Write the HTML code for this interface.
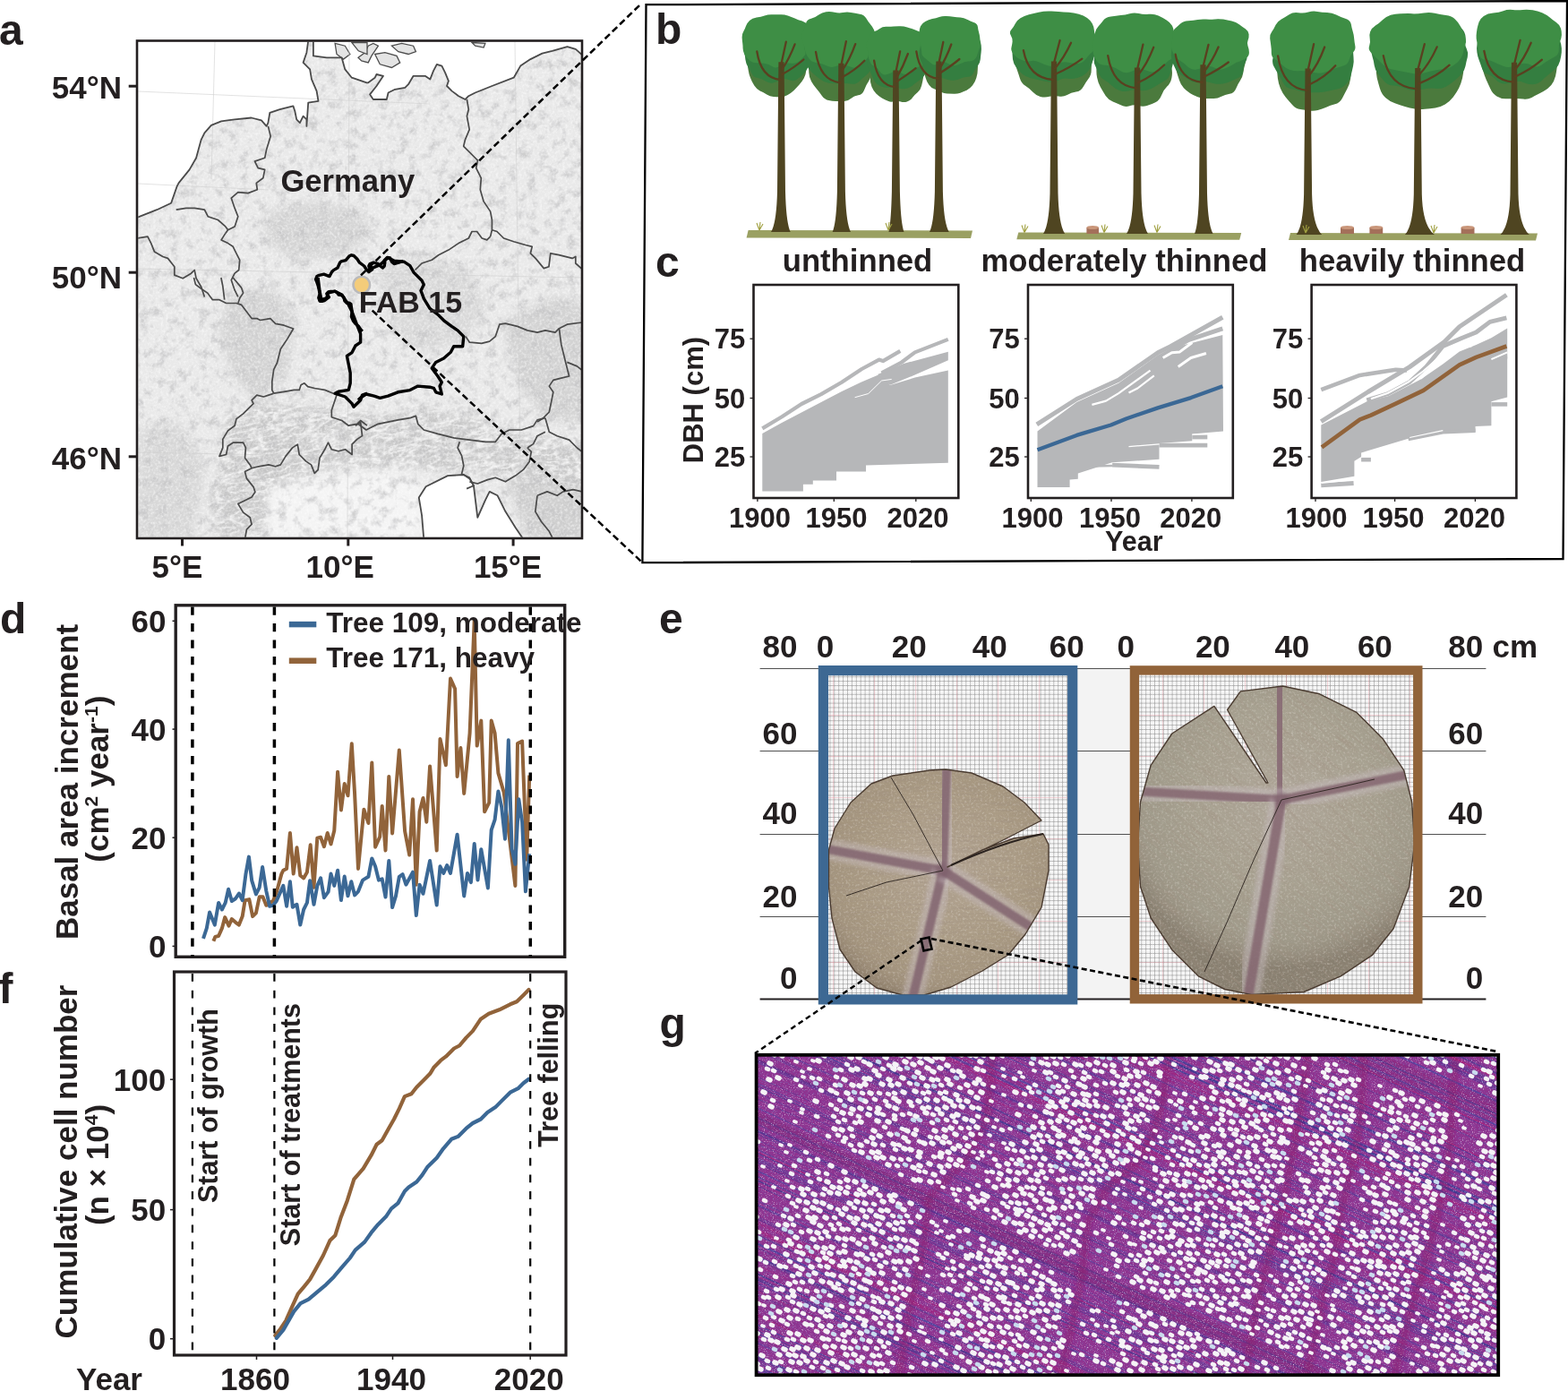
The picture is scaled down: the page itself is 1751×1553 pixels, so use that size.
<!DOCTYPE html><html><head><meta charset="utf-8"><style>html,body{margin:0;padding:0;background:#fff}svg{display:block}</style></head><body>
<svg xmlns="http://www.w3.org/2000/svg" width="1751" height="1553" viewBox="0 0 1751 1553" style="font-family:'Liberation Sans',Arial,sans-serif;font-weight:bold">
<clipPath id="mclip"><rect x="154.3" y="46.8" width="495.40000000000003" height="552.9000000000001"/></clipPath>
<filter id="mtex" x="0" y="0" width="1" height="1"><feTurbulence type="fractalNoise" baseFrequency="0.09" numOctaves="3" seed="5"/><feColorMatrix type="matrix" values="0 0 0 0 0.55  0 0 0 0 0.55  0 0 0 0 0.56  3.2 0 0 0 -1.55"/></filter>
<filter id="mtex2" x="0" y="0" width="1" height="1"><feTurbulence type="fractalNoise" baseFrequency="0.35" numOctaves="2" seed="9"/><feColorMatrix type="matrix" values="0 0 0 0 1  0 0 0 0 1  0 0 0 0 1  2.5 0 0 0 -1.05"/></filter>
<filter id="blur6"><feGaussianBlur stdDeviation="6"/></filter>
<filter id="blur3"><feGaussianBlur stdDeviation="3"/></filter>
<g clip-path="url(#mclip)">
<rect x="154.3" y="46.8" width="495.40000000000003" height="552.9000000000001" fill="#e9e9e9"/>
<path d="M250.0 468.0 L300.0 452.0 L360.0 456.0 L420.0 466.0 L470.0 456.0 L530.0 470.0 L600.0 488.0 L655.0 500.0 L655.0 545.0 L600.0 535.0 L540.0 528.0 L480.0 522.0 L430.0 518.0 L380.0 522.0 L335.0 532.0 L305.0 548.0 L290.0 600.0 L245.0 600.0 L235.0 560.0 L250.0 520.0Z" fill="#c4c4c4" fill-opacity="0.75" filter="url(#blur6)"/>
<path d="M300.0 235.0 L350.0 225.0 L400.0 235.0 L420.0 262.0 L380.0 285.0 L330.0 290.0 L295.0 270.0Z" fill="#cfcfcf" fill-opacity="0.8" filter="url(#blur6)"/>
<path d="M420.0 300.0 L470.0 285.0 L520.0 300.0 L545.0 340.0 L520.0 380.0 L470.0 395.0 L440.0 370.0Z" fill="#d2d2d2" fill-opacity="0.7" filter="url(#blur6)"/>
<path d="M255.0 330.0 L300.0 320.0 L330.0 350.0 L320.0 420.0 L290.0 450.0 L260.0 420.0 L245.0 370.0Z" fill="#cdcdcd" fill-opacity="0.8" filter="url(#blur6)"/>
<path d="M560.0 360.0 L620.0 330.0 L655.0 340.0 L655.0 470.0 L610.0 470.0 L580.0 430.0Z" fill="#cdcdcd" fill-opacity="0.8" filter="url(#blur6)"/>
<path d="M560.0 520.0 L655.0 520.0 L655.0 600.0 L590.0 600.0Z" fill="#c9c9c9" fill-opacity="0.8" filter="url(#blur6)"/>
<path d="M155.0 480.0 L200.0 470.0 L230.0 520.0 L215.0 600.0 L155.0 600.0Z" fill="#d0d0d0" fill-opacity="0.7" filter="url(#blur6)"/>
<filter id="ridgeW" x="0" y="0" width="1" height="1"><feTurbulence type="turbulence" baseFrequency="0.05 0.14" numOctaves="3" seed="2"/><feColorMatrix type="matrix" values="0 0 0 0 1  0 0 0 0 1  0 0 0 0 1  -3 0 0 0 1.1"/></filter>
<filter id="ridgeD" x="0" y="0" width="1" height="1"><feTurbulence type="turbulence" baseFrequency="0.06 0.16" numOctaves="2" seed="6"/><feColorMatrix type="matrix" values="0 0 0 0 0.45  0 0 0 0 0.45  0 0 0 0 0.45  -3 0 0 0 0.9"/></filter>
<mask id="alpsm"><path d="M250.0 462.0 L300.0 446.0 L360.0 450.0 L420.0 460.0 L470.0 450.0 L530.0 464.0 L600.0 482.0 L660.0 494.0 L660.0 550.0 L600.0 540.0 L540.0 534.0 L480.0 528.0 L430.0 524.0 L380.0 528.0 L335.0 538.0 L310.0 552.0 L295.0 604.0 L240.0 604.0 L230.0 560.0 L245.0 520.0Z" fill="#fff" filter="url(#blur6)"/></mask>
<g mask="url(#alpsm)"><rect x="150" y="420" width="520" height="200" filter="url(#ridgeD)" opacity="0.45" transform="rotate(-12 400 520)"/><rect x="150" y="420" width="520" height="200" filter="url(#ridgeW)" opacity="0.8" transform="rotate(-12 400 520)"/></g>
<path d="M300.0 548.0 L360.0 530.0 L440.0 528.0 L475.0 540.0 L470.0 600.0 L300.0 600.0Z" fill="#f4f4f4" filter="url(#blur6)"/>
<rect x="154.3" y="46.8" width="495.40000000000003" height="552.9000000000001" filter="url(#mtex)" opacity="0.75"/>
<rect x="154.3" y="46.8" width="495.40000000000003" height="552.9000000000001" filter="url(#mtex2)" opacity="0.5"/>
<path d="M152.3 44.8 L152.3 242.7 L153.7 242.7 L175.2 234.2 L191.1 226.8 L197.6 208.1 L199.5 204.4 L211.6 189.4 L219.1 176.3 L224.7 155.8 L228.4 148.3 L235.9 139.9 L247.1 135.3 L262.1 133.4 L280.7 131.5 L291.9 134.3 L297.6 140.9 L299.4 137.1 L301.3 125.9 L312.5 122.2 L327.4 118.4 L329.3 124.0 L331.2 133.4 L334.9 137.1 L338.6 129.7 L342.4 133.4 L342.4 140.9 L344.2 114.7 L355.5 112.8 L353.6 101.6 L348.0 88.6 L346.1 77.4 L338.6 69.9 L342.4 58.7 L344.2 45.6 L344.2 44.8Z" fill="#fff"/>
<path d="M349.9 45.6 L349.9 62.4 L364.8 64.3 L381.6 64.3 L385.3 77.4 L392.8 86.7 L409.6 92.3 L411.2 92.3 L418.7 86.7 L420.5 83.0 L428.0 84.8 L420.5 96.0 L413.1 105.4 L416.8 111.0 L431.8 111.0 L433.6 103.5 L441.1 99.8 L452.3 97.9 L456.0 94.2 L461.6 84.8 L474.7 84.8 L480.3 88.6 L484.0 79.2 L487.8 71.8 L493.4 73.6 L497.1 81.1 L500.9 90.4 L499.0 96.0 L504.6 101.6 L512.1 107.2 L519.5 111.0 L523.3 107.2 L530.7 103.5 L549.4 96.0 L573.7 86.7 L581.2 73.6 L592.4 66.1 L605.5 59.6 L616.7 56.8 L633.5 52.1 L642.8 54.9 L651.2 62.4 L651.7 62.4 L651.7 44.8 L349.9 44.8Z" fill="#fff"/>
<path d="M400.0 64.3 L407.5 58.7 L411.2 51.2 L416.8 48.4 L422.4 51.2 L414.9 62.4 L411.2 69.9 L403.7 68.0Z" fill="#e4e4e4" stroke="#4d4d4d" stroke-width="1.3"/>
<path d="M418.7 60.5 L429.9 58.7 L443.0 62.4 L446.7 69.9 L437.4 75.5 L424.3 71.8Z" fill="#e4e4e4" stroke="#4d4d4d" stroke-width="1.3"/>
<path d="M437.4 51.2 L448.6 48.4 L461.6 51.2 L464.4 57.7 L456.0 60.5 L444.8 57.7Z" fill="#e4e4e4" stroke="#4d4d4d" stroke-width="1.3"/>
<path d="M374.1 48.4 L385.3 51.2 L390.9 60.5 L383.5 66.1 L376.0 60.5Z" fill="#e4e4e4" stroke="#4d4d4d" stroke-width="1.3"/>
<path d="M392.8 47.5 L410.0 47.5 L410.0 60.5 L400.3 56.8Z" fill="#e4e4e4" stroke="#4d4d4d" stroke-width="1.3"/>
<path d="M527.0 47.5 L541.9 48.4 L540.1 53.1 L530.7 51.2Z" fill="#e4e4e4" stroke="#4d4d4d" stroke-width="1.3"/>
<path d="M473.3 602.0 L471.1 575.6 L467.8 555.6 L475.6 543.3 L500.0 531.1 L517.8 530.0 L524.4 534.4 L528.9 542.2 L533.3 577.8 L542.2 557.8 L546.7 548.9 L555.6 553.3 L564.4 571.1 L575.6 588.9 L584.4 602.0Z" fill="#fff"/>
<line x1="154" y1="102" x2="480" y2="116" stroke="#cfcfcf" stroke-width="0.6"/>
<line x1="154" y1="205" x2="300" y2="212" stroke="#cfcfcf" stroke-width="0.6"/>
<line x1="240" y1="46" x2="236" y2="200" stroke="#cfcfcf" stroke-width="0.6"/>
<line x1="390" y1="46" x2="388" y2="600" stroke="#cfcfcf" stroke-width="0.6"/>
<line x1="575" y1="46" x2="582" y2="600" stroke="#cfcfcf" stroke-width="0.6"/>
<line x1="154" y1="300" x2="650" y2="310" stroke="#cfcfcf" stroke-width="0.6"/>
<line x1="154" y1="505" x2="650" y2="515" stroke="#cfcfcf" stroke-width="0.6"/>
<path d="M153.7 242.7 L175.2 234.2 L191.1 226.8 L197.6 208.1 L199.5 204.4 L211.6 189.4 L219.1 176.3 L224.7 155.8 L228.4 148.3 L235.9 139.9 L247.1 135.3 L262.1 133.4 L280.7 131.5 L291.9 134.3 L297.6 140.9 L299.4 137.1 L301.3 125.9 L312.5 122.2 L327.4 118.4 L329.3 124.0 L331.2 133.4 L334.9 137.1 L338.6 129.7 L342.4 133.4 L342.4 140.9 L344.2 114.7 L355.5 112.8 L353.6 101.6 L348.0 88.6 L346.1 77.4 L338.6 69.9 L342.4 58.7 L344.2 45.6" fill="none" stroke="#4a4a4a" stroke-width="1.8" stroke-linejoin="round"/>
<path d="M349.9 45.6 L349.9 62.4 L364.8 64.3 L381.6 64.3 L385.3 77.4 L392.8 86.7 L409.6 92.3 L411.2 92.3 L418.7 86.7 L420.5 83.0 L428.0 84.8 L420.5 96.0 L413.1 105.4 L416.8 111.0 L431.8 111.0 L433.6 103.5 L441.1 99.8 L452.3 97.9 L456.0 94.2 L461.6 84.8 L474.7 84.8 L480.3 88.6 L484.0 79.2 L487.8 71.8 L493.4 73.6 L497.1 81.1 L500.9 90.4 L499.0 96.0 L504.6 101.6 L512.1 107.2 L519.5 111.0 L523.3 107.2 L530.7 103.5 L549.4 96.0 L573.7 86.7 L581.2 73.6 L592.4 66.1 L605.5 59.6 L616.7 56.8 L633.5 52.1 L642.8 54.9 L651.2 62.4" fill="none" stroke="#4a4a4a" stroke-width="1.8" stroke-linejoin="round"/>
<path d="M473.3 602.0 L471.1 575.6 L467.8 555.6 L475.6 543.3 L500.0 531.1 L517.8 530.0 L524.4 534.4 L528.9 542.2 L533.3 577.8 L542.2 557.8 L546.7 548.9 L555.6 553.3 L564.4 571.1 L575.6 588.9 L584.4 602.0" fill="none" stroke="#4a4a4a" stroke-width="1.8" stroke-linejoin="round"/>
<path d="M299.4 140.9 L302.2 152.1 L297.6 167.0 L295.7 176.3 L284.5 180.1 L288.2 187.6 L295.7 189.4 L293.8 198.8 L286.3 204.4 L287.3 211.8 L277.0 215.6 L265.8 214.6 L258.3 221.2 L262.1 232.4 L265.8 241.7 L262.1 252.9 L254.6 256.7 L251.8 260.4" fill="none" stroke="#4a4a4a" stroke-width="1.7" stroke-linejoin="round"/>
<path d="M196.7 234.2 L207.9 232.4 L217.2 232.4 L228.4 234.2 L232.2 241.7 L243.4 245.5 L251.8 252.9 L254.6 256.7" fill="none" stroke="#4a4a4a" stroke-width="1.7" stroke-linejoin="round"/>
<path d="M251.8 260.4 L247.1 267.9 L254.6 271.6 L260.2 275.3 L263.9 282.8 L267.7 290.3 L266.7 301.5 L262.1 305.2 L258.3 312.7 L262.1 323.9 L265.8 331.4" fill="none" stroke="#4a4a4a" stroke-width="1.7" stroke-linejoin="round"/>
<path d="M153.7 266.0 L164.9 264.1 L168.7 271.6 L172.4 280.9 L181.8 286.5 L187.4 288.4 L194.8 297.8 L194.8 307.1 L204.2 310.8 L213.5 305.2 L217.2 301.5 L219.1 310.8 L224.7 320.2 L228.4 331.4" fill="none" stroke="#4a4a4a" stroke-width="1.7" stroke-linejoin="round"/>
<path d="M216.5 310.0 L218.4 317.6 L226.0 323.3 L231.7 327.1 L237.4 334.7 L245.0 334.7 L252.6 338.5 L264.0 338.5 L269.7 340.4 L275.4 348.0 L281.1 355.6 L286.8 355.6 L290.6 357.5 L301.9 355.6 L307.6 361.3 L317.1 363.2 L327.6 367.0 L320.9 378.4 L313.3 389.8 L309.5 405.0 L305.7 412.6 L303.8 425.9 L303.8 435.4 L305.7 439.2" fill="none" stroke="#4a4a4a" stroke-width="1.7" stroke-linejoin="round"/>
<path d="M246.9 310.0 L248.8 319.5 L250.7 334.7" fill="none" stroke="#4a4a4a" stroke-width="1.7" stroke-linejoin="round"/>
<path d="M260.2 310.0 L269.7 321.4 L271.6 327.1 L267.8 332.8 L265.9 338.5" fill="none" stroke="#4a4a4a" stroke-width="1.7" stroke-linejoin="round"/>
<path d="M305.7 439.2 L317.1 437.3 L328.5 435.4 L334.2 435.4 L336.1 429.7 L339.9 427.8 L343.7 431.6 L351.3 433.5 L362.7 435.4 L372.2 439.2 L376.0 441.1" fill="none" stroke="#4a4a4a" stroke-width="1.7" stroke-linejoin="round"/>
<path d="M305.7 439.2 L300.0 441.1 L294.3 443.0 L286.8 441.1 L281.1 446.8 L283.0 450.6 L271.6 461.9 L264.0 467.6 L262.1 475.2 L254.5 480.9 L248.8 490.4 L248.8 499.9 L245.0 509.4 L252.6 507.5 L254.5 498.0 L260.2 494.2 L271.6 494.2 L274.4 499.9 L273.5 511.3 L279.2 518.9 L281.1 522.7" fill="none" stroke="#4a4a4a" stroke-width="1.7" stroke-linejoin="round"/>
<path d="M281.1 522.7 L273.5 526.5 L275.4 534.1 L283.0 543.6 L284.9 549.3 L281.1 555.0 L265.9 562.6 L271.6 572.1 L279.2 577.8 L281.1 585.4 L275.4 591.1 L273.5 602.5" fill="none" stroke="#4a4a4a" stroke-width="1.7" stroke-linejoin="round"/>
<path d="M281.1 522.7 L288.7 520.8 L300.0 518.9 L307.6 520.8 L313.3 518.9 L319.0 509.4 L326.6 499.9 L332.3 496.1 L334.2 507.5 L341.8 515.1 L347.5 518.9 L351.3 528.4 L355.1 524.6 L357.0 511.3 L362.7 501.8 L366.5 494.2 L370.3 501.8 L377.9 503.7 L385.5 501.8 L393.1 507.5 L393.1 496.1 L398.8 490.4 L404.5 486.6 L402.6 471.4 L396.9 475.2" fill="none" stroke="#4a4a4a" stroke-width="1.7" stroke-linejoin="round"/>
<path d="M376.0 441.1 L370.3 458.1 L370.3 465.7 L381.7 469.5 L389.3 475.2 L398.8 473.3 L402.6 469.5 L410.0 475.2" fill="none" stroke="#4a4a4a" stroke-width="1.7" stroke-linejoin="round"/>
<path d="M521.4 111.0 L523.3 122.2 L521.4 129.7 L524.2 144.6 L519.5 155.8 L517.7 163.3 L528.9 174.5 L533.5 179.1 L531.7 187.6 L537.3 198.8 L536.3 211.8 L540.1 224.9 L547.6 236.1 L549.4 245.5 L549.4 256.7 L547.6 264.1" fill="none" stroke="#4a4a4a" stroke-width="1.7" stroke-linejoin="round"/>
<path d="M463.5 301.5 L471.0 294.0 L482.2 290.3 L489.7 284.7 L500.9 279.1 L512.1 271.6 L523.3 266.0 L527.0 258.5 L532.6 258.5 L538.2 266.0 L543.8 267.9 L547.6 264.1" fill="none" stroke="#4a4a4a" stroke-width="1.7" stroke-linejoin="round"/>
<path d="M549.4 256.7 L555.0 258.5 L562.5 266.0 L573.7 269.7 L586.8 273.5 L594.2 275.3 L592.4 282.8 L598.0 288.4 L607.3 299.6 L612.9 297.8 L614.8 282.8 L624.1 284.7 L639.1 288.4 L642.8 286.5 L642.8 294.0 L651.2 301.5" fill="none" stroke="#4a4a4a" stroke-width="1.7" stroke-linejoin="round"/>
<path d="M520.0 375.6 L524.4 382.2 L537.8 383.3 L546.7 381.1 L553.3 375.6 L557.8 362.2 L564.4 361.1 L577.8 364.4 L588.9 368.9 L600.0 371.1 L608.9 368.9 L620.0 371.1 L624.4 366.7 L633.3 362.2 L650.0 360.0" fill="none" stroke="#4a4a4a" stroke-width="1.7" stroke-linejoin="round"/>
<path d="M624.4 366.7 L626.7 384.4 L631.1 402.2 L633.3 411.1 L635.6 420.0 L626.7 422.2 L617.8 424.4 L613.3 431.1 L617.8 437.8 L615.6 448.9 L613.3 460.0 L606.7 466.7 L600.0 471.1" fill="none" stroke="#4a4a4a" stroke-width="1.7" stroke-linejoin="round"/>
<path d="M633.3 404.4 L644.4 408.9 L650.0 413.3" fill="none" stroke="#4a4a4a" stroke-width="1.7" stroke-linejoin="round"/>
<path d="M400.0 473.3 L408.9 480.0 L422.2 473.3 L433.3 471.1 L444.4 468.9 L457.8 466.7 L464.4 464.4 L466.7 473.3 L473.3 480.0 L488.9 484.4 L506.7 488.9 L524.4 491.1 L542.2 493.3 L553.3 493.3 L560.0 484.4 L568.9 480.0 L582.2 480.0 L595.6 475.6 L600.0 468.9 L608.9 466.7" fill="none" stroke="#4a4a4a" stroke-width="1.7" stroke-linejoin="round"/>
<path d="M513.3 493.3 L511.1 500.0 L515.6 508.9 L517.8 520.0 L515.6 528.9 L524.4 533.3 L528.9 542.2 L521.1 545.6" fill="none" stroke="#4a4a4a" stroke-width="1.7" stroke-linejoin="round"/>
<path d="M524.4 537.8 L533.3 540.0 L544.4 535.6 L553.3 533.3 L564.4 537.8 L575.6 531.1 L584.4 524.4 L591.1 515.6 L593.3 504.4 L588.9 500.0" fill="none" stroke="#4a4a4a" stroke-width="1.7" stroke-linejoin="round"/>
<path d="M608.9 466.7 L613.3 482.2 L622.2 486.7 L635.6 491.1 L644.4 500.0 L650.0 504.4" fill="none" stroke="#4a4a4a" stroke-width="1.7" stroke-linejoin="round"/>
<path d="M600.0 553.3 L611.1 548.9 L622.2 553.3 L628.9 548.9 L640.0 546.7 L650.0 548.9" fill="none" stroke="#4a4a4a" stroke-width="1.7" stroke-linejoin="round"/>
<path d="M588.9 500.0 L595.6 495.6 L600.0 486.7 L608.9 482.2" fill="none" stroke="#4a4a4a" stroke-width="1.7" stroke-linejoin="round"/>
<path d="M600.0 553.3 L597.8 571.1 L604.4 582.2 L613.3 593.3 L617.8 602.2" fill="none" stroke="#4a4a4a" stroke-width="1.7" stroke-linejoin="round"/>
<path d="M404.7 370.0 L402.8 367.9 L400.2 364.0 L397.0 361.4 L394.4 358.2 L392.5 353.7 L393.1 347.3 L392.5 344.1 L391.9 339.5 L389.9 338.3 L387.3 338.3 L384.8 335.7 L384.1 332.5 L382.2 329.9 L378.3 329.2 L376.4 326.7 L374.5 325.4 L369.3 325.4 L366.7 326.0 L364.8 328.0 L367.4 331.8 L365.5 333.1 L362.2 335.7 L359.7 336.3 L357.1 336.3 L355.8 332.5 L357.1 328.0 L356.4 324.1 L355.2 318.9 L353.9 315.1 L352.6 311.9 L353.9 308.6 L356.4 307.3 L361.6 306.1 L368.0 308.6 L370.6 303.5 L372.5 301.6 L377.0 299.0 L379.6 293.2 L380.9 291.9 L386.1 290.6 L389.9 286.1 L392.5 284.8 L395.1 285.5 L398.9 289.3 L401.5 293.2 L406.7 297.0 L409.2 300.9 L411.8 303.5 L415.7 300.9 L414.4 298.3 L411.8 297.0 L413.1 294.5 L417.0 293.2 L422.1 294.5 L424.7 297.0 L427.3 299.0 L429.2 297.0 L429.8 293.2 L429.2 290.6 L432.4 287.4 L435.6 288.0 L437.6 292.5 L440.1 294.5 L445.3 293.2 L450.0 291.2" fill="none" stroke="#000" stroke-width="3.4" stroke-linejoin="round"/>
<path d="M411.1 301.1 L416.7 298.9 L424.4 295.6 L433.3 287.8 L440.0 291.1 L451.1 292.2 L457.8 296.7 L462.2 304.4 L471.1 313.3 L473.3 317.8 L470.0 324.4 L473.3 333.3 L480.0 344.4 L488.9 351.1 L495.6 357.8 L504.4 364.4 L511.1 368.9 L517.8 375.6 L516.7 386.7 L506.7 386.7 L503.3 393.3 L495.6 400.0 L486.7 404.4 L482.2 411.1 L488.9 420.0 L493.3 426.7 L491.1 431.1 L493.3 440.0 L486.7 437.8 L484.4 433.3 L480.0 432.2 L466.7 431.1 L457.8 435.6 L444.4 437.8 L433.3 442.2 L424.4 444.4 L417.8 442.2 L408.9 440.0 L402.2 444.4 L400.0 446.7" fill="none" stroke="#000" stroke-width="3.4" stroke-linejoin="round"/>
<path d="M410.0 439.2 L404.5 441.1 L402.6 446.8 L395.0 454.3 L393.1 450.6 L385.5 443.0 L374.1 439.2 L377.9 437.3 L389.3 435.4 L391.2 427.8 L391.2 416.4 L387.4 397.4 L393.1 393.6 L396.9 386.0 L402.6 382.2 L402.6 372.7 L398.8 363.2 L393.1 348.0 L389.3 340.4 L381.7 329.0 L374.1 325.2 L366.5 327.1 L364.6 332.8 L358.9 334.7 L357.0 325.2 L355.1 310.0" fill="none" stroke="#000" stroke-width="3.4" stroke-linejoin="round"/>
</g>
<circle cx="403.8" cy="318" r="9.3" fill="#f4cc7a" stroke="#b9b9bb" stroke-width="2.6"/>
<text x="313.4" y="213.6" font-size="34.6" text-anchor="start" fill="#231f20" >Germany</text>
<text x="400.8" y="349.3" font-size="34" text-anchor="start" fill="#231f20" >FAB 15</text>
<clipPath id="gclip"><rect x="844" y="1177" width="829.5" height="358.5"/></clipPath>
<g clip-path="url(#gclip)">
<rect x="844" y="1177" width="829.5" height="358.5" fill="#8e3490"/>
<filter id="gspk" x="0" y="0" width="1" height="1"><feTurbulence type="fractalNoise" baseFrequency="0.9" numOctaves="1" seed="12"/><feColorMatrix type="matrix" values="0 0 0 0 0.95  0 0 0 0 0.85  0 0 0 0 0.95  4 0 0 0 -2.3"/></filter>
<filter id="gspk2" x="0" y="0" width="1" height="1"><feTurbulence type="fractalNoise" baseFrequency="0.6" numOctaves="1" seed="21"/><feColorMatrix type="matrix" values="0 0 0 0 0.2  0 0 0 0 0.25  0 0 0 0 0.6  4 0 0 0 -2.2"/></filter>
<line x1="834" y1="1513.9" x2="1683.5" y2="1904.6" stroke="#3a4aa6" stroke-width="1.2" stroke-opacity="0.32"/>
<line x1="834" y1="832.2" x2="1683.5" y2="1222.9" stroke="#5a3596" stroke-width="1.4" stroke-opacity="0.62"/>
<line x1="834" y1="786.9" x2="1683.5" y2="1177.7" stroke="#34449e" stroke-width="1.2" stroke-opacity="0.32"/>
<line x1="834" y1="1197.0" x2="1683.5" y2="1587.8" stroke="#2c3a90" stroke-width="0.7" stroke-opacity="0.50"/>
<line x1="834" y1="1260.6" x2="1683.5" y2="1651.3" stroke="#34449e" stroke-width="1.4" stroke-opacity="0.32"/>
<line x1="834" y1="1073.7" x2="1683.5" y2="1464.5" stroke="#5a3596" stroke-width="2.0" stroke-opacity="0.32"/>
<line x1="834" y1="988.3" x2="1683.5" y2="1379.0" stroke="#34449e" stroke-width="0.8" stroke-opacity="0.34"/>
<line x1="834" y1="1204.4" x2="1683.5" y2="1595.1" stroke="#3a4aa6" stroke-width="1.6" stroke-opacity="0.34"/>
<line x1="834" y1="1267.2" x2="1683.5" y2="1657.9" stroke="#5a3596" stroke-width="1.1" stroke-opacity="0.49"/>
<line x1="834" y1="1207.6" x2="1683.5" y2="1598.4" stroke="#2c3a90" stroke-width="1.5" stroke-opacity="0.47"/>
<line x1="834" y1="1098.4" x2="1683.5" y2="1489.2" stroke="#5a3596" stroke-width="1.0" stroke-opacity="0.50"/>
<line x1="834" y1="1045.7" x2="1683.5" y2="1436.5" stroke="#b01c74" stroke-width="0.9" stroke-opacity="0.36"/>
<line x1="834" y1="822.4" x2="1683.5" y2="1213.1" stroke="#34449e" stroke-width="1.0" stroke-opacity="0.47"/>
<line x1="834" y1="1339.5" x2="1683.5" y2="1730.2" stroke="#3a4aa6" stroke-width="1.0" stroke-opacity="0.64"/>
<line x1="834" y1="1165.8" x2="1683.5" y2="1556.5" stroke="#2c3a90" stroke-width="0.8" stroke-opacity="0.42"/>
<line x1="834" y1="1093.7" x2="1683.5" y2="1484.5" stroke="#b01c74" stroke-width="1.9" stroke-opacity="0.33"/>
<line x1="834" y1="1214.6" x2="1683.5" y2="1605.3" stroke="#5a3596" stroke-width="1.8" stroke-opacity="0.41"/>
<line x1="834" y1="1231.6" x2="1683.5" y2="1622.4" stroke="#3a4aa6" stroke-width="1.4" stroke-opacity="0.46"/>
<line x1="834" y1="1511.3" x2="1683.5" y2="1902.1" stroke="#2c3a90" stroke-width="1.3" stroke-opacity="0.53"/>
<line x1="834" y1="1340.8" x2="1683.5" y2="1731.6" stroke="#2c3a90" stroke-width="1.0" stroke-opacity="0.50"/>
<line x1="834" y1="984.2" x2="1683.5" y2="1375.0" stroke="#b01c74" stroke-width="1.1" stroke-opacity="0.53"/>
<line x1="834" y1="1508.1" x2="1683.5" y2="1898.9" stroke="#2c3a90" stroke-width="1.1" stroke-opacity="0.51"/>
<line x1="834" y1="804.1" x2="1683.5" y2="1194.8" stroke="#b01c74" stroke-width="1.7" stroke-opacity="0.35"/>
<line x1="834" y1="1074.7" x2="1683.5" y2="1465.5" stroke="#34449e" stroke-width="1.9" stroke-opacity="0.47"/>
<line x1="834" y1="1115.7" x2="1683.5" y2="1506.4" stroke="#34449e" stroke-width="1.4" stroke-opacity="0.61"/>
<line x1="834" y1="1446.9" x2="1683.5" y2="1837.7" stroke="#b01c74" stroke-width="1.0" stroke-opacity="0.45"/>
<line x1="834" y1="1302.2" x2="1683.5" y2="1692.9" stroke="#3a4aa6" stroke-width="1.1" stroke-opacity="0.38"/>
<line x1="834" y1="897.7" x2="1683.5" y2="1288.5" stroke="#2c3a90" stroke-width="0.9" stroke-opacity="0.38"/>
<line x1="834" y1="1420.6" x2="1683.5" y2="1811.4" stroke="#b01c74" stroke-width="0.9" stroke-opacity="0.40"/>
<line x1="834" y1="1091.5" x2="1683.5" y2="1482.3" stroke="#34449e" stroke-width="1.1" stroke-opacity="0.50"/>
<line x1="834" y1="1308.4" x2="1683.5" y2="1699.1" stroke="#34449e" stroke-width="1.3" stroke-opacity="0.52"/>
<line x1="834" y1="1121.6" x2="1683.5" y2="1512.4" stroke="#2c3a90" stroke-width="1.8" stroke-opacity="0.63"/>
<line x1="834" y1="1070.3" x2="1683.5" y2="1461.1" stroke="#5a3596" stroke-width="1.2" stroke-opacity="0.34"/>
<line x1="834" y1="806.7" x2="1683.5" y2="1197.5" stroke="#b01c74" stroke-width="0.7" stroke-opacity="0.37"/>
<line x1="834" y1="844.8" x2="1683.5" y2="1235.5" stroke="#34449e" stroke-width="1.4" stroke-opacity="0.34"/>
<line x1="834" y1="877.8" x2="1683.5" y2="1268.6" stroke="#5a3596" stroke-width="0.7" stroke-opacity="0.43"/>
<line x1="834" y1="813.1" x2="1683.5" y2="1203.9" stroke="#2c3a90" stroke-width="0.9" stroke-opacity="0.43"/>
<line x1="834" y1="1519.9" x2="1683.5" y2="1910.7" stroke="#3a4aa6" stroke-width="1.4" stroke-opacity="0.47"/>
<line x1="834" y1="1434.9" x2="1683.5" y2="1825.6" stroke="#2c3a90" stroke-width="2.0" stroke-opacity="0.46"/>
<line x1="834" y1="1006.0" x2="1683.5" y2="1396.8" stroke="#b01c74" stroke-width="0.8" stroke-opacity="0.56"/>
<line x1="834" y1="1139.2" x2="1683.5" y2="1529.9" stroke="#3a4aa6" stroke-width="1.6" stroke-opacity="0.48"/>
<line x1="834" y1="1516.4" x2="1683.5" y2="1907.1" stroke="#34449e" stroke-width="1.3" stroke-opacity="0.35"/>
<line x1="834" y1="1486.9" x2="1683.5" y2="1877.7" stroke="#5a3596" stroke-width="1.7" stroke-opacity="0.40"/>
<line x1="834" y1="1312.9" x2="1683.5" y2="1703.7" stroke="#2c3a90" stroke-width="1.0" stroke-opacity="0.43"/>
<line x1="834" y1="1041.0" x2="1683.5" y2="1431.8" stroke="#34449e" stroke-width="0.9" stroke-opacity="0.49"/>
<line x1="834" y1="1020.2" x2="1683.5" y2="1411.0" stroke="#5a3596" stroke-width="0.9" stroke-opacity="0.58"/>
<line x1="834" y1="1400.7" x2="1683.5" y2="1791.4" stroke="#34449e" stroke-width="1.7" stroke-opacity="0.56"/>
<line x1="834" y1="916.6" x2="1683.5" y2="1307.4" stroke="#34449e" stroke-width="1.3" stroke-opacity="0.56"/>
<line x1="834" y1="1387.9" x2="1683.5" y2="1778.7" stroke="#2c3a90" stroke-width="1.3" stroke-opacity="0.37"/>
<line x1="834" y1="1520.8" x2="1683.5" y2="1911.5" stroke="#5a3596" stroke-width="1.2" stroke-opacity="0.63"/>
<line x1="834" y1="1519.6" x2="1683.5" y2="1910.3" stroke="#3a4aa6" stroke-width="1.1" stroke-opacity="0.38"/>
<line x1="834" y1="1132.4" x2="1683.5" y2="1523.1" stroke="#34449e" stroke-width="1.1" stroke-opacity="0.47"/>
<line x1="834" y1="1428.1" x2="1683.5" y2="1818.9" stroke="#5a3596" stroke-width="1.3" stroke-opacity="0.53"/>
<line x1="834" y1="1423.5" x2="1683.5" y2="1814.2" stroke="#2c3a90" stroke-width="0.8" stroke-opacity="0.44"/>
<line x1="834" y1="1138.7" x2="1683.5" y2="1529.5" stroke="#34449e" stroke-width="0.8" stroke-opacity="0.58"/>
<line x1="834" y1="826.3" x2="1683.5" y2="1217.0" stroke="#3a4aa6" stroke-width="1.9" stroke-opacity="0.55"/>
<line x1="834" y1="1077.5" x2="1683.5" y2="1468.3" stroke="#b01c74" stroke-width="1.9" stroke-opacity="0.55"/>
<line x1="834" y1="1550.0" x2="1683.5" y2="1940.8" stroke="#34449e" stroke-width="0.6" stroke-opacity="0.51"/>
<line x1="834" y1="1401.0" x2="1683.5" y2="1791.8" stroke="#b01c74" stroke-width="0.8" stroke-opacity="0.59"/>
<line x1="834" y1="1281.8" x2="1683.5" y2="1672.6" stroke="#b01c74" stroke-width="1.1" stroke-opacity="0.49"/>
<line x1="834" y1="774.1" x2="1683.5" y2="1164.9" stroke="#34449e" stroke-width="1.7" stroke-opacity="0.55"/>
<line x1="834" y1="1177.5" x2="1683.5" y2="1568.2" stroke="#2c3a90" stroke-width="1.9" stroke-opacity="0.45"/>
<line x1="834" y1="1416.7" x2="1683.5" y2="1807.5" stroke="#34449e" stroke-width="0.9" stroke-opacity="0.39"/>
<line x1="834" y1="1157.2" x2="1683.5" y2="1547.9" stroke="#3a4aa6" stroke-width="1.7" stroke-opacity="0.41"/>
<line x1="834" y1="1091.6" x2="1683.5" y2="1482.4" stroke="#5a3596" stroke-width="0.8" stroke-opacity="0.62"/>
<line x1="834" y1="1473.8" x2="1683.5" y2="1864.6" stroke="#3a4aa6" stroke-width="1.5" stroke-opacity="0.59"/>
<line x1="834" y1="1092.9" x2="1683.5" y2="1483.6" stroke="#5a3596" stroke-width="1.9" stroke-opacity="0.48"/>
<line x1="834" y1="878.2" x2="1683.5" y2="1269.0" stroke="#5a3596" stroke-width="1.3" stroke-opacity="0.61"/>
<line x1="834" y1="1242.9" x2="1683.5" y2="1633.7" stroke="#34449e" stroke-width="1.7" stroke-opacity="0.35"/>
<line x1="834" y1="1135.1" x2="1683.5" y2="1525.9" stroke="#34449e" stroke-width="1.6" stroke-opacity="0.49"/>
<line x1="834" y1="1301.8" x2="1683.5" y2="1692.6" stroke="#3a4aa6" stroke-width="1.3" stroke-opacity="0.47"/>
<line x1="834" y1="1462.3" x2="1683.5" y2="1853.0" stroke="#2c3a90" stroke-width="0.7" stroke-opacity="0.37"/>
<line x1="834" y1="1373.7" x2="1683.5" y2="1764.4" stroke="#2c3a90" stroke-width="1.3" stroke-opacity="0.50"/>
<line x1="834" y1="1110.9" x2="1683.5" y2="1501.7" stroke="#2c3a90" stroke-width="1.5" stroke-opacity="0.48"/>
<line x1="834" y1="916.2" x2="1683.5" y2="1307.0" stroke="#5a3596" stroke-width="1.0" stroke-opacity="0.48"/>
<line x1="834" y1="1162.4" x2="1683.5" y2="1553.2" stroke="#b01c74" stroke-width="0.9" stroke-opacity="0.48"/>
<line x1="834" y1="1493.8" x2="1683.5" y2="1884.6" stroke="#3a4aa6" stroke-width="1.8" stroke-opacity="0.37"/>
<line x1="834" y1="866.5" x2="1683.5" y2="1257.3" stroke="#b01c74" stroke-width="0.8" stroke-opacity="0.45"/>
<line x1="834" y1="1292.9" x2="1683.5" y2="1683.7" stroke="#2c3a90" stroke-width="1.2" stroke-opacity="0.37"/>
<line x1="834" y1="1383.0" x2="1683.5" y2="1773.7" stroke="#3a4aa6" stroke-width="1.9" stroke-opacity="0.35"/>
<line x1="834" y1="871.2" x2="1683.5" y2="1261.9" stroke="#3a4aa6" stroke-width="1.8" stroke-opacity="0.64"/>
<line x1="834" y1="1353.2" x2="1683.5" y2="1744.0" stroke="#34449e" stroke-width="0.7" stroke-opacity="0.61"/>
<line x1="834" y1="1547.4" x2="1683.5" y2="1938.2" stroke="#34449e" stroke-width="1.8" stroke-opacity="0.36"/>
<line x1="834" y1="1550.8" x2="1683.5" y2="1941.5" stroke="#b01c74" stroke-width="1.2" stroke-opacity="0.45"/>
<line x1="834" y1="1011.3" x2="1683.5" y2="1402.1" stroke="#3a4aa6" stroke-width="1.6" stroke-opacity="0.31"/>
<line x1="834" y1="1123.2" x2="1683.5" y2="1514.0" stroke="#5a3596" stroke-width="1.6" stroke-opacity="0.43"/>
<line x1="834" y1="1255.2" x2="1683.5" y2="1646.0" stroke="#5a3596" stroke-width="1.3" stroke-opacity="0.32"/>
<line x1="834" y1="1532.9" x2="1683.5" y2="1923.7" stroke="#34449e" stroke-width="0.7" stroke-opacity="0.39"/>
<line x1="834" y1="1480.4" x2="1683.5" y2="1871.1" stroke="#2c3a90" stroke-width="0.9" stroke-opacity="0.56"/>
<line x1="834" y1="1435.4" x2="1683.5" y2="1826.2" stroke="#b01c74" stroke-width="1.5" stroke-opacity="0.63"/>
<line x1="834" y1="876.3" x2="1683.5" y2="1267.0" stroke="#b01c74" stroke-width="1.9" stroke-opacity="0.50"/>
<line x1="834" y1="828.4" x2="1683.5" y2="1219.2" stroke="#3a4aa6" stroke-width="0.7" stroke-opacity="0.54"/>
<line x1="834" y1="1471.9" x2="1683.5" y2="1862.7" stroke="#b01c74" stroke-width="1.0" stroke-opacity="0.31"/>
<line x1="834" y1="1397.1" x2="1683.5" y2="1787.9" stroke="#2c3a90" stroke-width="0.7" stroke-opacity="0.60"/>
<line x1="834" y1="968.2" x2="1683.5" y2="1358.9" stroke="#2c3a90" stroke-width="0.8" stroke-opacity="0.30"/>
<line x1="834" y1="1090.6" x2="1683.5" y2="1481.4" stroke="#5a3596" stroke-width="1.9" stroke-opacity="0.52"/>
<line x1="834" y1="1177.7" x2="1683.5" y2="1568.5" stroke="#2c3a90" stroke-width="0.9" stroke-opacity="0.34"/>
<line x1="834" y1="966.1" x2="1683.5" y2="1356.9" stroke="#34449e" stroke-width="0.9" stroke-opacity="0.63"/>
<line x1="834" y1="1181.1" x2="1683.5" y2="1571.8" stroke="#3a4aa6" stroke-width="0.9" stroke-opacity="0.46"/>
<line x1="834" y1="973.0" x2="1683.5" y2="1363.8" stroke="#34449e" stroke-width="1.7" stroke-opacity="0.65"/>
<line x1="834" y1="769.3" x2="1683.5" y2="1160.0" stroke="#2c3a90" stroke-width="1.6" stroke-opacity="0.49"/>
<line x1="834" y1="1167.6" x2="1683.5" y2="1558.4" stroke="#34449e" stroke-width="0.9" stroke-opacity="0.46"/>
<line x1="834" y1="1281.2" x2="1683.5" y2="1672.0" stroke="#b01c74" stroke-width="1.4" stroke-opacity="0.61"/>
<line x1="834" y1="1002.8" x2="1683.5" y2="1393.5" stroke="#5a3596" stroke-width="0.9" stroke-opacity="0.38"/>
<line x1="834" y1="1421.6" x2="1683.5" y2="1812.4" stroke="#34449e" stroke-width="1.6" stroke-opacity="0.52"/>
<line x1="834" y1="1547.1" x2="1683.5" y2="1937.8" stroke="#b01c74" stroke-width="2.0" stroke-opacity="0.59"/>
<line x1="834" y1="813.5" x2="1683.5" y2="1204.2" stroke="#2c3a90" stroke-width="1.6" stroke-opacity="0.39"/>
<line x1="834" y1="801.2" x2="1683.5" y2="1192.0" stroke="#34449e" stroke-width="1.5" stroke-opacity="0.43"/>
<line x1="834" y1="1292.4" x2="1683.5" y2="1683.2" stroke="#5a3596" stroke-width="1.0" stroke-opacity="0.38"/>
<line x1="834" y1="793.1" x2="1683.5" y2="1183.9" stroke="#3a4aa6" stroke-width="0.9" stroke-opacity="0.39"/>
<line x1="834" y1="967.2" x2="1683.5" y2="1358.0" stroke="#2c3a90" stroke-width="1.9" stroke-opacity="0.64"/>
<line x1="834" y1="1015.3" x2="1683.5" y2="1406.1" stroke="#5a3596" stroke-width="0.6" stroke-opacity="0.61"/>
<line x1="834" y1="1041.7" x2="1683.5" y2="1432.5" stroke="#34449e" stroke-width="0.6" stroke-opacity="0.43"/>
<line x1="834" y1="979.7" x2="1683.5" y2="1370.5" stroke="#b01c74" stroke-width="1.5" stroke-opacity="0.39"/>
<line x1="834" y1="829.5" x2="1683.5" y2="1220.3" stroke="#2c3a90" stroke-width="1.7" stroke-opacity="0.35"/>
<line x1="834" y1="790.3" x2="1683.5" y2="1181.0" stroke="#5a3596" stroke-width="0.6" stroke-opacity="0.41"/>
<line x1="834" y1="824.5" x2="1683.5" y2="1215.2" stroke="#34449e" stroke-width="1.9" stroke-opacity="0.60"/>
<line x1="834" y1="1282.0" x2="1683.5" y2="1672.8" stroke="#34449e" stroke-width="1.6" stroke-opacity="0.61"/>
<line x1="834" y1="1367.3" x2="1683.5" y2="1758.1" stroke="#b01c74" stroke-width="1.6" stroke-opacity="0.47"/>
<line x1="834" y1="1335.2" x2="1683.5" y2="1726.0" stroke="#3a4aa6" stroke-width="1.5" stroke-opacity="0.32"/>
<line x1="834" y1="1257.9" x2="1683.5" y2="1648.7" stroke="#5a3596" stroke-width="1.6" stroke-opacity="0.58"/>
<line x1="834" y1="1483.5" x2="1683.5" y2="1874.3" stroke="#34449e" stroke-width="1.7" stroke-opacity="0.50"/>
<line x1="834" y1="1416.9" x2="1683.5" y2="1807.7" stroke="#2c3a90" stroke-width="1.4" stroke-opacity="0.61"/>
<line x1="834" y1="824.9" x2="1683.5" y2="1215.7" stroke="#34449e" stroke-width="0.7" stroke-opacity="0.52"/>
<line x1="834" y1="1057.7" x2="1683.5" y2="1448.5" stroke="#2c3a90" stroke-width="1.2" stroke-opacity="0.32"/>
<line x1="834" y1="1257.0" x2="1683.5" y2="1647.8" stroke="#2c3a90" stroke-width="1.6" stroke-opacity="0.47"/>
<line x1="834" y1="1121.9" x2="1683.5" y2="1512.6" stroke="#2c3a90" stroke-width="0.7" stroke-opacity="0.63"/>
<line x1="834" y1="830.4" x2="1683.5" y2="1221.2" stroke="#5a3596" stroke-width="1.3" stroke-opacity="0.56"/>
<line x1="834" y1="958.4" x2="1683.5" y2="1349.1" stroke="#b01c74" stroke-width="0.7" stroke-opacity="0.39"/>
<line x1="834" y1="941.2" x2="1683.5" y2="1332.0" stroke="#34449e" stroke-width="1.5" stroke-opacity="0.46"/>
<line x1="834" y1="818.3" x2="1683.5" y2="1209.0" stroke="#b01c74" stroke-width="1.9" stroke-opacity="0.40"/>
<line x1="834" y1="1249.7" x2="1683.5" y2="1640.4" stroke="#2c3a90" stroke-width="1.5" stroke-opacity="0.33"/>
<line x1="834" y1="1021.9" x2="1683.5" y2="1412.7" stroke="#34449e" stroke-width="1.5" stroke-opacity="0.54"/>
<line x1="834" y1="1210.4" x2="1683.5" y2="1601.1" stroke="#5a3596" stroke-width="0.6" stroke-opacity="0.32"/>
<line x1="834" y1="1533.5" x2="1683.5" y2="1924.3" stroke="#3a4aa6" stroke-width="0.7" stroke-opacity="0.38"/>
<line x1="834" y1="989.2" x2="1683.5" y2="1380.0" stroke="#b01c74" stroke-width="1.3" stroke-opacity="0.46"/>
<line x1="834" y1="1369.6" x2="1683.5" y2="1760.4" stroke="#b01c74" stroke-width="2.0" stroke-opacity="0.49"/>
<line x1="834" y1="1538.0" x2="1683.5" y2="1928.8" stroke="#3a4aa6" stroke-width="1.9" stroke-opacity="0.31"/>
<line x1="834" y1="818.1" x2="1683.5" y2="1208.8" stroke="#b01c74" stroke-width="1.3" stroke-opacity="0.65"/>
<line x1="834" y1="1065.9" x2="1683.5" y2="1456.7" stroke="#3a4aa6" stroke-width="1.9" stroke-opacity="0.63"/>
<line x1="834" y1="1221.3" x2="1683.5" y2="1612.1" stroke="#2c3a90" stroke-width="0.8" stroke-opacity="0.48"/>
<line x1="834" y1="862.9" x2="1683.5" y2="1253.7" stroke="#3a4aa6" stroke-width="1.7" stroke-opacity="0.48"/>
<line x1="834" y1="1318.6" x2="1683.5" y2="1709.4" stroke="#2c3a90" stroke-width="0.9" stroke-opacity="0.61"/>
<line x1="834" y1="1071.7" x2="1683.5" y2="1462.4" stroke="#b01c74" stroke-width="0.8" stroke-opacity="0.63"/>
<line x1="834" y1="1080.7" x2="1683.5" y2="1471.5" stroke="#b01c74" stroke-width="1.6" stroke-opacity="0.45"/>
<line x1="834" y1="1009.4" x2="1683.5" y2="1400.2" stroke="#b01c74" stroke-width="1.8" stroke-opacity="0.30"/>
<line x1="834" y1="1427.0" x2="1683.5" y2="1817.8" stroke="#3a4aa6" stroke-width="0.8" stroke-opacity="0.62"/>
<line x1="834" y1="1476.9" x2="1683.5" y2="1867.7" stroke="#2c3a90" stroke-width="1.0" stroke-opacity="0.43"/>
<line x1="834" y1="1068.5" x2="1683.5" y2="1459.3" stroke="#b01c74" stroke-width="1.8" stroke-opacity="0.33"/>
<line x1="834" y1="1360.4" x2="1683.5" y2="1751.2" stroke="#b01c74" stroke-width="1.8" stroke-opacity="0.40"/>
<line x1="834" y1="1423.5" x2="1683.5" y2="1814.3" stroke="#2c3a90" stroke-width="1.0" stroke-opacity="0.63"/>
<line x1="834" y1="1532.4" x2="1683.5" y2="1923.1" stroke="#34449e" stroke-width="1.2" stroke-opacity="0.41"/>
<line x1="834" y1="1383.9" x2="1683.5" y2="1774.7" stroke="#3a4aa6" stroke-width="1.2" stroke-opacity="0.31"/>
<line x1="834" y1="1486.4" x2="1683.5" y2="1877.1" stroke="#b01c74" stroke-width="1.9" stroke-opacity="0.49"/>
<line x1="834" y1="796.5" x2="1683.5" y2="1187.3" stroke="#2c3a90" stroke-width="1.6" stroke-opacity="0.46"/>
<line x1="834" y1="1271.6" x2="1683.5" y2="1662.4" stroke="#34449e" stroke-width="1.0" stroke-opacity="0.32"/>
<line x1="834" y1="858.7" x2="1683.5" y2="1249.4" stroke="#5a3596" stroke-width="1.3" stroke-opacity="0.42"/>
<line x1="834" y1="961.2" x2="1683.5" y2="1352.0" stroke="#3a4aa6" stroke-width="1.6" stroke-opacity="0.53"/>
<line x1="834" y1="1280.8" x2="1683.5" y2="1671.6" stroke="#b01c74" stroke-width="1.0" stroke-opacity="0.50"/>
<line x1="834" y1="852.6" x2="1683.5" y2="1243.4" stroke="#b01c74" stroke-width="1.5" stroke-opacity="0.33"/>
<line x1="834" y1="1480.4" x2="1683.5" y2="1871.2" stroke="#5a3596" stroke-width="1.3" stroke-opacity="0.38"/>
<line x1="834" y1="1552.7" x2="1683.5" y2="1943.5" stroke="#3a4aa6" stroke-width="1.2" stroke-opacity="0.35"/>
<line x1="834" y1="951.9" x2="1683.5" y2="1342.7" stroke="#34449e" stroke-width="0.8" stroke-opacity="0.49"/>
<line x1="834" y1="947.9" x2="1683.5" y2="1338.7" stroke="#3a4aa6" stroke-width="1.0" stroke-opacity="0.50"/>
<line x1="834" y1="1355.6" x2="1683.5" y2="1746.4" stroke="#2c3a90" stroke-width="1.2" stroke-opacity="0.44"/>
<line x1="834" y1="924.7" x2="1683.5" y2="1315.5" stroke="#5a3596" stroke-width="1.0" stroke-opacity="0.56"/>
<line x1="834" y1="978.6" x2="1683.5" y2="1369.4" stroke="#b01c74" stroke-width="2.0" stroke-opacity="0.34"/>
<line x1="834" y1="1179.6" x2="1683.5" y2="1570.4" stroke="#5a3596" stroke-width="1.7" stroke-opacity="0.60"/>
<line x1="834" y1="973.4" x2="1683.5" y2="1364.2" stroke="#2c3a90" stroke-width="0.9" stroke-opacity="0.44"/>
<line x1="834" y1="1101.8" x2="1683.5" y2="1492.6" stroke="#b01c74" stroke-width="1.0" stroke-opacity="0.59"/>
<line x1="834" y1="858.6" x2="1683.5" y2="1249.4" stroke="#2c3a90" stroke-width="1.2" stroke-opacity="0.57"/>
<line x1="834" y1="1530.2" x2="1683.5" y2="1920.9" stroke="#b01c74" stroke-width="1.3" stroke-opacity="0.33"/>
<line x1="834" y1="1440.1" x2="1683.5" y2="1830.9" stroke="#5a3596" stroke-width="2.0" stroke-opacity="0.39"/>
<line x1="834" y1="935.7" x2="1683.5" y2="1326.5" stroke="#2c3a90" stroke-width="0.8" stroke-opacity="0.64"/>
<line x1="834" y1="1508.8" x2="1683.5" y2="1899.6" stroke="#2c3a90" stroke-width="1.6" stroke-opacity="0.53"/>
<line x1="834" y1="824.9" x2="1683.5" y2="1215.6" stroke="#b01c74" stroke-width="1.7" stroke-opacity="0.30"/>
<line x1="834" y1="942.7" x2="1683.5" y2="1333.5" stroke="#34449e" stroke-width="1.9" stroke-opacity="0.53"/>
<line x1="834" y1="1525.5" x2="1683.5" y2="1916.3" stroke="#3a4aa6" stroke-width="1.5" stroke-opacity="0.48"/>
<line x1="834" y1="1314.8" x2="1683.5" y2="1705.6" stroke="#b01c74" stroke-width="0.8" stroke-opacity="0.32"/>
<line x1="834" y1="1510.4" x2="1683.5" y2="1901.2" stroke="#5a3596" stroke-width="0.9" stroke-opacity="0.39"/>
<line x1="834" y1="757.9" x2="1683.5" y2="1148.7" stroke="#5a3596" stroke-width="1.4" stroke-opacity="0.65"/>
<line x1="834" y1="1522.7" x2="1683.5" y2="1913.5" stroke="#3a4aa6" stroke-width="1.5" stroke-opacity="0.61"/>
<line x1="834" y1="1177.2" x2="1683.5" y2="1568.0" stroke="#b01c74" stroke-width="1.4" stroke-opacity="0.31"/>
<line x1="834" y1="1319.7" x2="1683.5" y2="1710.4" stroke="#b01c74" stroke-width="1.0" stroke-opacity="0.31"/>
<line x1="834" y1="1463.6" x2="1683.5" y2="1854.3" stroke="#b01c74" stroke-width="1.5" stroke-opacity="0.33"/>
<line x1="834" y1="1289.9" x2="1683.5" y2="1680.7" stroke="#34449e" stroke-width="1.9" stroke-opacity="0.38"/>
<line x1="834" y1="1312.6" x2="1683.5" y2="1703.4" stroke="#2c3a90" stroke-width="1.6" stroke-opacity="0.43"/>
<line x1="834" y1="915.2" x2="1683.5" y2="1305.9" stroke="#b01c74" stroke-width="1.7" stroke-opacity="0.56"/>
<line x1="834" y1="810.8" x2="1683.5" y2="1201.6" stroke="#5a3596" stroke-width="1.3" stroke-opacity="0.37"/>
<line x1="834" y1="941.3" x2="1683.5" y2="1332.1" stroke="#34449e" stroke-width="0.9" stroke-opacity="0.57"/>
<line x1="834" y1="844.0" x2="1683.5" y2="1234.8" stroke="#3a4aa6" stroke-width="1.5" stroke-opacity="0.51"/>
<line x1="834" y1="1144.3" x2="1683.5" y2="1535.1" stroke="#34449e" stroke-width="1.9" stroke-opacity="0.32"/>
<line x1="834" y1="873.9" x2="1683.5" y2="1264.7" stroke="#5a3596" stroke-width="1.2" stroke-opacity="0.37"/>
<line x1="834" y1="870.3" x2="1683.5" y2="1261.1" stroke="#5a3596" stroke-width="0.7" stroke-opacity="0.32"/>
<line x1="834" y1="1116.0" x2="1683.5" y2="1506.8" stroke="#b01c74" stroke-width="1.6" stroke-opacity="0.41"/>
<line x1="834" y1="1553.5" x2="1683.5" y2="1944.3" stroke="#2c3a90" stroke-width="1.9" stroke-opacity="0.42"/>
<line x1="834" y1="1278.0" x2="1683.5" y2="1668.8" stroke="#34449e" stroke-width="1.3" stroke-opacity="0.46"/>
<line x1="834" y1="1287.5" x2="1683.5" y2="1678.3" stroke="#3a4aa6" stroke-width="1.1" stroke-opacity="0.43"/>
<line x1="834" y1="1110.3" x2="1683.5" y2="1501.1" stroke="#3a4aa6" stroke-width="0.8" stroke-opacity="0.33"/>
<line x1="834" y1="1037.6" x2="1683.5" y2="1428.4" stroke="#2c3a90" stroke-width="1.9" stroke-opacity="0.34"/>
<line x1="834" y1="1060.5" x2="1683.5" y2="1451.3" stroke="#34449e" stroke-width="1.7" stroke-opacity="0.41"/>
<line x1="834" y1="827.1" x2="1683.5" y2="1217.8" stroke="#b01c74" stroke-width="1.6" stroke-opacity="0.37"/>
<line x1="834" y1="1491.2" x2="1683.5" y2="1882.0" stroke="#5a3596" stroke-width="0.9" stroke-opacity="0.43"/>
<line x1="834" y1="781.2" x2="1683.5" y2="1172.0" stroke="#b01c74" stroke-width="1.2" stroke-opacity="0.58"/>
<line x1="834" y1="789.5" x2="1683.5" y2="1180.2" stroke="#b01c74" stroke-width="0.6" stroke-opacity="0.32"/>
<line x1="834" y1="962.2" x2="1683.5" y2="1353.0" stroke="#2c3a90" stroke-width="1.6" stroke-opacity="0.61"/>
<line x1="834" y1="1046.8" x2="1683.5" y2="1437.6" stroke="#3a4aa6" stroke-width="1.1" stroke-opacity="0.63"/>
<line x1="834" y1="966.3" x2="1683.5" y2="1357.1" stroke="#2c3a90" stroke-width="1.6" stroke-opacity="0.41"/>
<line x1="834" y1="994.5" x2="1683.5" y2="1385.2" stroke="#3a4aa6" stroke-width="1.6" stroke-opacity="0.51"/>
<line x1="834" y1="776.4" x2="1683.5" y2="1167.1" stroke="#2c3a90" stroke-width="0.9" stroke-opacity="0.47"/>
<line x1="834" y1="1518.7" x2="1683.5" y2="1909.5" stroke="#b01c74" stroke-width="1.1" stroke-opacity="0.39"/>
<line x1="834" y1="1407.6" x2="1683.5" y2="1798.4" stroke="#b01c74" stroke-width="0.8" stroke-opacity="0.47"/>
<line x1="834" y1="1397.9" x2="1683.5" y2="1788.6" stroke="#2c3a90" stroke-width="1.6" stroke-opacity="0.59"/>
<line x1="834" y1="1241.9" x2="1683.5" y2="1632.7" stroke="#34449e" stroke-width="1.1" stroke-opacity="0.41"/>
<line x1="834" y1="1382.9" x2="1683.5" y2="1773.7" stroke="#3a4aa6" stroke-width="1.4" stroke-opacity="0.48"/>
<line x1="834" y1="1358.2" x2="1683.5" y2="1748.9" stroke="#b01c74" stroke-width="0.9" stroke-opacity="0.32"/>
<line x1="834" y1="1141.6" x2="1683.5" y2="1532.4" stroke="#2c3a90" stroke-width="1.4" stroke-opacity="0.36"/>
<line x1="834" y1="1462.5" x2="1683.5" y2="1853.2" stroke="#b01c74" stroke-width="2.0" stroke-opacity="0.39"/>
<line x1="834" y1="923.4" x2="1683.5" y2="1314.1" stroke="#2c3a90" stroke-width="1.2" stroke-opacity="0.65"/>
<line x1="834" y1="895.3" x2="1683.5" y2="1286.1" stroke="#b01c74" stroke-width="0.8" stroke-opacity="0.46"/>
<path d="M844 1240 L1080 1352 L1223 1420 L1400 1495 L1480 1528 L1480 1546 L1400 1513 L1223 1438 L1080 1368 L844 1254Z" fill="#7a2470" fill-opacity="0.35"/>
<path d="M1495 1160 L1690 1236 L1690 1262 L1495 1186Z" fill="#7a2a78" fill-opacity="0.3"/>
<rect x="844" y="1177" width="829.5" height="358.5" filter="url(#gspk)" opacity="0.7"/>
<rect x="844" y="1177" width="829.5" height="358.5" filter="url(#gspk2)" opacity="0.5"/>
<path d="M1108.7 1172.0 L1108.0 1180.0 L1107.3 1188.0 L1106.6 1196.0 L1105.9 1204.0 L1105.2 1212.0 L1104.5 1220.0 L1103.8 1228.0 L1103.1 1236.0 L1102.4 1244.0 L1100.5 1252.0 L1096.4 1260.0 L1092.3 1268.0 L1088.2 1276.0 L1084.1 1284.0 L1080.0 1292.0 L1074.0 1300.0 L1066.0 1308.0 L1058.0 1316.0 L1050.0 1324.0 L1042.0 1332.0 L1036.7 1340.0 L1035.9 1348.0 L1035.1 1356.0 L1034.3 1364.0 L1033.4 1372.0 L1032.6 1380.0 L1031.8 1388.0 L1031.0 1396.0 L1029.0 1404.0 L1026.9 1412.0 L1024.9 1420.0 L1022.8 1428.0 L1020.8 1436.0 L1018.8 1444.0 L1017.5 1452.0 L1016.2 1460.0 L1014.9 1468.0 L1013.6 1476.0 L1012.3 1484.0 L1011.0 1492.0 L1009.7 1500.0 L1008.4 1508.0 L1007.1 1516.0 L1005.8 1524.0 L1004.5 1532.0 L1003.2 1540.0" stroke="#8a1866" stroke-width="9" stroke-opacity="0.4" fill="none" filter="url(#blur2)"/><path d="M1306.1 1172.0 L1305.0 1180.0 L1303.9 1188.0 L1302.9 1196.0 L1301.8 1204.0 L1300.7 1212.0 L1299.7 1220.0 L1298.2 1228.0 L1296.2 1236.0 L1294.2 1244.0 L1292.2 1252.0 L1290.2 1260.0 L1286.6 1268.0 L1282.7 1276.0 L1278.8 1284.0 L1274.9 1292.0 L1268.0 1300.0 L1258.1 1308.0 L1248.2 1316.0 L1238.2 1324.0 L1233.1 1332.0 L1228.6 1340.0 L1224.1 1348.0 L1219.6 1356.0 L1215.1 1364.0 L1213.4 1372.0 L1212.6 1380.0 L1211.8 1388.0 L1210.9 1396.0 L1210.1 1404.0 L1209.3 1412.0 L1208.5 1420.0 L1207.4 1428.0 L1205.8 1436.0 L1204.1 1444.0 L1202.5 1452.0 L1200.9 1460.0 L1199.3 1468.0 L1197.6 1476.0 L1196.0 1484.0 L1194.1 1492.0 L1192.2 1500.0 L1190.4 1508.0 L1188.5 1516.0 L1186.6 1524.0 L1184.7 1532.0 L1182.8 1540.0" stroke="#8a1866" stroke-width="9" stroke-opacity="0.4" fill="none" filter="url(#blur2)"/><path d="M1461.0 1172.0 L1460.0 1180.0 L1459.0 1188.0 L1458.1 1196.0 L1457.1 1204.0 L1456.2 1212.0 L1455.2 1220.0 L1454.2 1228.0 L1452.9 1236.0 L1451.5 1244.0 L1450.0 1252.0 L1448.6 1260.0 L1447.2 1268.0 L1445.7 1276.0 L1444.2 1284.0 L1442.6 1292.0 L1441.0 1300.0 L1439.4 1308.0 L1437.8 1316.0 L1436.2 1324.0 L1434.5 1332.0 L1432.6 1340.0 L1430.7 1348.0 L1428.8 1356.0 L1426.8 1364.0 L1424.9 1372.0 L1423.0 1380.0 L1420.9 1388.0 L1418.7 1396.0 L1416.6 1404.0 L1414.5 1412.0 L1412.3 1420.0 L1410.2 1428.0 L1408.1 1436.0 L1406.3 1444.0 L1404.9 1452.0 L1403.4 1460.0 L1402.0 1468.0 L1400.6 1476.0 L1399.1 1484.0 L1397.7 1492.0 L1396.3 1500.0 L1394.8 1508.0 L1393.4 1516.0 L1392.0 1524.0 L1390.5 1532.0 L1389.1 1540.0" stroke="#8a1866" stroke-width="9" stroke-opacity="0.4" fill="none" filter="url(#blur2)"/><path d="M1523.4 1172.0 L1523.0 1180.0 L1522.6 1188.0 L1522.3 1196.0 L1521.9 1204.0 L1521.5 1212.0 L1521.2 1220.0 L1520.8 1228.0 L1520.4 1236.0 L1520.0 1244.0 L1518.8 1252.0 L1517.4 1260.0 L1516.0 1268.0 L1514.6 1276.0 L1513.2 1284.0 L1511.9 1292.0 L1510.3 1300.0 L1508.3 1308.0 L1506.3 1316.0 L1504.4 1324.0 L1502.4 1332.0 L1500.4 1340.0 L1498.5 1348.0 L1496.7 1356.0 L1495.6 1364.0 L1494.5 1372.0 L1493.4 1380.0 L1492.3 1388.0 L1491.2 1396.0 L1490.1 1404.0 L1487.9 1412.0 L1485.5 1420.0 L1483.1 1428.0 L1480.7 1436.0 L1478.3 1444.0 L1476.6 1452.0 L1475.0 1460.0 L1473.4 1468.0 L1471.8 1476.0 L1470.2 1484.0 L1468.6 1492.0 L1467.0 1500.0 L1465.4 1508.0 L1463.8 1516.0 L1462.2 1524.0 L1460.6 1532.0 L1459.0 1540.0" stroke="#8a1866" stroke-width="9" stroke-opacity="0.4" fill="none" filter="url(#blur2)"/><path d="M1625.5 1172.0 L1625.0 1180.0 L1624.5 1188.0 L1624.0 1196.0 L1623.5 1204.0 L1623.0 1212.0 L1622.5 1220.0 L1622.0 1228.0 L1621.6 1236.0 L1621.1 1244.0 L1620.6 1252.0 L1620.2 1260.0 L1619.7 1268.0 L1619.3 1276.0 L1618.6 1284.0 L1617.4 1292.0 L1616.2 1300.0 L1615.0 1308.0 L1613.8 1316.0 L1612.6 1324.0 L1611.0 1332.0 L1608.9 1340.0 L1606.9 1348.0 L1604.9 1356.0 L1602.8 1364.0 L1600.8 1372.0 L1598.7 1380.0 L1596.7 1388.0 L1594.6 1396.0 L1592.6 1404.0 L1590.6 1412.0 L1588.5 1420.0 L1586.2 1428.0 L1583.8 1436.0 L1581.4 1444.0 L1579.1 1452.0 L1576.7 1460.0 L1574.3 1468.0 L1572.2 1476.0 L1570.1 1484.0 L1568.1 1492.0 L1566.0 1500.0 L1564.0 1508.0 L1561.9 1516.0 L1559.8 1524.0 L1557.8 1532.0 L1555.7 1540.0" stroke="#8a1866" stroke-width="9" stroke-opacity="0.4" fill="none" filter="url(#blur2)"/>
<path d="M890 1177l2.0 0.8M1118 1179l2.0 0.8M1323 1178l2.0 0.8M1346 1178l2.0 0.8M888 1185l2.0 0.8M907 1184l2.0 0.8M895 1196l2.0 0.8M903 1193l2.0 0.8M1119 1193l2.0 0.8M1138 1197l2.0 0.8M1154 1195l2.0 0.8M1333 1193l2.0 0.8M1455 1192l2.0 0.8M896 1202l2.0 0.8M1120 1201l2.0 0.8M1141 1202l2.0 0.8M893 1212l2.0 0.8M1108 1213l2.0 0.8M1457 1212l2.0 0.8M1540 1212l2.0 0.8M1652 1212l2.0 0.8M1120 1222l2.0 0.8M1311 1220l2.0 0.8M881 1229l2.0 0.8M1106 1229l2.0 0.8M1334 1230l2.0 0.8M895 1238l2.0 0.8M1312 1233l2.0 0.8M894 1242l2.0 0.8M1540 1244l2.0 0.8M887 1252l2.0 0.8M1112 1250l2.0 0.8M1303 1250l2.0 0.8M1311 1250l2.0 0.8M1527 1253l2.0 0.8M1630 1251l2.0 0.8M1109 1258l2.0 0.8M1127 1260l2.0 0.8M1289 1262l2.0 0.8M1314 1260l2.0 0.8M1634 1259l2.0 0.8M1094 1266l2.0 0.8M1104 1267l2.0 0.8M1294 1269l2.0 0.8M1459 1266l2.0 0.8M871 1278l2.0 0.8M881 1278l2.0 0.8M1107 1278l2.0 0.8M1120 1276l2.0 0.8M1296 1275l2.0 0.8M877 1286l2.0 0.8M1086 1286l2.0 0.8M1095 1286l2.0 0.8M1104 1286l2.0 0.8M1281 1283l2.0 0.8M1091 1293l2.0 0.8M1096 1290l2.0 0.8M1129 1294l2.0 0.8M1278 1292l2.0 0.8M1436 1293l2.0 0.8M1616 1293l2.0 0.8M1626 1295l2.0 0.8M851 1302l2.0 0.8M870 1301l2.0 0.8M1074 1302l2.0 0.8M1623 1302l2.0 0.8M901 1311l2.0 0.8M1101 1308l2.0 0.8M1633 1311l2.0 0.8M878 1318l2.0 0.8M1253 1319l2.0 0.8M1265 1316l2.0 0.8M1273 1319l2.0 0.8M1289 1316l2.0 0.8M1510 1318l2.0 0.8M1623 1316l2.0 0.8M863 1325l2.0 0.8M1052 1325l2.0 0.8M1063 1327l2.0 0.8M1247 1327l2.0 0.8M1255 1333l2.0 0.8M1271 1332l2.0 0.8M1434 1334l2.0 0.8M1068 1340l2.0 0.8M888 1347l2.0 0.8M1243 1347l2.0 0.8M1273 1348l2.0 0.8M1432 1347l2.0 0.8M1524 1350l2.0 0.8M844 1358l2.0 0.8M1493 1355l2.0 0.8M1045 1368l2.0 0.8M1055 1363l2.0 0.8M1254 1366l2.0 0.8M1499 1367l2.0 0.8M1610 1367l2.0 0.8M1045 1376l2.0 0.8M1050 1374l2.0 0.8M1231 1373l2.0 0.8M1503 1376l2.0 0.8M866 1382l2.0 0.8M1237 1382l2.0 0.8M1061 1389l2.0 0.8M1266 1389l2.0 0.8M1435 1392l2.0 0.8M1606 1391l2.0 0.8M1626 1392l2.0 0.8M1078 1401l2.0 0.8M1499 1401l2.0 0.8M1609 1397l2.0 0.8M1606 1406l2.0 0.8M1027 1415l2.0 0.8M1057 1416l2.0 0.8M1234 1417l2.0 0.8M1509 1415l2.0 0.8M1035 1424l2.0 0.8M1418 1424l2.0 0.8M1600 1421l2.0 0.8M1405 1429l2.0 0.8M1031 1439l2.0 0.8M1501 1438l2.0 0.8M1587 1440l2.0 0.8M1614 1442l2.0 0.8M1038 1449l2.0 0.8M1481 1446l2.0 0.8M1593 1445l2.0 0.8M1611 1448l2.0 0.8M852 1457l2.0 0.8M1487 1457l2.0 0.8M1608 1455l2.0 0.8M1404 1462l2.0 0.8M1470 1464l2.0 0.8M1582 1466l2.0 0.8M1050 1471l2.0 0.8M1219 1473l2.0 0.8M1407 1474l2.0 0.8M1577 1474l2.0 0.8M1598 1473l2.0 0.8M851 1480l2.0 0.8M1028 1481l2.0 0.8M1234 1480l2.0 0.8M1471 1482l2.0 0.8M1026 1486l2.0 0.8M1031 1488l2.0 0.8M1241 1488l2.0 0.8M1247 1487l2.0 0.8M1397 1489l2.0 0.8M1476 1490l2.0 0.8M1494 1487l2.0 0.8M1605 1489l2.0 0.8M1020 1497l2.0 0.8M1050 1495l2.0 0.8M1471 1497l2.0 0.8M1581 1495l2.0 0.8M1040 1510l2.0 0.8M1055 1511l2.0 0.8M1198 1511l2.0 0.8M1223 1513l2.0 0.8M1463 1510l2.0 0.8M1488 1511l2.0 0.8M1582 1513l2.0 0.8M1576 1522l2.0 0.8M1190 1530l2.0 0.8M1015 1534l2.0 0.8" stroke="#f5f3f6" stroke-width="3.7" stroke-linecap="round" fill="none"/>
<path d="M1082 1178l2.0 0.8M1097 1178l2.0 0.8M1107 1180l2.0 0.8M1167 1180l2.0 0.8M1183 1180l2.0 0.8M1211 1178l2.0 0.8M1266 1181l2.0 0.8M1278 1180l2.0 0.8M1285 1178l2.0 0.8M1355 1177l2.0 0.8M1371 1176l2.0 0.8M1380 1179l2.0 0.8M1392 1181l2.0 0.8M1655 1176l2.0 0.8M1672 1179l2.0 0.8M945 1188l2.0 0.8M964 1185l2.0 0.8M992 1189l2.0 0.8M1151 1187l2.0 0.8M1187 1188l2.0 0.8M1206 1189l2.0 0.8M1233 1189l2.0 0.8M1265 1184l2.0 0.8M1273 1187l2.0 0.8M1310 1188l2.0 0.8M1413 1184l2.0 0.8M1481 1188l2.0 0.8M1490 1188l2.0 0.8M1592 1186l2.0 0.8M1613 1185l2.0 0.8M1631 1189l2.0 0.8M1659 1185l2.0 0.8M1667 1187l2.0 0.8M856 1193l2.0 0.8M863 1195l2.0 0.8M938 1194l2.0 0.8M985 1193l2.0 0.8M1004 1193l2.0 0.8M1063 1195l2.0 0.8M1097 1195l2.0 0.8M1172 1197l2.0 0.8M1195 1195l2.0 0.8M1210 1197l2.0 0.8M1222 1195l2.0 0.8M1229 1196l2.0 0.8M1257 1194l2.0 0.8M1276 1197l2.0 0.8M1361 1195l2.0 0.8M1392 1197l2.0 0.8M1477 1197l2.0 0.8M1496 1195l2.0 0.8M1502 1196l2.0 0.8M1606 1194l2.0 0.8M1656 1194l2.0 0.8M888 1205l2.0 0.8M906 1203l2.0 0.8M914 1204l2.0 0.8M933 1202l2.0 0.8M1046 1205l2.0 0.8M1132 1204l2.0 0.8M1178 1202l2.0 0.8M1198 1202l2.0 0.8M1215 1202l2.0 0.8M1247 1201l2.0 0.8M1294 1201l2.0 0.8M1330 1202l2.0 0.8M1441 1204l2.0 0.8M1460 1206l2.0 0.8M1516 1205l2.0 0.8M1642 1201l2.0 0.8M1659 1204l2.0 0.8M1665 1202l2.0 0.8M932 1211l2.0 0.8M1015 1209l2.0 0.8M1050 1211l2.0 0.8M1071 1214l2.0 0.8M1097 1210l2.0 0.8M1148 1214l2.0 0.8M1155 1211l2.0 0.8M1181 1212l2.0 0.8M1191 1213l2.0 0.8M1223 1211l2.0 0.8M1233 1209l2.0 0.8M1352 1213l2.0 0.8M1391 1210l2.0 0.8M1662 1210l2.0 0.8M1671 1209l2.0 0.8M916 1217l2.0 0.8M933 1220l2.0 0.8M962 1220l2.0 0.8M981 1220l2.0 0.8M991 1221l2.0 0.8M998 1220l2.0 0.8M1030 1220l2.0 0.8M1036 1219l2.0 0.8M1049 1220l2.0 0.8M1055 1219l2.0 0.8M1143 1221l2.0 0.8M1151 1219l2.0 0.8M1186 1218l2.0 0.8M1223 1221l2.0 0.8M1245 1219l2.0 0.8M1264 1218l2.0 0.8M1282 1218l2.0 0.8M1322 1221l2.0 0.8M1369 1220l2.0 0.8M1378 1221l2.0 0.8M1388 1217l2.0 0.8M1394 1219l2.0 0.8M1432 1222l2.0 0.8M1444 1218l2.0 0.8M1557 1217l2.0 0.8M862 1228l2.0 0.8M937 1228l2.0 0.8M976 1227l2.0 0.8M988 1229l2.0 0.8M1222 1229l2.0 0.8M1260 1227l2.0 0.8M1286 1229l2.0 0.8M1306 1229l2.0 0.8M1364 1229l2.0 0.8M1382 1227l2.0 0.8M1419 1228l2.0 0.8M1476 1227l2.0 0.8M1495 1226l2.0 0.8M1512 1227l2.0 0.8M1568 1227l2.0 0.8M927 1233l2.0 0.8M933 1238l2.0 0.8M970 1237l2.0 0.8M1017 1234l2.0 0.8M1036 1236l2.0 0.8M1092 1237l2.0 0.8M1139 1233l2.0 0.8M1149 1235l2.0 0.8M1199 1233l2.0 0.8M1208 1233l2.0 0.8M1247 1234l2.0 0.8M1261 1233l2.0 0.8M1274 1233l2.0 0.8M1330 1236l2.0 0.8M1346 1236l2.0 0.8M1396 1238l2.0 0.8M1406 1236l2.0 0.8M1433 1237l2.0 0.8M1440 1237l2.0 0.8M1491 1234l2.0 0.8M1544 1238l2.0 0.8M1553 1236l2.0 0.8M1582 1235l2.0 0.8M911 1246l2.0 0.8M930 1246l2.0 0.8M949 1243l2.0 0.8M958 1246l2.0 0.8M985 1244l2.0 0.8M998 1245l2.0 0.8M1007 1244l2.0 0.8M1015 1243l2.0 0.8M1041 1244l2.0 0.8M1091 1246l2.0 0.8M1155 1246l2.0 0.8M1173 1243l2.0 0.8M1211 1243l2.0 0.8M1223 1245l2.0 0.8M1315 1245l2.0 0.8M1333 1242l2.0 0.8M1350 1243l2.0 0.8M1363 1244l2.0 0.8M1392 1245l2.0 0.8M1418 1245l2.0 0.8M1436 1242l2.0 0.8M1465 1242l2.0 0.8M1492 1245l2.0 0.8M1523 1246l2.0 0.8M1561 1242l2.0 0.8M1569 1246l2.0 0.8M1606 1243l2.0 0.8M1626 1244l2.0 0.8M935 1252l2.0 0.8M942 1250l2.0 0.8M954 1253l2.0 0.8M998 1249l2.0 0.8M1040 1253l2.0 0.8M1056 1250l2.0 0.8M1066 1252l2.0 0.8M1101 1250l2.0 0.8M1190 1250l2.0 0.8M1205 1251l2.0 0.8M1214 1250l2.0 0.8M1271 1251l2.0 0.8M1280 1250l2.0 0.8M1328 1253l2.0 0.8M1340 1254l2.0 0.8M1359 1254l2.0 0.8M1490 1253l2.0 0.8M1571 1251l2.0 0.8M1591 1253l2.0 0.8M1599 1250l2.0 0.8M987 1258l2.0 0.8M1007 1260l2.0 0.8M1022 1261l2.0 0.8M1072 1259l2.0 0.8M1081 1259l2.0 0.8M1118 1261l2.0 0.8M1164 1259l2.0 0.8M1181 1262l2.0 0.8M1193 1258l2.0 0.8M1230 1262l2.0 0.8M1248 1262l2.0 0.8M1266 1260l2.0 0.8M1373 1260l2.0 0.8M1380 1261l2.0 0.8M1402 1258l2.0 0.8M1407 1261l2.0 0.8M1439 1261l2.0 0.8M1475 1260l2.0 0.8M1577 1259l2.0 0.8M1672 1262l2.0 0.8M924 1268l2.0 0.8M935 1267l2.0 0.8M943 1270l2.0 0.8M951 1268l2.0 0.8M1038 1269l2.0 0.8M1077 1270l2.0 0.8M1169 1268l2.0 0.8M1199 1271l2.0 0.8M1253 1266l2.0 0.8M1274 1268l2.0 0.8M1311 1269l2.0 0.8M1318 1270l2.0 0.8M1387 1269l2.0 0.8M1412 1268l2.0 0.8M1421 1266l2.0 0.8M1538 1266l2.0 0.8M1584 1267l2.0 0.8M1600 1270l2.0 0.8M845 1274l2.0 0.8M941 1274l2.0 0.8M949 1278l2.0 0.8M967 1274l2.0 0.8M985 1278l2.0 0.8M1003 1278l2.0 0.8M1013 1274l2.0 0.8M1026 1274l2.0 0.8M1059 1275l2.0 0.8M1087 1276l2.0 0.8M1163 1274l2.0 0.8M1195 1274l2.0 0.8M1286 1276l2.0 0.8M1331 1278l2.0 0.8M1355 1279l2.0 0.8M1412 1277l2.0 0.8M1464 1276l2.0 0.8M1562 1275l2.0 0.8M899 1286l2.0 0.8M953 1284l2.0 0.8M999 1283l2.0 0.8M1124 1282l2.0 0.8M1132 1284l2.0 0.8M1152 1284l2.0 0.8M1181 1286l2.0 0.8M1246 1285l2.0 0.8M1309 1284l2.0 0.8M1320 1282l2.0 0.8M1329 1285l2.0 0.8M1347 1283l2.0 0.8M1360 1286l2.0 0.8M1383 1285l2.0 0.8M1393 1286l2.0 0.8M1468 1283l2.0 0.8M1489 1284l2.0 0.8M1528 1284l2.0 0.8M1545 1283l2.0 0.8M1574 1283l2.0 0.8M1594 1283l2.0 0.8M903 1295l2.0 0.8M912 1294l2.0 0.8M1005 1294l2.0 0.8M1014 1294l2.0 0.8M1042 1291l2.0 0.8M1110 1294l2.0 0.8M1146 1292l2.0 0.8M1212 1293l2.0 0.8M1267 1295l2.0 0.8M1286 1293l2.0 0.8M1303 1292l2.0 0.8M1315 1290l2.0 0.8M1370 1294l2.0 0.8M1408 1294l2.0 0.8M1467 1292l2.0 0.8M1511 1290l2.0 0.8M1571 1294l2.0 0.8M1595 1295l2.0 0.8M1654 1291l2.0 0.8M886 1301l2.0 0.8M1001 1301l2.0 0.8M1134 1299l2.0 0.8M1149 1302l2.0 0.8M1172 1301l2.0 0.8M1207 1301l2.0 0.8M1224 1302l2.0 0.8M1253 1298l2.0 0.8M1289 1303l2.0 0.8M1308 1300l2.0 0.8M1319 1300l2.0 0.8M1338 1300l2.0 0.8M1366 1299l2.0 0.8M1374 1298l2.0 0.8M1403 1302l2.0 0.8M1422 1301l2.0 0.8M1431 1301l2.0 0.8M1469 1299l2.0 0.8M1488 1299l2.0 0.8M1571 1299l2.0 0.8M1610 1301l2.0 0.8M1632 1302l2.0 0.8M883 1310l2.0 0.8M922 1310l2.0 0.8M1005 1311l2.0 0.8M1025 1307l2.0 0.8M1032 1308l2.0 0.8M1107 1308l2.0 0.8M1173 1307l2.0 0.8M1289 1306l2.0 0.8M1305 1309l2.0 0.8M1333 1311l2.0 0.8M1346 1309l2.0 0.8M1383 1308l2.0 0.8M1407 1309l2.0 0.8M1449 1310l2.0 0.8M1549 1310l2.0 0.8M1580 1310l2.0 0.8M904 1319l2.0 0.8M914 1316l2.0 0.8M937 1319l2.0 0.8M1047 1319l2.0 0.8M1102 1318l2.0 0.8M1114 1316l2.0 0.8M1167 1315l2.0 0.8M1181 1317l2.0 0.8M1206 1316l2.0 0.8M1227 1317l2.0 0.8M1322 1318l2.0 0.8M1349 1319l2.0 0.8M1355 1316l2.0 0.8M1388 1319l2.0 0.8M1414 1318l2.0 0.8M1537 1316l2.0 0.8M1546 1315l2.0 0.8M1553 1319l2.0 0.8M1575 1316l2.0 0.8M1638 1316l2.0 0.8M1659 1316l2.0 0.8M884 1325l2.0 0.8M901 1327l2.0 0.8M920 1327l2.0 0.8M946 1325l2.0 0.8M959 1328l2.0 0.8M1070 1328l2.0 0.8M1080 1327l2.0 0.8M1091 1323l2.0 0.8M1119 1323l2.0 0.8M1146 1325l2.0 0.8M1163 1326l2.0 0.8M1194 1327l2.0 0.8M1275 1327l2.0 0.8M1296 1324l2.0 0.8M1315 1323l2.0 0.8M1352 1323l2.0 0.8M1371 1325l2.0 0.8M1419 1324l2.0 0.8M1457 1325l2.0 0.8M1482 1325l2.0 0.8M1523 1326l2.0 0.8M1533 1325l2.0 0.8M1560 1324l2.0 0.8M1637 1324l2.0 0.8M1651 1327l2.0 0.8M879 1335l2.0 0.8M918 1333l2.0 0.8M1065 1333l2.0 0.8M1171 1332l2.0 0.8M1186 1331l2.0 0.8M1244 1332l2.0 0.8M1283 1336l2.0 0.8M1328 1334l2.0 0.8M1393 1335l2.0 0.8M1479 1331l2.0 0.8M1639 1334l2.0 0.8M1668 1332l2.0 0.8M853 1340l2.0 0.8M884 1343l2.0 0.8M975 1344l2.0 0.8M1082 1343l2.0 0.8M1119 1343l2.0 0.8M1128 1342l2.0 0.8M1144 1343l2.0 0.8M1232 1342l2.0 0.8M1288 1344l2.0 0.8M1341 1343l2.0 0.8M1351 1342l2.0 0.8M1397 1341l2.0 0.8M1416 1341l2.0 0.8M1464 1340l2.0 0.8M1520 1339l2.0 0.8M1551 1342l2.0 0.8M1557 1344l2.0 0.8M1634 1339l2.0 0.8M935 1350l2.0 0.8M953 1348l2.0 0.8M1086 1348l2.0 0.8M1101 1350l2.0 0.8M1124 1347l2.0 0.8M1195 1347l2.0 0.8M1206 1348l2.0 0.8M1302 1351l2.0 0.8M1327 1349l2.0 0.8M1356 1348l2.0 0.8M1423 1349l2.0 0.8M1452 1350l2.0 0.8M1535 1352l2.0 0.8M1547 1351l2.0 0.8M1582 1348l2.0 0.8M1656 1351l2.0 0.8M874 1357l2.0 0.8M890 1357l2.0 0.8M931 1359l2.0 0.8M996 1357l2.0 0.8M1012 1357l2.0 0.8M1109 1359l2.0 0.8M1116 1356l2.0 0.8M1165 1356l2.0 0.8M1346 1357l2.0 0.8M1364 1360l2.0 0.8M1455 1356l2.0 0.8M1577 1357l2.0 0.8M1643 1359l2.0 0.8M1653 1358l2.0 0.8M1665 1359l2.0 0.8M868 1367l2.0 0.8M885 1367l2.0 0.8M927 1367l2.0 0.8M936 1366l2.0 0.8M971 1368l2.0 0.8M1007 1364l2.0 0.8M1016 1364l2.0 0.8M1040 1364l2.0 0.8M1186 1367l2.0 0.8M1265 1365l2.0 0.8M1274 1367l2.0 0.8M1330 1365l2.0 0.8M1414 1363l2.0 0.8M1440 1365l2.0 0.8M1510 1366l2.0 0.8M1535 1364l2.0 0.8M1573 1367l2.0 0.8M1581 1365l2.0 0.8M1592 1368l2.0 0.8M1657 1366l2.0 0.8M846 1375l2.0 0.8M894 1375l2.0 0.8M930 1372l2.0 0.8M946 1372l2.0 0.8M958 1373l2.0 0.8M998 1372l2.0 0.8M1070 1374l2.0 0.8M1172 1372l2.0 0.8M1185 1376l2.0 0.8M1193 1373l2.0 0.8M1223 1376l2.0 0.8M1276 1376l2.0 0.8M1287 1375l2.0 0.8M1296 1374l2.0 0.8M1327 1373l2.0 0.8M1336 1372l2.0 0.8M1364 1376l2.0 0.8M1391 1372l2.0 0.8M1410 1372l2.0 0.8M1418 1374l2.0 0.8M1464 1376l2.0 0.8M1513 1373l2.0 0.8M1521 1375l2.0 0.8M1549 1373l2.0 0.8M1557 1374l2.0 0.8M1589 1376l2.0 0.8M1623 1376l2.0 0.8M1654 1374l2.0 0.8M880 1384l2.0 0.8M916 1382l2.0 0.8M924 1380l2.0 0.8M964 1383l2.0 0.8M993 1383l2.0 0.8M1058 1381l2.0 0.8M1063 1380l2.0 0.8M1161 1380l2.0 0.8M1170 1384l2.0 0.8M1256 1380l2.0 0.8M1283 1380l2.0 0.8M1294 1382l2.0 0.8M1337 1383l2.0 0.8M1356 1384l2.0 0.8M1387 1381l2.0 0.8M1413 1382l2.0 0.8M1434 1382l2.0 0.8M1452 1381l2.0 0.8M1468 1382l2.0 0.8M1509 1384l2.0 0.8M1524 1380l2.0 0.8M1592 1381l2.0 0.8M1631 1382l2.0 0.8M1648 1380l2.0 0.8M1656 1382l2.0 0.8M855 1391l2.0 0.8M863 1391l2.0 0.8M876 1390l2.0 0.8M892 1391l2.0 0.8M942 1390l2.0 0.8M986 1392l2.0 0.8M1022 1388l2.0 0.8M1097 1391l2.0 0.8M1167 1389l2.0 0.8M1176 1390l2.0 0.8M1204 1390l2.0 0.8M1240 1389l2.0 0.8M1261 1388l2.0 0.8M1306 1391l2.0 0.8M1325 1390l2.0 0.8M1346 1389l2.0 0.8M1353 1390l2.0 0.8M1363 1389l2.0 0.8M1390 1390l2.0 0.8M1409 1389l2.0 0.8M1428 1390l2.0 0.8M1476 1390l2.0 0.8M1503 1390l2.0 0.8M1520 1389l2.0 0.8M1616 1389l2.0 0.8M1664 1391l2.0 0.8M889 1397l2.0 0.8M918 1398l2.0 0.8M936 1398l2.0 0.8M973 1400l2.0 0.8M1047 1400l2.0 0.8M1056 1399l2.0 0.8M1262 1401l2.0 0.8M1271 1401l2.0 0.8M1310 1400l2.0 0.8M1317 1398l2.0 0.8M1336 1399l2.0 0.8M1348 1397l2.0 0.8M1366 1400l2.0 0.8M1377 1399l2.0 0.8M1459 1396l2.0 0.8M1468 1398l2.0 0.8M1490 1400l2.0 0.8M854 1409l2.0 0.8M864 1408l2.0 0.8M881 1408l2.0 0.8M892 1406l2.0 0.8M976 1406l2.0 0.8M988 1409l2.0 0.8M1052 1404l2.0 0.8M1063 1408l2.0 0.8M1127 1404l2.0 0.8M1139 1407l2.0 0.8M1258 1407l2.0 0.8M1268 1407l2.0 0.8M1305 1407l2.0 0.8M1388 1404l2.0 0.8M1463 1409l2.0 0.8M1474 1404l2.0 0.8M1504 1406l2.0 0.8M1646 1404l2.0 0.8M1665 1409l2.0 0.8M848 1417l2.0 0.8M876 1414l2.0 0.8M888 1413l2.0 0.8M915 1413l2.0 0.8M937 1413l2.0 0.8M998 1416l2.0 0.8M1064 1416l2.0 0.8M1087 1416l2.0 0.8M1095 1414l2.0 0.8M1131 1414l2.0 0.8M1158 1413l2.0 0.8M1246 1413l2.0 0.8M1320 1417l2.0 0.8M1328 1413l2.0 0.8M1358 1413l2.0 0.8M1368 1413l2.0 0.8M1432 1413l2.0 0.8M1451 1414l2.0 0.8M1461 1414l2.0 0.8M1575 1412l2.0 0.8M1661 1415l2.0 0.8M865 1425l2.0 0.8M884 1424l2.0 0.8M923 1422l2.0 0.8M958 1422l2.0 0.8M1052 1423l2.0 0.8M1060 1423l2.0 0.8M1072 1424l2.0 0.8M1135 1421l2.0 0.8M1143 1422l2.0 0.8M1173 1420l2.0 0.8M1248 1425l2.0 0.8M1268 1425l2.0 0.8M1278 1421l2.0 0.8M1303 1423l2.0 0.8M1313 1425l2.0 0.8M1325 1424l2.0 0.8M1370 1422l2.0 0.8M1402 1423l2.0 0.8M1435 1423l2.0 0.8M1466 1421l2.0 0.8M1505 1421l2.0 0.8M1511 1425l2.0 0.8M1615 1422l2.0 0.8M887 1431l2.0 0.8M895 1431l2.0 0.8M935 1433l2.0 0.8M998 1431l2.0 0.8M1064 1430l2.0 0.8M1082 1433l2.0 0.8M1096 1430l2.0 0.8M1290 1432l2.0 0.8M1331 1430l2.0 0.8M1337 1430l2.0 0.8M1347 1429l2.0 0.8M1356 1431l2.0 0.8M1387 1429l2.0 0.8M1424 1430l2.0 0.8M1441 1433l2.0 0.8M1451 1431l2.0 0.8M1506 1433l2.0 0.8M1546 1433l2.0 0.8M1555 1429l2.0 0.8M1566 1432l2.0 0.8M1572 1431l2.0 0.8M1604 1432l2.0 0.8M1667 1429l2.0 0.8M855 1441l2.0 0.8M866 1439l2.0 0.8M892 1439l2.0 0.8M900 1441l2.0 0.8M911 1441l2.0 0.8M966 1439l2.0 0.8M988 1439l2.0 0.8M1051 1440l2.0 0.8M1088 1438l2.0 0.8M1101 1438l2.0 0.8M1111 1439l2.0 0.8M1157 1440l2.0 0.8M1183 1440l2.0 0.8M1192 1440l2.0 0.8M1275 1437l2.0 0.8M1307 1441l2.0 0.8M1314 1440l2.0 0.8M1341 1439l2.0 0.8M1353 1440l2.0 0.8M1371 1440l2.0 0.8M1427 1440l2.0 0.8M1448 1439l2.0 0.8M1541 1438l2.0 0.8M1550 1438l2.0 0.8M1646 1440l2.0 0.8M852 1448l2.0 0.8M857 1448l2.0 0.8M879 1448l2.0 0.8M926 1446l2.0 0.8M974 1447l2.0 0.8M980 1449l2.0 0.8M1068 1445l2.0 0.8M1087 1449l2.0 0.8M1132 1446l2.0 0.8M1151 1449l2.0 0.8M1322 1445l2.0 0.8M1327 1446l2.0 0.8M1366 1449l2.0 0.8M1378 1449l2.0 0.8M1388 1447l2.0 0.8M1416 1446l2.0 0.8M1421 1450l2.0 0.8M1489 1446l2.0 0.8M1566 1445l2.0 0.8M1572 1447l2.0 0.8M1618 1446l2.0 0.8M1630 1448l2.0 0.8M1650 1448l2.0 0.8M846 1455l2.0 0.8M884 1453l2.0 0.8M927 1457l2.0 0.8M939 1458l2.0 0.8M958 1455l2.0 0.8M975 1453l2.0 0.8M1070 1458l2.0 0.8M1100 1456l2.0 0.8M1120 1453l2.0 0.8M1126 1455l2.0 0.8M1147 1454l2.0 0.8M1192 1453l2.0 0.8M1257 1455l2.0 0.8M1326 1456l2.0 0.8M1331 1454l2.0 0.8M1341 1455l2.0 0.8M1407 1454l2.0 0.8M1530 1455l2.0 0.8M1543 1456l2.0 0.8M1633 1455l2.0 0.8M1646 1454l2.0 0.8M896 1466l2.0 0.8M962 1464l2.0 0.8M1057 1465l2.0 0.8M1086 1461l2.0 0.8M1092 1465l2.0 0.8M1113 1462l2.0 0.8M1219 1463l2.0 0.8M1225 1463l2.0 0.8M1252 1464l2.0 0.8M1359 1461l2.0 0.8M1414 1461l2.0 0.8M1421 1463l2.0 0.8M1433 1462l2.0 0.8M1488 1462l2.0 0.8M1565 1464l2.0 0.8M1609 1462l2.0 0.8M1623 1464l2.0 0.8M1631 1463l2.0 0.8M1637 1462l2.0 0.8M1658 1461l2.0 0.8M1667 1464l2.0 0.8M854 1471l2.0 0.8M863 1470l2.0 0.8M890 1472l2.0 0.8M903 1471l2.0 0.8M921 1469l2.0 0.8M985 1470l2.0 0.8M1061 1474l2.0 0.8M1092 1469l2.0 0.8M1128 1470l2.0 0.8M1144 1469l2.0 0.8M1181 1470l2.0 0.8M1242 1474l2.0 0.8M1390 1473l2.0 0.8M1463 1473l2.0 0.8M1473 1471l2.0 0.8M1542 1473l2.0 0.8M1606 1469l2.0 0.8M1635 1470l2.0 0.8M1655 1474l2.0 0.8M1660 1471l2.0 0.8M861 1479l2.0 0.8M878 1478l2.0 0.8M905 1479l2.0 0.8M952 1481l2.0 0.8M982 1477l2.0 0.8M1057 1480l2.0 0.8M1115 1481l2.0 0.8M1177 1481l2.0 0.8M1208 1478l2.0 0.8M1224 1479l2.0 0.8M1243 1481l2.0 0.8M1300 1478l2.0 0.8M1377 1479l2.0 0.8M1403 1482l2.0 0.8M1413 1479l2.0 0.8M1440 1478l2.0 0.8M1454 1481l2.0 0.8M1526 1481l2.0 0.8M1590 1480l2.0 0.8M1604 1479l2.0 0.8M1630 1481l2.0 0.8M863 1487l2.0 0.8M911 1486l2.0 0.8M1014 1489l2.0 0.8M1063 1489l2.0 0.8M1128 1489l2.0 0.8M1136 1490l2.0 0.8M1164 1485l2.0 0.8M1212 1488l2.0 0.8M1221 1490l2.0 0.8M1285 1488l2.0 0.8M1307 1490l2.0 0.8M1336 1489l2.0 0.8M1426 1491l2.0 0.8M1438 1489l2.0 0.8M1445 1487l2.0 0.8M1514 1488l2.0 0.8M1543 1487l2.0 0.8M1551 1486l2.0 0.8M1589 1486l2.0 0.8M1614 1490l2.0 0.8M1627 1489l2.0 0.8M1653 1486l2.0 0.8M1674 1489l2.0 0.8M852 1495l2.0 0.8M878 1495l2.0 0.8M885 1495l2.0 0.8M924 1495l2.0 0.8M935 1495l2.0 0.8M942 1497l2.0 0.8M991 1499l2.0 0.8M1000 1494l2.0 0.8M1035 1497l2.0 0.8M1083 1494l2.0 0.8M1095 1495l2.0 0.8M1120 1498l2.0 0.8M1132 1497l2.0 0.8M1181 1499l2.0 0.8M1226 1497l2.0 0.8M1237 1495l2.0 0.8M1290 1497l2.0 0.8M1318 1498l2.0 0.8M1358 1498l2.0 0.8M1426 1498l2.0 0.8M1441 1494l2.0 0.8M1461 1494l2.0 0.8M1519 1497l2.0 0.8M1528 1498l2.0 0.8M1601 1494l2.0 0.8M1620 1495l2.0 0.8M1660 1494l2.0 0.8M1668 1496l2.0 0.8M949 1505l2.0 0.8M978 1505l2.0 0.8M986 1503l2.0 0.8M1051 1507l2.0 0.8M1107 1503l2.0 0.8M1137 1502l2.0 0.8M1176 1505l2.0 0.8M1276 1506l2.0 0.8M1306 1506l2.0 0.8M1430 1503l2.0 0.8M1436 1503l2.0 0.8M1449 1504l2.0 0.8M1457 1502l2.0 0.8M1483 1506l2.0 0.8M1492 1504l2.0 0.8M1589 1504l2.0 0.8M1599 1502l2.0 0.8M1604 1503l2.0 0.8M962 1515l2.0 0.8M981 1513l2.0 0.8M1073 1514l2.0 0.8M1105 1514l2.0 0.8M1171 1513l2.0 0.8M1207 1512l2.0 0.8M1253 1511l2.0 0.8M1280 1510l2.0 0.8M1293 1515l2.0 0.8M1310 1513l2.0 0.8M1337 1513l2.0 0.8M1386 1515l2.0 0.8M1480 1514l2.0 0.8M1593 1511l2.0 0.8M1602 1513l2.0 0.8M1622 1513l2.0 0.8M1669 1514l2.0 0.8M856 1519l2.0 0.8M871 1520l2.0 0.8M910 1520l2.0 0.8M984 1522l2.0 0.8M996 1521l2.0 0.8M1050 1519l2.0 0.8M1108 1522l2.0 0.8M1135 1520l2.0 0.8M1156 1520l2.0 0.8M1231 1522l2.0 0.8M1289 1523l2.0 0.8M1308 1520l2.0 0.8M1354 1523l2.0 0.8M1380 1519l2.0 0.8M1505 1522l2.0 0.8M1538 1520l2.0 0.8M1627 1519l2.0 0.8M1652 1522l2.0 0.8M857 1527l2.0 0.8M888 1531l2.0 0.8M906 1526l2.0 0.8M918 1527l2.0 0.8M934 1529l2.0 0.8M962 1530l2.0 0.8M1017 1526l2.0 0.8M1111 1531l2.0 0.8M1141 1526l2.0 0.8M1171 1527l2.0 0.8M1292 1528l2.0 0.8M1356 1528l2.0 0.8M1368 1528l2.0 0.8M1377 1529l2.0 0.8M1403 1526l2.0 0.8M1414 1529l2.0 0.8M1424 1527l2.0 0.8M1623 1531l2.0 0.8M1656 1529l2.0 0.8M1667 1531l2.0 0.8M844 1536l2.0 0.8M865 1538l2.0 0.8M921 1535l2.0 0.8M957 1539l2.0 0.8M968 1537l2.0 0.8M975 1535l2.0 0.8M1079 1539l2.0 0.8M1118 1539l2.0 0.8M1223 1538l2.0 0.8M1240 1539l2.0 0.8M1249 1537l2.0 0.8M1260 1539l2.0 0.8M1271 1539l2.0 0.8M1352 1535l2.0 0.8M1437 1538l2.0 0.8M1567 1535l2.0 0.8M1578 1537l2.0 0.8M1599 1536l2.0 0.8M1607 1537l2.0 0.8M1616 1537l2.0 0.8M1634 1537l2.0 0.8M1652 1535l2.0 0.8" stroke="#f5f3f6" stroke-width="4.6" stroke-linecap="round" fill="none"/>
<path d="M863 1177l2.0 0.8M872 1178l2.0 0.8M919 1178l2.0 0.8M949 1180l2.0 0.8M958 1180l2.0 0.8M988 1180l2.0 0.8M996 1176l2.0 0.8M1014 1179l2.0 0.8M1026 1179l2.0 0.8M1034 1181l2.0 0.8M1044 1180l2.0 0.8M1051 1181l2.0 0.8M1059 1176l2.0 0.8M1072 1177l2.0 0.8M1088 1178l2.0 0.8M1175 1179l2.0 0.8M1191 1178l2.0 0.8M1223 1178l2.0 0.8M1256 1179l2.0 0.8M1295 1181l2.0 0.8M1333 1180l2.0 0.8M1361 1178l2.0 0.8M1398 1179l2.0 0.8M1407 1179l2.0 0.8M1416 1179l2.0 0.8M1428 1178l2.0 0.8M1436 1180l2.0 0.8M1448 1180l2.0 0.8M1467 1181l2.0 0.8M1570 1178l2.0 0.8M1589 1178l2.0 0.8M1609 1177l2.0 0.8M859 1187l2.0 0.8M913 1184l2.0 0.8M970 1188l2.0 0.8M999 1188l2.0 0.8M1010 1185l2.0 0.8M1019 1188l2.0 0.8M1027 1186l2.0 0.8M1039 1184l2.0 0.8M1057 1189l2.0 0.8M1094 1185l2.0 0.8M1162 1186l2.0 0.8M1169 1188l2.0 0.8M1178 1187l2.0 0.8M1200 1188l2.0 0.8M1215 1188l2.0 0.8M1224 1186l2.0 0.8M1242 1189l2.0 0.8M1256 1186l2.0 0.8M1284 1187l2.0 0.8M1290 1185l2.0 0.8M1350 1185l2.0 0.8M1358 1189l2.0 0.8M1368 1187l2.0 0.8M1374 1188l2.0 0.8M1405 1187l2.0 0.8M1424 1187l2.0 0.8M1444 1189l2.0 0.8M1599 1186l2.0 0.8M950 1194l2.0 0.8M956 1193l2.0 0.8M976 1195l2.0 0.8M997 1193l2.0 0.8M1024 1197l2.0 0.8M1035 1192l2.0 0.8M1041 1196l2.0 0.8M1049 1192l2.0 0.8M1070 1196l2.0 0.8M1090 1193l2.0 0.8M1167 1197l2.0 0.8M1242 1196l2.0 0.8M1268 1196l2.0 0.8M1294 1197l2.0 0.8M1345 1195l2.0 0.8M1353 1195l2.0 0.8M1371 1193l2.0 0.8M1382 1194l2.0 0.8M1401 1194l2.0 0.8M1417 1197l2.0 0.8M1426 1197l2.0 0.8M1437 1195l2.0 0.8M1482 1194l2.0 0.8M1662 1196l2.0 0.8M1674 1195l2.0 0.8M858 1205l2.0 0.8M868 1203l2.0 0.8M942 1205l2.0 0.8M965 1204l2.0 0.8M970 1204l2.0 0.8M980 1200l2.0 0.8M992 1205l2.0 0.8M1007 1203l2.0 0.8M1029 1203l2.0 0.8M1040 1205l2.0 0.8M1057 1205l2.0 0.8M1074 1201l2.0 0.8M1092 1205l2.0 0.8M1188 1206l2.0 0.8M1209 1204l2.0 0.8M1255 1204l2.0 0.8M1261 1201l2.0 0.8M1270 1201l2.0 0.8M1341 1202l2.0 0.8M1345 1202l2.0 0.8M1365 1205l2.0 0.8M1375 1205l2.0 0.8M1383 1203l2.0 0.8M1396 1203l2.0 0.8M1449 1203l2.0 0.8M1480 1202l2.0 0.8M1489 1204l2.0 0.8M1500 1206l2.0 0.8M1508 1205l2.0 0.8M951 1211l2.0 0.8M959 1212l2.0 0.8M965 1210l2.0 0.8M984 1210l2.0 0.8M994 1211l2.0 0.8M1002 1210l2.0 0.8M1034 1212l2.0 0.8M1060 1210l2.0 0.8M1079 1211l2.0 0.8M1088 1209l2.0 0.8M1204 1210l2.0 0.8M1210 1213l2.0 0.8M1242 1209l2.0 0.8M1252 1211l2.0 0.8M1257 1210l2.0 0.8M1269 1211l2.0 0.8M1279 1209l2.0 0.8M1287 1213l2.0 0.8M1363 1210l2.0 0.8M1374 1211l2.0 0.8M1382 1213l2.0 0.8M1411 1211l2.0 0.8M1427 1209l2.0 0.8M1494 1209l2.0 0.8M1511 1211l2.0 0.8M852 1219l2.0 0.8M927 1217l2.0 0.8M945 1220l2.0 0.8M971 1220l2.0 0.8M1008 1219l2.0 0.8M1021 1218l2.0 0.8M1067 1222l2.0 0.8M1083 1219l2.0 0.8M1095 1219l2.0 0.8M1133 1219l2.0 0.8M1181 1219l2.0 0.8M1198 1221l2.0 0.8M1209 1221l2.0 0.8M1214 1222l2.0 0.8M1253 1219l2.0 0.8M1273 1222l2.0 0.8M1292 1220l2.0 0.8M1356 1219l2.0 0.8M1402 1220l2.0 0.8M1415 1222l2.0 0.8M1425 1220l2.0 0.8M1472 1218l2.0 0.8M1478 1217l2.0 0.8M1497 1220l2.0 0.8M1505 1218l2.0 0.8M1564 1220l2.0 0.8M1669 1220l2.0 0.8M910 1229l2.0 0.8M949 1227l2.0 0.8M965 1229l2.0 0.8M998 1226l2.0 0.8M1002 1229l2.0 0.8M1015 1230l2.0 0.8M1025 1229l2.0 0.8M1034 1227l2.0 0.8M1045 1228l2.0 0.8M1054 1226l2.0 0.8M1060 1229l2.0 0.8M1070 1228l2.0 0.8M1079 1229l2.0 0.8M1090 1225l2.0 0.8M1173 1230l2.0 0.8M1185 1230l2.0 0.8M1190 1227l2.0 0.8M1202 1230l2.0 0.8M1211 1228l2.0 0.8M1269 1227l2.0 0.8M1278 1227l2.0 0.8M1317 1229l2.0 0.8M1342 1226l2.0 0.8M1353 1226l2.0 0.8M1371 1229l2.0 0.8M1389 1228l2.0 0.8M1409 1225l2.0 0.8M1428 1225l2.0 0.8M1436 1228l2.0 0.8M1445 1227l2.0 0.8M1484 1228l2.0 0.8M1551 1225l2.0 0.8M1560 1230l2.0 0.8M1576 1227l2.0 0.8M1587 1229l2.0 0.8M860 1235l2.0 0.8M951 1238l2.0 0.8M960 1237l2.0 0.8M980 1237l2.0 0.8M991 1234l2.0 0.8M999 1237l2.0 0.8M1030 1237l2.0 0.8M1046 1238l2.0 0.8M1055 1236l2.0 0.8M1064 1234l2.0 0.8M1073 1235l2.0 0.8M1085 1236l2.0 0.8M1170 1235l2.0 0.8M1177 1235l2.0 0.8M1188 1235l2.0 0.8M1215 1234l2.0 0.8M1224 1234l2.0 0.8M1234 1236l2.0 0.8M1255 1236l2.0 0.8M1282 1236l2.0 0.8M1290 1236l2.0 0.8M1364 1238l2.0 0.8M1375 1233l2.0 0.8M1387 1233l2.0 0.8M1472 1233l2.0 0.8M1480 1237l2.0 0.8M1500 1235l2.0 0.8M1508 1238l2.0 0.8M1536 1233l2.0 0.8M1563 1234l2.0 0.8M1594 1238l2.0 0.8M1604 1234l2.0 0.8M940 1242l2.0 0.8M969 1244l2.0 0.8M979 1242l2.0 0.8M1022 1246l2.0 0.8M1033 1242l2.0 0.8M1050 1243l2.0 0.8M1063 1246l2.0 0.8M1068 1244l2.0 0.8M1136 1244l2.0 0.8M1167 1241l2.0 0.8M1184 1246l2.0 0.8M1195 1242l2.0 0.8M1231 1246l2.0 0.8M1240 1246l2.0 0.8M1257 1243l2.0 0.8M1268 1246l2.0 0.8M1275 1244l2.0 0.8M1372 1242l2.0 0.8M1410 1244l2.0 0.8M1428 1244l2.0 0.8M1444 1245l2.0 0.8M1477 1246l2.0 0.8M1501 1246l2.0 0.8M1510 1245l2.0 0.8M1552 1241l2.0 0.8M1579 1245l2.0 0.8M1613 1244l2.0 0.8M960 1252l2.0 0.8M979 1251l2.0 0.8M991 1252l2.0 0.8M1077 1249l2.0 0.8M1085 1251l2.0 0.8M1162 1253l2.0 0.8M1172 1252l2.0 0.8M1181 1251l2.0 0.8M1198 1253l2.0 0.8M1235 1254l2.0 0.8M1256 1254l2.0 0.8M1262 1251l2.0 0.8M1364 1250l2.0 0.8M1375 1252l2.0 0.8M1386 1252l2.0 0.8M1397 1254l2.0 0.8M1403 1251l2.0 0.8M1413 1250l2.0 0.8M1435 1251l2.0 0.8M1440 1252l2.0 0.8M1463 1253l2.0 0.8M1481 1252l2.0 0.8M1507 1251l2.0 0.8M1554 1251l2.0 0.8M1562 1250l2.0 0.8M1581 1254l2.0 0.8M1612 1250l2.0 0.8M931 1260l2.0 0.8M939 1261l2.0 0.8M949 1260l2.0 0.8M975 1262l2.0 0.8M1012 1262l2.0 0.8M1043 1262l2.0 0.8M1054 1261l2.0 0.8M1061 1259l2.0 0.8M1090 1258l2.0 0.8M1153 1258l2.0 0.8M1176 1259l2.0 0.8M1203 1262l2.0 0.8M1209 1259l2.0 0.8M1219 1258l2.0 0.8M1259 1259l2.0 0.8M1334 1259l2.0 0.8M1354 1260l2.0 0.8M1363 1261l2.0 0.8M1389 1258l2.0 0.8M1419 1259l2.0 0.8M1429 1261l2.0 0.8M1485 1259l2.0 0.8M1495 1261l2.0 0.8M1504 1261l2.0 0.8M1551 1261l2.0 0.8M1558 1259l2.0 0.8M1598 1261l2.0 0.8M1609 1262l2.0 0.8M973 1270l2.0 0.8M981 1268l2.0 0.8M993 1266l2.0 0.8M1009 1270l2.0 0.8M1020 1266l2.0 0.8M1046 1270l2.0 0.8M1054 1269l2.0 0.8M1066 1266l2.0 0.8M1084 1266l2.0 0.8M1153 1269l2.0 0.8M1160 1267l2.0 0.8M1181 1268l2.0 0.8M1186 1267l2.0 0.8M1207 1267l2.0 0.8M1214 1269l2.0 0.8M1225 1270l2.0 0.8M1235 1267l2.0 0.8M1245 1268l2.0 0.8M1264 1270l2.0 0.8M1341 1269l2.0 0.8M1347 1268l2.0 0.8M1365 1267l2.0 0.8M1378 1266l2.0 0.8M1395 1270l2.0 0.8M1403 1269l2.0 0.8M1431 1270l2.0 0.8M1468 1268l2.0 0.8M1479 1270l2.0 0.8M1491 1267l2.0 0.8M1546 1268l2.0 0.8M1575 1270l2.0 0.8M1612 1269l2.0 0.8M1656 1268l2.0 0.8M1666 1268l2.0 0.8M960 1278l2.0 0.8M975 1277l2.0 0.8M997 1277l2.0 0.8M1031 1276l2.0 0.8M1040 1276l2.0 0.8M1052 1275l2.0 0.8M1070 1279l2.0 0.8M1080 1279l2.0 0.8M1129 1277l2.0 0.8M1144 1275l2.0 0.8M1156 1277l2.0 0.8M1173 1274l2.0 0.8M1182 1277l2.0 0.8M1202 1275l2.0 0.8M1223 1275l2.0 0.8M1247 1277l2.0 0.8M1260 1278l2.0 0.8M1270 1274l2.0 0.8M1326 1275l2.0 0.8M1344 1276l2.0 0.8M1360 1278l2.0 0.8M1373 1278l2.0 0.8M1382 1274l2.0 0.8M1400 1279l2.0 0.8M1417 1274l2.0 0.8M1429 1275l2.0 0.8M1436 1275l2.0 0.8M1472 1276l2.0 0.8M1482 1274l2.0 0.8M1494 1276l2.0 0.8M1501 1278l2.0 0.8M1532 1274l2.0 0.8M1548 1278l2.0 0.8M1570 1275l2.0 0.8M1576 1277l2.0 0.8M1590 1277l2.0 0.8M1599 1274l2.0 0.8M1608 1274l2.0 0.8M1651 1276l2.0 0.8M1663 1277l2.0 0.8M1672 1277l2.0 0.8M961 1286l2.0 0.8M973 1286l2.0 0.8M980 1286l2.0 0.8M1009 1282l2.0 0.8M1016 1283l2.0 0.8M1026 1286l2.0 0.8M1050 1287l2.0 0.8M1058 1286l2.0 0.8M1064 1282l2.0 0.8M1076 1285l2.0 0.8M1141 1285l2.0 0.8M1160 1283l2.0 0.8M1187 1286l2.0 0.8M1200 1283l2.0 0.8M1207 1287l2.0 0.8M1217 1282l2.0 0.8M1225 1285l2.0 0.8M1237 1285l2.0 0.8M1262 1282l2.0 0.8M1270 1287l2.0 0.8M1365 1286l2.0 0.8M1402 1285l2.0 0.8M1415 1284l2.0 0.8M1422 1285l2.0 0.8M1452 1282l2.0 0.8M1461 1287l2.0 0.8M1479 1285l2.0 0.8M1553 1286l2.0 0.8M1582 1282l2.0 0.8M1603 1283l2.0 0.8M1657 1285l2.0 0.8M1665 1286l2.0 0.8M978 1292l2.0 0.8M985 1292l2.0 0.8M996 1293l2.0 0.8M1025 1291l2.0 0.8M1049 1291l2.0 0.8M1060 1294l2.0 0.8M1071 1295l2.0 0.8M1138 1295l2.0 0.8M1154 1292l2.0 0.8M1165 1293l2.0 0.8M1182 1292l2.0 0.8M1193 1291l2.0 0.8M1204 1291l2.0 0.8M1222 1290l2.0 0.8M1230 1294l2.0 0.8M1241 1290l2.0 0.8M1257 1295l2.0 0.8M1323 1294l2.0 0.8M1332 1295l2.0 0.8M1344 1291l2.0 0.8M1355 1294l2.0 0.8M1362 1291l2.0 0.8M1380 1291l2.0 0.8M1392 1291l2.0 0.8M1421 1291l2.0 0.8M1427 1292l2.0 0.8M1477 1291l2.0 0.8M1482 1295l2.0 0.8M1495 1293l2.0 0.8M1532 1294l2.0 0.8M1540 1291l2.0 0.8M1550 1293l2.0 0.8M1558 1290l2.0 0.8M1580 1292l2.0 0.8M1590 1292l2.0 0.8M1671 1294l2.0 0.8M927 1301l2.0 0.8M991 1300l2.0 0.8M1019 1303l2.0 0.8M1026 1301l2.0 0.8M1037 1299l2.0 0.8M1049 1302l2.0 0.8M1058 1301l2.0 0.8M1067 1300l2.0 0.8M1114 1301l2.0 0.8M1124 1299l2.0 0.8M1161 1300l2.0 0.8M1200 1299l2.0 0.8M1214 1299l2.0 0.8M1233 1301l2.0 0.8M1245 1298l2.0 0.8M1327 1300l2.0 0.8M1347 1301l2.0 0.8M1355 1300l2.0 0.8M1394 1299l2.0 0.8M1414 1301l2.0 0.8M1479 1300l2.0 0.8M1499 1301l2.0 0.8M1543 1300l2.0 0.8M1555 1300l2.0 0.8M1562 1302l2.0 0.8M1581 1300l2.0 0.8M1590 1300l2.0 0.8M1659 1300l2.0 0.8M1667 1301l2.0 0.8M912 1308l2.0 0.8M942 1308l2.0 0.8M1042 1311l2.0 0.8M1052 1308l2.0 0.8M1116 1310l2.0 0.8M1126 1307l2.0 0.8M1136 1309l2.0 0.8M1144 1308l2.0 0.8M1157 1311l2.0 0.8M1163 1308l2.0 0.8M1185 1306l2.0 0.8M1210 1310l2.0 0.8M1219 1309l2.0 0.8M1228 1307l2.0 0.8M1240 1310l2.0 0.8M1248 1310l2.0 0.8M1298 1310l2.0 0.8M1313 1311l2.0 0.8M1325 1310l2.0 0.8M1352 1307l2.0 0.8M1363 1308l2.0 0.8M1374 1308l2.0 0.8M1389 1309l2.0 0.8M1398 1307l2.0 0.8M1429 1309l2.0 0.8M1466 1307l2.0 0.8M1474 1306l2.0 0.8M1482 1308l2.0 0.8M1492 1309l2.0 0.8M1502 1308l2.0 0.8M1561 1309l2.0 0.8M1570 1310l2.0 0.8M1587 1307l2.0 0.8M1608 1307l2.0 0.8M1646 1310l2.0 0.8M1670 1309l2.0 0.8M923 1319l2.0 0.8M945 1317l2.0 0.8M954 1319l2.0 0.8M1020 1317l2.0 0.8M1026 1317l2.0 0.8M1038 1319l2.0 0.8M1125 1317l2.0 0.8M1134 1317l2.0 0.8M1150 1317l2.0 0.8M1158 1318l2.0 0.8M1188 1316l2.0 0.8M1197 1315l2.0 0.8M1217 1317l2.0 0.8M1301 1318l2.0 0.8M1311 1317l2.0 0.8M1341 1317l2.0 0.8M1369 1316l2.0 0.8M1378 1319l2.0 0.8M1404 1315l2.0 0.8M1426 1318l2.0 0.8M1430 1317l2.0 0.8M1453 1317l2.0 0.8M1459 1318l2.0 0.8M1480 1317l2.0 0.8M1491 1320l2.0 0.8M1498 1317l2.0 0.8M1525 1314l2.0 0.8M1582 1317l2.0 0.8M1594 1319l2.0 0.8M1650 1318l2.0 0.8M1667 1315l2.0 0.8M894 1327l2.0 0.8M929 1325l2.0 0.8M937 1326l2.0 0.8M965 1324l2.0 0.8M976 1327l2.0 0.8M1110 1325l2.0 0.8M1125 1323l2.0 0.8M1139 1327l2.0 0.8M1153 1326l2.0 0.8M1212 1326l2.0 0.8M1219 1327l2.0 0.8M1322 1323l2.0 0.8M1336 1325l2.0 0.8M1344 1325l2.0 0.8M1362 1327l2.0 0.8M1379 1323l2.0 0.8M1392 1323l2.0 0.8M1397 1323l2.0 0.8M1410 1325l2.0 0.8M1476 1326l2.0 0.8M1495 1326l2.0 0.8M1543 1323l2.0 0.8M1548 1326l2.0 0.8M1571 1323l2.0 0.8M1590 1324l2.0 0.8M1595 1325l2.0 0.8M1645 1324l2.0 0.8M1665 1326l2.0 0.8M896 1333l2.0 0.8M908 1333l2.0 0.8M926 1331l2.0 0.8M935 1332l2.0 0.8M944 1331l2.0 0.8M956 1333l2.0 0.8M963 1333l2.0 0.8M971 1331l2.0 0.8M981 1334l2.0 0.8M993 1335l2.0 0.8M998 1334l2.0 0.8M1085 1336l2.0 0.8M1097 1333l2.0 0.8M1101 1335l2.0 0.8M1122 1335l2.0 0.8M1133 1334l2.0 0.8M1142 1332l2.0 0.8M1150 1334l2.0 0.8M1162 1332l2.0 0.8M1196 1335l2.0 0.8M1207 1332l2.0 0.8M1218 1335l2.0 0.8M1293 1331l2.0 0.8M1302 1335l2.0 0.8M1308 1333l2.0 0.8M1320 1334l2.0 0.8M1378 1332l2.0 0.8M1386 1331l2.0 0.8M1413 1331l2.0 0.8M1422 1334l2.0 0.8M1459 1331l2.0 0.8M1472 1333l2.0 0.8M1488 1334l2.0 0.8M1528 1331l2.0 0.8M1535 1334l2.0 0.8M1546 1333l2.0 0.8M1571 1331l2.0 0.8M1582 1331l2.0 0.8M1592 1331l2.0 0.8M1601 1333l2.0 0.8M1632 1336l2.0 0.8M891 1340l2.0 0.8M900 1342l2.0 0.8M910 1341l2.0 0.8M918 1343l2.0 0.8M948 1343l2.0 0.8M956 1341l2.0 0.8M965 1343l2.0 0.8M985 1341l2.0 0.8M995 1340l2.0 0.8M1003 1344l2.0 0.8M1016 1343l2.0 0.8M1090 1341l2.0 0.8M1097 1340l2.0 0.8M1136 1343l2.0 0.8M1155 1340l2.0 0.8M1167 1339l2.0 0.8M1173 1341l2.0 0.8M1191 1341l2.0 0.8M1204 1344l2.0 0.8M1221 1342l2.0 0.8M1294 1341l2.0 0.8M1307 1343l2.0 0.8M1336 1344l2.0 0.8M1362 1340l2.0 0.8M1372 1343l2.0 0.8M1383 1343l2.0 0.8M1391 1343l2.0 0.8M1439 1340l2.0 0.8M1446 1340l2.0 0.8M1454 1341l2.0 0.8M1473 1340l2.0 0.8M1486 1343l2.0 0.8M1534 1342l2.0 0.8M1540 1344l2.0 0.8M1571 1339l2.0 0.8M1588 1341l2.0 0.8M1599 1339l2.0 0.8M1653 1341l2.0 0.8M1661 1341l2.0 0.8M1670 1342l2.0 0.8M899 1351l2.0 0.8M907 1348l2.0 0.8M914 1351l2.0 0.8M926 1347l2.0 0.8M943 1349l2.0 0.8M962 1351l2.0 0.8M971 1351l2.0 0.8M983 1351l2.0 0.8M990 1351l2.0 0.8M1008 1350l2.0 0.8M1111 1351l2.0 0.8M1134 1350l2.0 0.8M1139 1351l2.0 0.8M1149 1351l2.0 0.8M1160 1348l2.0 0.8M1171 1350l2.0 0.8M1176 1348l2.0 0.8M1187 1348l2.0 0.8M1312 1350l2.0 0.8M1318 1350l2.0 0.8M1336 1350l2.0 0.8M1376 1348l2.0 0.8M1383 1350l2.0 0.8M1397 1348l2.0 0.8M1402 1348l2.0 0.8M1413 1350l2.0 0.8M1462 1352l2.0 0.8M1468 1348l2.0 0.8M1481 1351l2.0 0.8M1487 1352l2.0 0.8M1555 1352l2.0 0.8M1591 1352l2.0 0.8M1599 1348l2.0 0.8M882 1360l2.0 0.8M902 1359l2.0 0.8M909 1359l2.0 0.8M921 1359l2.0 0.8M939 1355l2.0 0.8M948 1359l2.0 0.8M956 1360l2.0 0.8M966 1358l2.0 0.8M978 1357l2.0 0.8M984 1359l2.0 0.8M1025 1358l2.0 0.8M1135 1355l2.0 0.8M1146 1357l2.0 0.8M1154 1360l2.0 0.8M1175 1359l2.0 0.8M1193 1360l2.0 0.8M1202 1357l2.0 0.8M1248 1359l2.0 0.8M1295 1359l2.0 0.8M1323 1359l2.0 0.8M1336 1360l2.0 0.8M1355 1357l2.0 0.8M1390 1359l2.0 0.8M1407 1360l2.0 0.8M1417 1358l2.0 0.8M1444 1358l2.0 0.8M1463 1358l2.0 0.8M1482 1359l2.0 0.8M1548 1358l2.0 0.8M1557 1355l2.0 0.8M1568 1360l2.0 0.8M1590 1358l2.0 0.8M1633 1360l2.0 0.8M1671 1355l2.0 0.8M877 1367l2.0 0.8M907 1364l2.0 0.8M915 1368l2.0 0.8M953 1365l2.0 0.8M964 1367l2.0 0.8M980 1366l2.0 0.8M992 1367l2.0 0.8M1000 1365l2.0 0.8M1121 1364l2.0 0.8M1132 1365l2.0 0.8M1139 1366l2.0 0.8M1151 1367l2.0 0.8M1161 1364l2.0 0.8M1169 1367l2.0 0.8M1177 1365l2.0 0.8M1208 1367l2.0 0.8M1243 1365l2.0 0.8M1280 1364l2.0 0.8M1294 1367l2.0 0.8M1312 1366l2.0 0.8M1319 1367l2.0 0.8M1339 1366l2.0 0.8M1356 1367l2.0 0.8M1365 1368l2.0 0.8M1377 1368l2.0 0.8M1384 1368l2.0 0.8M1393 1365l2.0 0.8M1405 1366l2.0 0.8M1451 1364l2.0 0.8M1459 1365l2.0 0.8M1470 1368l2.0 0.8M1482 1367l2.0 0.8M1489 1364l2.0 0.8M1544 1364l2.0 0.8M1555 1364l2.0 0.8M1566 1364l2.0 0.8M1638 1367l2.0 0.8M1650 1367l2.0 0.8M903 1374l2.0 0.8M912 1376l2.0 0.8M921 1375l2.0 0.8M940 1372l2.0 0.8M975 1372l2.0 0.8M984 1375l2.0 0.8M1006 1372l2.0 0.8M1025 1375l2.0 0.8M1079 1373l2.0 0.8M1138 1375l2.0 0.8M1144 1373l2.0 0.8M1154 1374l2.0 0.8M1166 1373l2.0 0.8M1204 1375l2.0 0.8M1308 1374l2.0 0.8M1369 1375l2.0 0.8M1379 1376l2.0 0.8M1397 1376l2.0 0.8M1475 1374l2.0 0.8M1486 1372l2.0 0.8M1538 1373l2.0 0.8M1567 1376l2.0 0.8M1580 1373l2.0 0.8M1642 1376l2.0 0.8M1663 1376l2.0 0.8M888 1381l2.0 0.8M907 1383l2.0 0.8M935 1382l2.0 0.8M943 1383l2.0 0.8M951 1383l2.0 0.8M973 1382l2.0 0.8M1000 1382l2.0 0.8M1009 1384l2.0 0.8M1018 1385l2.0 0.8M1096 1383l2.0 0.8M1151 1380l2.0 0.8M1180 1381l2.0 0.8M1190 1380l2.0 0.8M1199 1385l2.0 0.8M1275 1382l2.0 0.8M1303 1381l2.0 0.8M1308 1380l2.0 0.8M1318 1385l2.0 0.8M1328 1384l2.0 0.8M1364 1380l2.0 0.8M1393 1385l2.0 0.8M1404 1382l2.0 0.8M1442 1382l2.0 0.8M1480 1382l2.0 0.8M1518 1380l2.0 0.8M1534 1380l2.0 0.8M1543 1381l2.0 0.8M1553 1381l2.0 0.8M1575 1381l2.0 0.8M1580 1381l2.0 0.8M1637 1384l2.0 0.8M882 1388l2.0 0.8M911 1392l2.0 0.8M920 1393l2.0 0.8M928 1392l2.0 0.8M958 1388l2.0 0.8M976 1388l2.0 0.8M1004 1391l2.0 0.8M1013 1393l2.0 0.8M1119 1393l2.0 0.8M1184 1390l2.0 0.8M1286 1390l2.0 0.8M1296 1393l2.0 0.8M1315 1389l2.0 0.8M1331 1390l2.0 0.8M1372 1392l2.0 0.8M1381 1389l2.0 0.8M1448 1392l2.0 0.8M1455 1390l2.0 0.8M1464 1390l2.0 0.8M1484 1390l2.0 0.8M1513 1389l2.0 0.8M1530 1388l2.0 0.8M1550 1392l2.0 0.8M1558 1390l2.0 0.8M1571 1390l2.0 0.8M1579 1388l2.0 0.8M1586 1392l2.0 0.8M1644 1392l2.0 0.8M1653 1389l2.0 0.8M1672 1391l2.0 0.8M877 1400l2.0 0.8M895 1399l2.0 0.8M926 1399l2.0 0.8M942 1397l2.0 0.8M956 1400l2.0 0.8M961 1400l2.0 0.8M982 1401l2.0 0.8M991 1398l2.0 0.8M1020 1396l2.0 0.8M1084 1401l2.0 0.8M1093 1399l2.0 0.8M1105 1396l2.0 0.8M1113 1399l2.0 0.8M1120 1399l2.0 0.8M1133 1397l2.0 0.8M1190 1399l2.0 0.8M1197 1397l2.0 0.8M1243 1400l2.0 0.8M1281 1398l2.0 0.8M1291 1398l2.0 0.8M1298 1397l2.0 0.8M1327 1399l2.0 0.8M1358 1400l2.0 0.8M1385 1399l2.0 0.8M1396 1397l2.0 0.8M1405 1397l2.0 0.8M1442 1399l2.0 0.8M1452 1398l2.0 0.8M1481 1397l2.0 0.8M1509 1399l2.0 0.8M1524 1397l2.0 0.8M1543 1400l2.0 0.8M1555 1399l2.0 0.8M1565 1399l2.0 0.8M1572 1398l2.0 0.8M1582 1397l2.0 0.8M1638 1399l2.0 0.8M1647 1398l2.0 0.8M1659 1401l2.0 0.8M1669 1400l2.0 0.8M847 1405l2.0 0.8M913 1406l2.0 0.8M921 1404l2.0 0.8M928 1408l2.0 0.8M941 1408l2.0 0.8M948 1407l2.0 0.8M956 1409l2.0 0.8M967 1405l2.0 0.8M998 1408l2.0 0.8M1004 1408l2.0 0.8M1014 1408l2.0 0.8M1022 1405l2.0 0.8M1079 1404l2.0 0.8M1092 1404l2.0 0.8M1101 1406l2.0 0.8M1110 1407l2.0 0.8M1116 1405l2.0 0.8M1148 1407l2.0 0.8M1248 1407l2.0 0.8M1277 1407l2.0 0.8M1284 1406l2.0 0.8M1316 1409l2.0 0.8M1324 1405l2.0 0.8M1331 1406l2.0 0.8M1343 1407l2.0 0.8M1352 1409l2.0 0.8M1360 1408l2.0 0.8M1370 1407l2.0 0.8M1399 1409l2.0 0.8M1447 1408l2.0 0.8M1514 1408l2.0 0.8M1522 1407l2.0 0.8M1530 1408l2.0 0.8M1539 1408l2.0 0.8M1561 1408l2.0 0.8M1577 1405l2.0 0.8M1655 1407l2.0 0.8M870 1413l2.0 0.8M894 1416l2.0 0.8M905 1414l2.0 0.8M923 1414l2.0 0.8M942 1413l2.0 0.8M953 1416l2.0 0.8M969 1417l2.0 0.8M982 1413l2.0 0.8M1010 1417l2.0 0.8M1073 1413l2.0 0.8M1103 1413l2.0 0.8M1114 1413l2.0 0.8M1121 1415l2.0 0.8M1139 1417l2.0 0.8M1275 1412l2.0 0.8M1290 1415l2.0 0.8M1338 1417l2.0 0.8M1348 1414l2.0 0.8M1387 1415l2.0 0.8M1397 1413l2.0 0.8M1443 1416l2.0 0.8M1471 1417l2.0 0.8M1497 1415l2.0 0.8M1515 1417l2.0 0.8M1529 1414l2.0 0.8M1538 1413l2.0 0.8M1544 1414l2.0 0.8M1555 1414l2.0 0.8M1564 1415l2.0 0.8M1609 1417l2.0 0.8M1632 1412l2.0 0.8M1639 1417l2.0 0.8M1651 1415l2.0 0.8M891 1422l2.0 0.8M909 1421l2.0 0.8M929 1423l2.0 0.8M939 1425l2.0 0.8M974 1421l2.0 0.8M984 1421l2.0 0.8M1003 1423l2.0 0.8M1082 1421l2.0 0.8M1100 1420l2.0 0.8M1108 1424l2.0 0.8M1120 1421l2.0 0.8M1155 1421l2.0 0.8M1163 1425l2.0 0.8M1336 1421l2.0 0.8M1344 1420l2.0 0.8M1352 1425l2.0 0.8M1363 1425l2.0 0.8M1382 1422l2.0 0.8M1448 1425l2.0 0.8M1457 1421l2.0 0.8M1477 1422l2.0 0.8M1540 1421l2.0 0.8M1549 1422l2.0 0.8M1558 1422l2.0 0.8M1570 1424l2.0 0.8M1579 1423l2.0 0.8M1626 1422l2.0 0.8M1633 1421l2.0 0.8M1642 1421l2.0 0.8M1655 1425l2.0 0.8M1662 1425l2.0 0.8M1673 1422l2.0 0.8M880 1433l2.0 0.8M905 1430l2.0 0.8M917 1430l2.0 0.8M926 1432l2.0 0.8M943 1429l2.0 0.8M952 1432l2.0 0.8M965 1429l2.0 0.8M970 1431l2.0 0.8M982 1432l2.0 0.8M1104 1431l2.0 0.8M1114 1433l2.0 0.8M1125 1431l2.0 0.8M1129 1432l2.0 0.8M1151 1430l2.0 0.8M1162 1433l2.0 0.8M1170 1429l2.0 0.8M1176 1433l2.0 0.8M1264 1431l2.0 0.8M1272 1429l2.0 0.8M1283 1430l2.0 0.8M1302 1431l2.0 0.8M1319 1431l2.0 0.8M1367 1429l2.0 0.8M1375 1430l2.0 0.8M1394 1430l2.0 0.8M1472 1429l2.0 0.8M1519 1433l2.0 0.8M1537 1429l2.0 0.8M1622 1434l2.0 0.8M1629 1433l2.0 0.8M1639 1428l2.0 0.8M1647 1433l2.0 0.8M1658 1428l2.0 0.8M872 1439l2.0 0.8M884 1441l2.0 0.8M931 1437l2.0 0.8M938 1440l2.0 0.8M950 1440l2.0 0.8M960 1437l2.0 0.8M997 1439l2.0 0.8M1005 1437l2.0 0.8M1014 1439l2.0 0.8M1059 1439l2.0 0.8M1079 1439l2.0 0.8M1120 1438l2.0 0.8M1134 1437l2.0 0.8M1145 1437l2.0 0.8M1162 1439l2.0 0.8M1176 1440l2.0 0.8M1287 1439l2.0 0.8M1297 1441l2.0 0.8M1326 1440l2.0 0.8M1380 1439l2.0 0.8M1392 1441l2.0 0.8M1400 1440l2.0 0.8M1439 1439l2.0 0.8M1457 1437l2.0 0.8M1492 1441l2.0 0.8M1531 1439l2.0 0.8M1558 1439l2.0 0.8M1626 1440l2.0 0.8M1635 1440l2.0 0.8M1652 1440l2.0 0.8M1664 1438l2.0 0.8M1674 1439l2.0 0.8M868 1448l2.0 0.8M885 1446l2.0 0.8M907 1450l2.0 0.8M962 1450l2.0 0.8M1000 1449l2.0 0.8M1009 1445l2.0 0.8M1095 1447l2.0 0.8M1101 1450l2.0 0.8M1115 1448l2.0 0.8M1120 1448l2.0 0.8M1159 1447l2.0 0.8M1180 1447l2.0 0.8M1195 1445l2.0 0.8M1302 1448l2.0 0.8M1309 1446l2.0 0.8M1338 1446l2.0 0.8M1346 1449l2.0 0.8M1357 1447l2.0 0.8M1393 1447l2.0 0.8M1434 1447l2.0 0.8M1444 1446l2.0 0.8M1459 1446l2.0 0.8M1499 1446l2.0 0.8M1516 1448l2.0 0.8M1526 1448l2.0 0.8M1535 1447l2.0 0.8M1546 1448l2.0 0.8M1553 1445l2.0 0.8M1637 1448l2.0 0.8M1657 1446l2.0 0.8M1669 1447l2.0 0.8M892 1456l2.0 0.8M984 1453l2.0 0.8M994 1455l2.0 0.8M1007 1458l2.0 0.8M1051 1457l2.0 0.8M1082 1456l2.0 0.8M1107 1456l2.0 0.8M1136 1456l2.0 0.8M1163 1455l2.0 0.8M1173 1456l2.0 0.8M1181 1457l2.0 0.8M1352 1457l2.0 0.8M1362 1454l2.0 0.8M1374 1456l2.0 0.8M1379 1455l2.0 0.8M1438 1454l2.0 0.8M1457 1456l2.0 0.8M1466 1457l2.0 0.8M1519 1453l2.0 0.8M1552 1456l2.0 0.8M1568 1456l2.0 0.8M1627 1456l2.0 0.8M1654 1458l2.0 0.8M869 1464l2.0 0.8M878 1462l2.0 0.8M888 1463l2.0 0.8M907 1461l2.0 0.8M916 1464l2.0 0.8M923 1462l2.0 0.8M951 1463l2.0 0.8M974 1461l2.0 0.8M980 1464l2.0 0.8M989 1465l2.0 0.8M1002 1462l2.0 0.8M1067 1466l2.0 0.8M1075 1464l2.0 0.8M1101 1461l2.0 0.8M1123 1462l2.0 0.8M1134 1463l2.0 0.8M1142 1462l2.0 0.8M1152 1465l2.0 0.8M1159 1463l2.0 0.8M1168 1463l2.0 0.8M1271 1463l2.0 0.8M1283 1466l2.0 0.8M1349 1463l2.0 0.8M1365 1462l2.0 0.8M1387 1461l2.0 0.8M1394 1464l2.0 0.8M1444 1464l2.0 0.8M1452 1464l2.0 0.8M1463 1466l2.0 0.8M1516 1465l2.0 0.8M1529 1464l2.0 0.8M1556 1461l2.0 0.8M1647 1463l2.0 0.8M872 1474l2.0 0.8M881 1471l2.0 0.8M912 1473l2.0 0.8M927 1469l2.0 0.8M946 1471l2.0 0.8M958 1471l2.0 0.8M965 1474l2.0 0.8M976 1471l2.0 0.8M994 1471l2.0 0.8M1003 1470l2.0 0.8M1068 1474l2.0 0.8M1099 1472l2.0 0.8M1108 1471l2.0 0.8M1116 1471l2.0 0.8M1136 1471l2.0 0.8M1166 1473l2.0 0.8M1177 1471l2.0 0.8M1260 1471l2.0 0.8M1266 1473l2.0 0.8M1276 1469l2.0 0.8M1298 1472l2.0 0.8M1364 1471l2.0 0.8M1372 1473l2.0 0.8M1382 1471l2.0 0.8M1417 1469l2.0 0.8M1430 1471l2.0 0.8M1437 1471l2.0 0.8M1447 1473l2.0 0.8M1458 1472l2.0 0.8M1485 1470l2.0 0.8M1495 1472l2.0 0.8M1524 1471l2.0 0.8M1531 1473l2.0 0.8M1548 1470l2.0 0.8M1615 1470l2.0 0.8M1644 1469l2.0 0.8M1670 1474l2.0 0.8M899 1478l2.0 0.8M916 1480l2.0 0.8M926 1480l2.0 0.8M942 1479l2.0 0.8M964 1479l2.0 0.8M993 1480l2.0 0.8M1003 1480l2.0 0.8M1064 1478l2.0 0.8M1083 1479l2.0 0.8M1093 1477l2.0 0.8M1105 1480l2.0 0.8M1124 1481l2.0 0.8M1139 1480l2.0 0.8M1170 1480l2.0 0.8M1271 1478l2.0 0.8M1285 1478l2.0 0.8M1289 1480l2.0 0.8M1309 1478l2.0 0.8M1320 1482l2.0 0.8M1393 1482l2.0 0.8M1425 1481l2.0 0.8M1432 1479l2.0 0.8M1461 1478l2.0 0.8M1488 1479l2.0 0.8M1515 1480l2.0 0.8M1537 1481l2.0 0.8M1547 1481l2.0 0.8M1554 1481l2.0 0.8M1563 1479l2.0 0.8M1611 1477l2.0 0.8M1641 1482l2.0 0.8M1647 1480l2.0 0.8M1656 1478l2.0 0.8M1667 1481l2.0 0.8M844 1488l2.0 0.8M856 1490l2.0 0.8M881 1488l2.0 0.8M890 1489l2.0 0.8M922 1486l2.0 0.8M941 1490l2.0 0.8M947 1487l2.0 0.8M960 1488l2.0 0.8M986 1487l2.0 0.8M1004 1486l2.0 0.8M1070 1488l2.0 0.8M1090 1489l2.0 0.8M1097 1486l2.0 0.8M1106 1489l2.0 0.8M1119 1487l2.0 0.8M1153 1487l2.0 0.8M1259 1486l2.0 0.8M1279 1487l2.0 0.8M1318 1488l2.0 0.8M1327 1489l2.0 0.8M1418 1487l2.0 0.8M1453 1490l2.0 0.8M1501 1486l2.0 0.8M1521 1486l2.0 0.8M1529 1488l2.0 0.8M1558 1486l2.0 0.8M1637 1486l2.0 0.8M1645 1488l2.0 0.8M1660 1489l2.0 0.8M860 1496l2.0 0.8M867 1498l2.0 0.8M896 1496l2.0 0.8M904 1496l2.0 0.8M918 1494l2.0 0.8M953 1497l2.0 0.8M970 1497l2.0 0.8M982 1497l2.0 0.8M1077 1496l2.0 0.8M1101 1496l2.0 0.8M1139 1494l2.0 0.8M1160 1494l2.0 0.8M1186 1496l2.0 0.8M1252 1497l2.0 0.8M1263 1495l2.0 0.8M1271 1498l2.0 0.8M1284 1496l2.0 0.8M1300 1495l2.0 0.8M1308 1497l2.0 0.8M1331 1496l2.0 0.8M1338 1494l2.0 0.8M1349 1497l2.0 0.8M1416 1497l2.0 0.8M1435 1494l2.0 0.8M1500 1498l2.0 0.8M1506 1495l2.0 0.8M1536 1498l2.0 0.8M1547 1498l2.0 0.8M1555 1496l2.0 0.8M1611 1495l2.0 0.8M1628 1497l2.0 0.8M1642 1496l2.0 0.8M1651 1496l2.0 0.8M875 1506l2.0 0.8M884 1506l2.0 0.8M890 1504l2.0 0.8M900 1505l2.0 0.8M912 1507l2.0 0.8M921 1503l2.0 0.8M930 1503l2.0 0.8M941 1504l2.0 0.8M966 1505l2.0 0.8M1069 1504l2.0 0.8M1100 1502l2.0 0.8M1116 1503l2.0 0.8M1128 1506l2.0 0.8M1145 1502l2.0 0.8M1165 1505l2.0 0.8M1184 1503l2.0 0.8M1252 1502l2.0 0.8M1259 1504l2.0 0.8M1288 1506l2.0 0.8M1296 1507l2.0 0.8M1316 1504l2.0 0.8M1324 1504l2.0 0.8M1332 1503l2.0 0.8M1362 1507l2.0 0.8M1370 1507l2.0 0.8M1477 1504l2.0 0.8M1501 1504l2.0 0.8M1511 1502l2.0 0.8M1533 1507l2.0 0.8M1541 1503l2.0 0.8M1615 1506l2.0 0.8M1627 1504l2.0 0.8M1634 1506l2.0 0.8M1646 1503l2.0 0.8M850 1513l2.0 0.8M869 1512l2.0 0.8M880 1512l2.0 0.8M887 1513l2.0 0.8M896 1514l2.0 0.8M907 1512l2.0 0.8M927 1510l2.0 0.8M944 1512l2.0 0.8M953 1512l2.0 0.8M974 1513l2.0 0.8M991 1510l2.0 0.8M1086 1510l2.0 0.8M1095 1512l2.0 0.8M1113 1513l2.0 0.8M1122 1515l2.0 0.8M1144 1513l2.0 0.8M1299 1514l2.0 0.8M1317 1512l2.0 0.8M1345 1511l2.0 0.8M1357 1511l2.0 0.8M1366 1511l2.0 0.8M1375 1511l2.0 0.8M1451 1512l2.0 0.8M1501 1515l2.0 0.8M1554 1514l2.0 0.8M1610 1512l2.0 0.8M1638 1512l2.0 0.8M1647 1515l2.0 0.8M1659 1512l2.0 0.8M844 1522l2.0 0.8M865 1521l2.0 0.8M883 1520l2.0 0.8M892 1521l2.0 0.8M900 1519l2.0 0.8M922 1521l2.0 0.8M930 1519l2.0 0.8M939 1522l2.0 0.8M958 1519l2.0 0.8M978 1522l2.0 0.8M1032 1522l2.0 0.8M1043 1523l2.0 0.8M1081 1520l2.0 0.8M1101 1520l2.0 0.8M1115 1523l2.0 0.8M1125 1521l2.0 0.8M1147 1522l2.0 0.8M1166 1519l2.0 0.8M1175 1521l2.0 0.8M1223 1519l2.0 0.8M1241 1519l2.0 0.8M1249 1523l2.0 0.8M1256 1518l2.0 0.8M1266 1522l2.0 0.8M1277 1521l2.0 0.8M1298 1519l2.0 0.8M1335 1523l2.0 0.8M1362 1521l2.0 0.8M1369 1522l2.0 0.8M1411 1521l2.0 0.8M1510 1521l2.0 0.8M1523 1519l2.0 0.8M1529 1519l2.0 0.8M1548 1519l2.0 0.8M1608 1522l2.0 0.8M1618 1519l2.0 0.8M1633 1519l2.0 0.8M1645 1523l2.0 0.8M1662 1522l2.0 0.8M1672 1520l2.0 0.8M848 1528l2.0 0.8M880 1529l2.0 0.8M945 1526l2.0 0.8M972 1531l2.0 0.8M982 1531l2.0 0.8M989 1530l2.0 0.8M1067 1526l2.0 0.8M1075 1530l2.0 0.8M1095 1526l2.0 0.8M1103 1531l2.0 0.8M1123 1531l2.0 0.8M1130 1528l2.0 0.8M1150 1531l2.0 0.8M1247 1529l2.0 0.8M1261 1530l2.0 0.8M1274 1529l2.0 0.8M1300 1527l2.0 0.8M1309 1528l2.0 0.8M1317 1526l2.0 0.8M1328 1527l2.0 0.8M1349 1530l2.0 0.8M1385 1528l2.0 0.8M1487 1530l2.0 0.8M1506 1528l2.0 0.8M1518 1531l2.0 0.8M1527 1527l2.0 0.8M1536 1531l2.0 0.8M1544 1529l2.0 0.8M1584 1531l2.0 0.8M1591 1528l2.0 0.8M1610 1529l2.0 0.8M1632 1529l2.0 0.8M1641 1528l2.0 0.8M854 1539l2.0 0.8M871 1535l2.0 0.8M885 1539l2.0 0.8M894 1539l2.0 0.8M913 1538l2.0 0.8M928 1536l2.0 0.8M938 1539l2.0 0.8M994 1538l2.0 0.8M1035 1539l2.0 0.8M1062 1538l2.0 0.8M1090 1538l2.0 0.8M1100 1537l2.0 0.8M1129 1539l2.0 0.8M1147 1539l2.0 0.8M1154 1537l2.0 0.8M1166 1535l2.0 0.8M1176 1535l2.0 0.8M1278 1538l2.0 0.8M1294 1535l2.0 0.8M1322 1537l2.0 0.8M1361 1538l2.0 0.8M1371 1534l2.0 0.8M1398 1539l2.0 0.8M1408 1537l2.0 0.8M1416 1535l2.0 0.8M1428 1536l2.0 0.8M1447 1537l2.0 0.8M1495 1539l2.0 0.8M1501 1538l2.0 0.8M1519 1539l2.0 0.8M1533 1535l2.0 0.8M1542 1536l2.0 0.8M1627 1538l2.0 0.8M1646 1539l2.0 0.8M1662 1536l2.0 0.8M1670 1539l2.0 0.8" stroke="#f5f3f6" stroke-width="5.6" stroke-linecap="round" fill="none"/>
<path d="M941 1177l2.0 0.8M1005 1178l2.0 0.8M1153 1181l2.0 0.8M1230 1180l2.0 0.8M1238 1181l2.0 0.8M1250 1181l2.0 0.8M1597 1181l2.0 0.8M1665 1177l2.0 0.8M980 1185l2.0 0.8M932 1194l2.0 0.8M1012 1192l2.0 0.8M1408 1192l2.0 0.8M1618 1195l2.0 0.8M1646 1197l2.0 0.8M1020 1202l2.0 0.8M1067 1203l2.0 0.8M1170 1204l2.0 0.8M1415 1205l2.0 0.8M1422 1204l2.0 0.8M910 1209l2.0 0.8M937 1211l2.0 0.8M1023 1210l2.0 0.8M1042 1212l2.0 0.8M1175 1213l2.0 0.8M1420 1210l2.0 0.8M1438 1211l2.0 0.8M1448 1209l2.0 0.8M1486 1211l2.0 0.8M953 1219l2.0 0.8M1159 1219l2.0 0.8M1171 1218l2.0 0.8M1487 1221l2.0 0.8M960 1227l2.0 0.8M1167 1226l2.0 0.8M1251 1228l2.0 0.8M1399 1225l2.0 0.8M1503 1225l2.0 0.8M1543 1226l2.0 0.8M942 1234l2.0 0.8M1318 1237l2.0 0.8M1356 1238l2.0 0.8M1411 1235l2.0 0.8M1379 1245l2.0 0.8M1401 1245l2.0 0.8M1484 1243l2.0 0.8M1598 1244l2.0 0.8M1019 1250l2.0 0.8M1026 1250l2.0 0.8M1046 1250l2.0 0.8M1322 1254l2.0 0.8M1471 1250l2.0 0.8M1496 1253l2.0 0.8M909 1261l2.0 0.8M1138 1258l2.0 0.8M1148 1261l2.0 0.8M1323 1259l2.0 0.8M1588 1259l2.0 0.8M1001 1266l2.0 0.8M1452 1266l2.0 0.8M1498 1266l2.0 0.8M1556 1268l2.0 0.8M1307 1274l2.0 0.8M1391 1275l2.0 0.8M1256 1285l2.0 0.8M1337 1285l2.0 0.8M1432 1287l2.0 0.8M892 1295l2.0 0.8M969 1292l2.0 0.8M1250 1294l2.0 0.8M1606 1291l2.0 0.8M1664 1291l2.0 0.8M1010 1300l2.0 0.8M1086 1302l2.0 0.8M1140 1300l2.0 0.8M1178 1302l2.0 0.8M1190 1299l2.0 0.8M1385 1301l2.0 0.8M1649 1300l2.0 0.8M1417 1308l2.0 0.8M1520 1307l2.0 0.8M963 1318l2.0 0.8M1236 1315l2.0 0.8M1327 1319l2.0 0.8M1394 1317l2.0 0.8M1603 1319l2.0 0.8M1185 1327l2.0 0.8M1204 1326l2.0 0.8M1606 1325l2.0 0.8M1337 1333l2.0 0.8M1346 1335l2.0 0.8M1356 1334l2.0 0.8M1404 1333l2.0 0.8M1610 1334l2.0 0.8M1213 1339l2.0 0.8M1266 1342l2.0 0.8M1323 1341l2.0 0.8M1410 1343l2.0 0.8M1430 1344l2.0 0.8M1491 1343l2.0 0.8M1618 1344l2.0 0.8M1642 1341l2.0 0.8M877 1350l2.0 0.8M1002 1347l2.0 0.8M1029 1351l2.0 0.8M1563 1351l2.0 0.8M1668 1349l2.0 0.8M1004 1358l2.0 0.8M1125 1360l2.0 0.8M1181 1359l2.0 0.8M1267 1358l2.0 0.8M1288 1358l2.0 0.8M1306 1358l2.0 0.8M1373 1358l2.0 0.8M1383 1356l2.0 0.8M1475 1355l2.0 0.8M1543 1355l2.0 0.8M1299 1367l2.0 0.8M1668 1364l2.0 0.8M875 1372l2.0 0.8M882 1375l2.0 0.8M1351 1375l2.0 0.8M1532 1375l2.0 0.8M847 1382l2.0 0.8M1349 1383l2.0 0.8M1375 1381l2.0 0.8M1565 1383l2.0 0.8M1668 1384l2.0 0.8M901 1392l2.0 0.8M966 1392l2.0 0.8M994 1392l2.0 0.8M1072 1392l2.0 0.8M1081 1388l2.0 0.8M1109 1388l2.0 0.8M1277 1391l2.0 0.8M1397 1389l2.0 0.8M1538 1391l2.0 0.8M1633 1390l2.0 0.8M905 1397l2.0 0.8M1000 1396l2.0 0.8M1010 1396l2.0 0.8M1226 1396l2.0 0.8M1631 1399l2.0 0.8M901 1407l2.0 0.8M1379 1408l2.0 0.8M1435 1408l2.0 0.8M1455 1406l2.0 0.8M1673 1405l2.0 0.8M961 1413l2.0 0.8M1282 1416l2.0 0.8M1308 1416l2.0 0.8M1376 1413l2.0 0.8M1666 1417l2.0 0.8M902 1423l2.0 0.8M950 1423l2.0 0.8M968 1422l2.0 0.8M1013 1423l2.0 0.8M1296 1423l2.0 0.8M1531 1423l2.0 0.8M1313 1432l2.0 0.8M1459 1429l2.0 0.8M1527 1433l2.0 0.8M919 1441l2.0 0.8M1334 1440l2.0 0.8M1512 1440l2.0 0.8M1520 1442l2.0 0.8M1570 1439l2.0 0.8M914 1447l2.0 0.8M951 1448l2.0 0.8M990 1447l2.0 0.8M1074 1445l2.0 0.8M1190 1447l2.0 0.8M862 1458l2.0 0.8M899 1457l2.0 0.8M911 1453l2.0 0.8M922 1456l2.0 0.8M950 1455l2.0 0.8M967 1458l2.0 0.8M1089 1454l2.0 0.8M1155 1455l2.0 0.8M1249 1454l2.0 0.8M1448 1454l2.0 0.8M1616 1458l2.0 0.8M1662 1454l2.0 0.8M1674 1458l2.0 0.8M860 1466l2.0 0.8M1179 1463l2.0 0.8M1538 1464l2.0 0.8M1543 1462l2.0 0.8M1081 1469l2.0 0.8M1154 1474l2.0 0.8M1561 1472l2.0 0.8M937 1480l2.0 0.8M973 1482l2.0 0.8M1073 1480l2.0 0.8M1134 1479l2.0 0.8M1158 1481l2.0 0.8M1266 1482l2.0 0.8M1386 1481l2.0 0.8M930 1489l2.0 0.8M967 1486l2.0 0.8M975 1489l2.0 0.8M994 1487l2.0 0.8M1051 1487l2.0 0.8M1182 1488l2.0 0.8M1296 1490l2.0 0.8M962 1495l2.0 0.8M1169 1495l2.0 0.8M1451 1498l2.0 0.8M864 1506l2.0 0.8M957 1504l2.0 0.8M1082 1503l2.0 0.8M1090 1505l2.0 0.8M1157 1504l2.0 0.8M1353 1503l2.0 0.8M1524 1503l2.0 0.8M1548 1504l2.0 0.8M1661 1507l2.0 0.8M1672 1507l2.0 0.8M1030 1512l2.0 0.8M1066 1510l2.0 0.8M1131 1511l2.0 0.8M1151 1512l2.0 0.8M1160 1512l2.0 0.8M1180 1513l2.0 0.8M1505 1513l2.0 0.8M1518 1511l2.0 0.8M1526 1515l2.0 0.8M1631 1510l2.0 0.8M950 1520l2.0 0.8M970 1521l2.0 0.8M1091 1523l2.0 0.8M1314 1519l2.0 0.8M1391 1522l2.0 0.8M870 1529l2.0 0.8M897 1531l2.0 0.8M924 1531l2.0 0.8M1087 1528l2.0 0.8M1160 1529l2.0 0.8M1499 1531l2.0 0.8M949 1538l2.0 0.8M987 1539l2.0 0.8M1051 1537l2.0 0.8M1136 1536l2.0 0.8M1303 1539l2.0 0.8M1334 1535l2.0 0.8M1341 1538l2.0 0.8M1383 1539l2.0 0.8M1558 1538l2.0 0.8" stroke="#c9dcee" stroke-width="4.6" stroke-linecap="round" fill="none"/>
</g>
<rect x="844.6" y="1177.8" width="828.6" height="357.4" fill="none" stroke="#000" stroke-width="3.8"/>
<path d="M721.5 5.2 L1750 1 L1745.5 624 L717.4 628.2 Z" fill="none" stroke="#000" stroke-width="2.3"/>
<path d="M835.6 257.0 L1086.0 257.5 L1084.0 266.0 L833.6 265.5Z" fill="#9aa062"/>
<path d="M1137.3 259.5 L1386.2 260.0 L1384.2 267.7 L1135.3 267.2Z" fill="#9aa062"/>
<path d="M1441.0 260.0 L1717.0 260.5 L1715.0 268.4 L1439.0 267.9Z" fill="#9aa062"/>
<path d="M902.2 58.8Q901.7 63.8 901.2 68.5Q900.8 73.2 900.4 78.1Q900.0 83.1 897.8 87.2Q895.5 91.3 892.6 94.6Q889.7 97.9 886.5 100.9Q883.3 103.8 879.6 106.0Q876.0 108.3 871.9 108.3Q867.8 108.3 863.8 108.0Q859.7 107.6 856.2 105.4Q852.6 103.1 848.7 101.4Q844.8 99.6 842.3 95.6Q839.7 91.6 838.0 87.1Q836.3 82.6 835.6 77.9Q834.8 73.2 834.4 68.5Q834.0 63.8 833.0 58.7Q832.0 53.6 833.1 48.7Q834.2 43.7 836.2 39.1Q838.2 34.5 841.2 30.7Q844.2 27.0 848.4 25.8Q852.6 24.6 856.4 23.3Q860.1 21.9 864.0 21.0Q867.8 20.1 871.8 20.1Q875.8 20.1 879.9 21.0Q884.0 21.9 887.8 24.3Q891.6 26.7 893.5 31.6Q895.3 36.5 898.0 40.3Q900.7 44.1 901.7 49.0Q902.8 53.9 902.2 58.8Z" fill="#4b7a3d"/>
<path d="M905.6 50.6Q905.3 54.8 905.4 59.0Q905.4 63.1 904.7 67.6Q903.9 72.0 902.2 75.4Q900.4 78.9 896.9 82.8Q893.3 86.7 889.4 89.0Q885.4 91.4 880.6 89.1Q875.8 86.9 871.8 89.1Q867.8 91.2 863.4 92.4Q859.0 93.5 854.8 90.6Q850.6 87.8 846.3 87.1Q841.9 86.5 839.8 82.8Q837.8 79.2 835.3 74.8Q832.8 70.5 832.4 66.6Q832.0 62.7 831.3 58.8Q830.6 54.8 830.7 50.7Q830.8 46.6 832.6 42.9Q834.4 39.2 835.9 35.2Q837.4 31.3 840.4 28.2Q843.4 25.1 846.8 22.2Q850.2 19.3 854.7 18.7Q859.2 18.1 863.5 19.1Q867.8 20.0 872.1 19.0Q876.4 18.0 880.3 20.0Q884.1 21.9 888.6 23.0Q893.0 24.1 895.5 27.8Q897.9 31.5 899.5 35.3Q901.2 39.2 903.5 42.8Q905.9 46.3 905.6 50.6Z" fill="#347e40"/>
<path d="M905.0 41.8Q905.9 44.9 905.8 48.2Q905.8 51.5 904.3 54.2Q902.9 56.9 900.6 59.6Q898.3 62.4 894.7 66.3Q891.1 70.2 887.8 70.5Q884.5 70.9 879.9 70.6Q875.3 70.3 871.0 73.6Q866.8 77.0 862.5 74.3Q858.3 71.7 853.5 70.8Q848.8 69.9 845.2 70.3Q841.6 70.6 837.3 67.7Q833.1 64.8 831.3 60.8Q829.6 56.7 829.6 53.9Q829.6 51.2 829.2 48.0Q828.8 44.9 828.6 41.7Q828.3 38.4 830.1 35.5Q831.9 32.5 833.0 29.1Q834.1 25.7 837.0 22.9Q839.9 20.1 844.9 19.5Q849.8 18.9 853.8 17.5Q857.9 16.1 862.3 16.3Q866.8 16.4 871.2 16.2Q875.7 16.0 879.8 17.4Q883.8 18.7 887.6 20.4Q891.4 22.1 895.9 23.6Q900.4 25.1 902.3 28.3Q904.3 31.6 904.2 35.1Q904.1 38.6 905.0 41.8Z" fill="#3e8e45"/>
<path d="M869.4 69.2 L875.6 69.2 L877.0 214.0 Q877.9 249.0 882.7 259.0 L861.0 259.0 Q867.1 249.0 868.0 214.0Z" fill="#4f4521"/>
<path d="M871.5 89.0 Q849.8 87.0 845.3 57.5M873.5 83.0 Q887.6 75.0 897.4 66.5M873.5 77.2 Q881.6 65.2 887.6 49.4M872.5 71.2 L877.8 46.7" stroke="#5a4020" stroke-width="2.3" fill="none" stroke-linecap="round"/>
<path d="M974.8 59.6Q976.1 64.8 974.2 69.9Q972.3 74.9 972.6 80.8Q972.9 86.6 970.0 90.7Q967.1 94.8 965.2 100.3Q963.2 105.7 958.5 106.3Q953.7 106.8 950.2 110.0Q946.6 113.2 942.4 113.0Q938.2 112.9 933.9 113.0Q929.7 113.1 925.3 112.1Q921.0 111.2 917.9 107.0Q914.9 102.8 911.8 99.1Q908.6 95.4 906.1 91.0Q903.5 86.5 903.3 80.9Q903.1 75.2 902.9 70.0Q902.7 64.8 903.0 59.6Q903.3 54.5 903.1 48.6Q903.0 42.8 905.0 37.7Q907.0 32.6 910.3 28.6Q913.5 24.7 917.9 23.3Q922.2 21.9 925.9 19.0Q929.6 16.2 933.9 16.9Q938.2 17.6 942.1 18.5Q946.1 19.4 950.3 20.2Q954.4 20.9 958.2 23.5Q961.9 26.1 964.4 30.6Q966.9 35.0 969.6 39.2Q972.3 43.4 972.9 48.9Q973.5 54.3 974.8 59.6Z" fill="#4b7a3d"/>
<path d="M976.9 50.4Q976.3 55.0 976.3 59.4Q976.4 63.9 975.5 68.7Q974.5 73.6 972.5 77.4Q970.6 81.2 967.3 83.9Q963.9 86.5 960.0 90.4Q956.1 94.3 951.4 93.8Q946.7 93.3 942.4 93.1Q938.2 92.9 934.0 93.2Q929.8 93.4 925.3 92.8Q920.9 92.2 916.7 89.1Q912.6 86.1 909.6 83.6Q906.7 81.1 903.7 77.5Q900.6 73.9 900.6 68.8Q900.5 63.7 899.5 59.4Q898.4 55.0 898.2 50.3Q898.1 45.7 900.2 41.6Q902.4 37.5 903.3 32.5Q904.2 27.5 907.8 24.1Q911.3 20.8 915.8 18.9Q920.2 17.1 925.0 17.5Q929.8 17.8 934.0 16.8Q938.2 15.8 942.6 15.7Q947.0 15.5 951.2 17.0Q955.4 18.5 959.4 20.6Q963.4 22.7 966.8 25.9Q970.2 29.0 972.0 33.3Q973.9 37.5 975.8 41.7Q977.6 45.8 976.9 50.4Z" fill="#347e40"/>
<path d="M976.9 40.6Q976.1 44.2 976.7 47.8Q977.2 51.3 976.8 55.8Q976.4 60.2 973.0 61.4Q969.6 62.6 967.0 66.8Q964.5 71.0 959.8 74.0Q955.2 77.0 950.5 74.7Q945.7 72.5 941.1 72.4Q936.6 72.3 932.4 74.2Q928.1 76.1 923.4 73.6Q918.6 71.1 913.7 70.5Q908.8 69.8 906.2 68.2Q903.7 66.6 901.2 62.1Q898.8 57.6 898.5 54.3Q898.2 50.9 896.8 47.6Q895.5 44.2 895.4 40.5Q895.3 36.9 897.3 33.6Q899.2 30.3 900.0 26.2Q900.7 22.1 905.8 20.7Q911.0 19.4 914.3 16.6Q917.7 13.9 922.5 13.2Q927.2 12.5 931.9 13.7Q936.6 15.0 941.2 14.1Q945.8 13.1 950.3 14.0Q954.9 14.8 960.0 15.7Q965.1 16.6 967.2 20.3Q969.3 24.0 971.9 27.0Q974.5 30.1 976.1 33.5Q977.6 36.9 976.9 40.6Z" fill="#3e8e45"/>
<path d="M936.3 70.7 L942.5 70.7 L943.9 214.0 Q944.8 249.0 950.0 259.0 L929.6 259.0 Q934.0 249.0 934.9 214.0Z" fill="#4f4521"/>
<path d="M938.4 92.3 Q915.7 90.3 911.0 57.9M940.4 86.3 Q955.2 78.3 965.4 67.8M940.4 78.7 Q948.9 66.7 955.2 49.1M939.4 72.7 L944.9 46.1" stroke="#5a4020" stroke-width="2.3" fill="none" stroke-linecap="round"/>
<path d="M1034.0 68.8Q1033.9 73.5 1032.8 78.0Q1031.8 82.4 1031.0 86.8Q1030.3 91.2 1029.1 95.8Q1028.0 100.5 1024.8 103.0Q1021.6 105.5 1019.0 109.0Q1016.5 112.4 1012.9 113.5Q1009.3 114.6 1005.7 113.4Q1002.1 112.1 998.5 113.2Q995.0 114.3 991.6 112.8Q988.1 111.4 984.8 109.4Q981.4 107.4 978.4 104.4Q975.3 101.4 973.5 97.0Q971.7 92.7 971.7 87.6Q971.7 82.6 970.9 78.1Q970.0 73.5 970.3 68.8Q970.6 64.1 971.2 59.3Q971.7 54.4 974.7 51.3Q977.7 48.1 979.2 43.4Q980.8 38.6 984.6 37.7Q988.5 36.7 991.9 35.9Q995.4 35.0 998.7 33.9Q1002.1 32.7 1005.7 32.4Q1009.3 32.2 1013.0 33.1Q1016.7 33.9 1019.5 37.3Q1022.3 40.6 1025.4 43.3Q1028.6 46.0 1029.2 51.1Q1029.7 56.2 1032.0 60.1Q1034.2 64.0 1034.0 68.8Z" fill="#4b7a3d"/>
<path d="M1035.5 61.2Q1035.6 65.1 1035.6 69.0Q1035.5 72.9 1035.2 76.9Q1034.8 80.9 1032.0 84.6Q1029.1 88.4 1026.2 89.9Q1023.4 91.5 1020.5 94.3Q1017.7 97.1 1013.6 98.5Q1009.5 99.9 1005.8 98.9Q1002.1 97.8 998.2 98.0Q994.4 98.2 990.9 98.0Q987.5 97.7 983.2 96.2Q979.0 94.6 976.6 90.7Q974.3 86.7 973.2 83.6Q972.1 80.6 970.1 76.8Q968.0 73.1 968.4 69.1Q968.8 65.1 969.8 61.4Q970.7 57.8 970.2 53.5Q969.7 49.2 971.6 45.5Q973.5 41.8 976.4 38.9Q979.3 36.0 983.1 34.3Q986.8 32.6 990.5 31.3Q994.3 30.0 998.2 31.5Q1002.1 33.0 1006.0 31.6Q1009.9 30.1 1013.7 31.4Q1017.4 32.7 1020.6 35.0Q1023.8 37.4 1027.0 39.8Q1030.3 42.2 1031.6 46.1Q1032.9 50.0 1034.1 53.7Q1035.3 57.4 1035.5 61.2Z" fill="#347e40"/>
<path d="M1033.5 53.0Q1033.7 55.8 1033.7 58.7Q1033.6 61.5 1033.9 65.2Q1034.3 68.9 1031.8 71.5Q1029.4 74.1 1026.6 74.3Q1023.7 74.6 1020.4 78.3Q1017.1 82.0 1013.1 82.9Q1009.2 83.8 1005.4 80.8Q1001.6 77.7 997.8 79.9Q994.1 82.1 989.7 83.3Q985.4 84.4 982.5 79.7Q979.5 74.9 976.6 73.9Q973.7 73.0 972.5 70.8Q971.2 68.6 970.2 65.1Q969.1 61.6 969.3 58.7Q969.5 55.8 967.8 52.7Q966.1 49.6 968.1 46.8Q970.1 44.1 970.5 40.5Q971.0 36.9 975.3 35.6Q979.5 34.4 982.4 32.0Q985.3 29.6 989.6 29.7Q994.0 29.8 997.8 29.5Q1001.6 29.1 1005.5 29.2Q1009.4 29.3 1013.1 30.4Q1016.7 31.5 1020.3 32.8Q1024.0 34.1 1027.6 35.8Q1031.2 37.5 1031.8 40.9Q1032.4 44.3 1032.8 47.3Q1033.2 50.2 1033.5 53.0Z" fill="#3e8e45"/>
<path d="M997.3 78.6 L1003.5 78.6 L1004.9 214.0 Q1005.8 249.0 1009.5 259.0 L992.4 259.0 Q995.0 249.0 995.9 214.0Z" fill="#4f4521"/>
<path d="M999.4 97.1 Q980.2 95.1 976.1 67.6M1001.4 91.1 Q1013.9 83.1 1022.6 76.1M1001.4 86.6 Q1008.5 74.6 1013.9 60.0M1000.4 80.6 L1005.1 57.5" stroke="#5a4020" stroke-width="2.3" fill="none" stroke-linecap="round"/>
<path d="M1093.7 58.7Q1094.1 63.4 1093.0 67.9Q1091.8 72.4 1091.8 77.4Q1091.8 82.4 1090.3 87.0Q1088.9 91.7 1086.1 95.3Q1083.3 98.9 1079.6 100.7Q1075.9 102.4 1072.4 103.7Q1068.8 105.0 1065.2 104.8Q1061.5 104.5 1057.9 104.5Q1054.3 104.6 1050.9 102.7Q1047.6 100.8 1043.8 99.6Q1040.0 98.4 1037.4 94.7Q1034.8 91.1 1033.5 86.4Q1032.2 81.7 1031.2 77.2Q1030.2 72.7 1029.5 68.0Q1028.7 63.4 1029.4 58.7Q1030.0 54.1 1030.1 48.9Q1030.2 43.8 1032.0 39.2Q1033.8 34.7 1036.7 31.3Q1039.7 27.8 1043.7 26.9Q1047.7 26.0 1051.1 25.0Q1054.6 24.0 1058.0 23.3Q1061.5 22.6 1065.1 22.7Q1068.6 22.8 1072.4 23.2Q1076.2 23.6 1079.8 25.8Q1083.3 27.9 1085.7 31.8Q1088.1 35.8 1090.0 40.1Q1091.9 44.4 1092.6 49.2Q1093.4 53.9 1093.7 58.7Z" fill="#4b7a3d"/>
<path d="M1095.7 50.8Q1096.1 54.7 1095.6 58.6Q1095.1 62.5 1094.8 66.3Q1094.5 70.1 1091.8 73.6Q1089.0 77.1 1087.0 81.5Q1084.9 85.9 1080.9 85.8Q1076.9 85.7 1073.1 87.4Q1069.3 89.2 1065.4 89.7Q1061.5 90.2 1057.7 88.7Q1053.9 87.2 1050.1 86.7Q1046.3 86.2 1042.6 85.6Q1038.9 85.0 1035.5 81.5Q1032.1 78.0 1030.7 74.0Q1029.3 70.0 1027.7 66.5Q1026.1 62.9 1026.6 58.8Q1027.1 54.7 1027.9 50.9Q1028.6 47.1 1028.7 42.9Q1028.8 38.7 1030.7 35.0Q1032.6 31.3 1036.0 28.9Q1039.4 26.5 1042.6 24.1Q1045.9 21.8 1050.0 21.9Q1054.2 22.0 1057.8 21.2Q1061.5 20.5 1065.4 20.3Q1069.2 20.2 1073.3 20.7Q1077.4 21.2 1081.4 22.7Q1085.5 24.1 1088.1 27.6Q1090.6 31.1 1091.4 35.4Q1092.3 39.6 1093.8 43.3Q1095.2 46.9 1095.7 50.8Z" fill="#347e40"/>
<path d="M1094.3 42.2Q1094.4 45.2 1094.7 48.2Q1094.9 51.2 1093.9 53.5Q1092.9 55.9 1091.6 60.6Q1090.3 65.3 1087.6 66.9Q1084.8 68.6 1081.0 68.5Q1077.1 68.5 1072.8 71.1Q1068.5 73.7 1064.6 73.1Q1060.8 72.5 1057.0 70.0Q1053.2 67.5 1048.7 70.6Q1044.2 73.7 1040.9 71.4Q1037.6 69.0 1033.6 65.6Q1029.5 62.3 1029.4 59.9Q1029.2 57.5 1028.7 54.2Q1028.3 50.9 1027.3 48.0Q1026.3 45.2 1026.4 42.2Q1026.5 39.1 1026.5 35.8Q1026.5 32.4 1028.0 29.2Q1029.6 26.0 1033.3 24.0Q1036.9 22.1 1041.0 21.1Q1045.2 20.1 1048.9 18.9Q1052.7 17.8 1056.8 18.1Q1060.8 18.4 1064.6 18.8Q1068.5 19.2 1072.5 19.6Q1076.5 20.0 1079.9 21.7Q1083.2 23.5 1087.3 24.9Q1091.5 26.3 1091.9 29.9Q1092.3 33.5 1093.2 36.4Q1094.1 39.3 1094.3 42.2Z" fill="#3e8e45"/>
<path d="M1045.3 68.6 L1051.5 68.6 L1052.9 214.0 Q1053.8 249.0 1059.8 259.0 L1038.0 259.0 Q1043.0 249.0 1043.9 214.0Z" fill="#4f4521"/>
<path d="M1047.4 87.7 Q1027.5 85.7 1023.3 57.3M1049.4 81.7 Q1062.3 73.7 1071.4 66.0M1049.4 76.6 Q1056.8 64.6 1062.3 49.5M1048.4 70.6 L1053.3 46.9" stroke="#5a4020" stroke-width="2.3" fill="none" stroke-linecap="round"/>
<path d="M1220.1 57.8Q1220.9 62.8 1219.8 67.7Q1218.6 72.6 1218.7 78.0Q1218.8 83.5 1215.6 87.7Q1212.4 91.9 1209.8 96.7Q1207.1 101.6 1201.6 102.6Q1196.1 103.6 1191.7 106.0Q1187.2 108.4 1182.1 107.4Q1177.1 106.3 1172.0 107.8Q1166.8 109.3 1161.8 107.9Q1156.7 106.5 1153.1 102.5Q1149.5 98.5 1145.0 95.7Q1140.5 92.9 1139.0 87.7Q1137.4 82.5 1135.7 77.7Q1134.0 72.9 1133.0 67.9Q1132.0 62.8 1133.7 57.9Q1135.5 53.0 1136.5 48.0Q1137.5 43.1 1140.0 38.7Q1142.6 34.4 1146.1 30.8Q1149.6 27.2 1153.5 23.9Q1157.5 20.7 1162.5 20.2Q1167.6 19.8 1172.3 19.6Q1177.1 19.4 1182.1 18.4Q1187.1 17.4 1191.7 19.5Q1196.3 21.5 1200.9 23.9Q1205.4 26.2 1209.0 29.9Q1212.5 33.6 1215.9 37.7Q1219.3 41.8 1219.3 47.3Q1219.2 52.9 1220.1 57.8Z" fill="#4b7a3d"/>
<path d="M1223.3 49.0Q1221.5 53.4 1222.2 57.6Q1222.8 61.8 1221.1 66.0Q1219.4 70.2 1218.3 74.1Q1217.3 78.0 1212.8 82.0Q1208.4 85.9 1202.9 87.1Q1197.3 88.4 1192.2 87.7Q1187.1 87.0 1182.1 89.7Q1177.1 92.4 1172.0 91.6Q1166.9 90.7 1161.2 89.4Q1155.4 88.1 1150.4 86.9Q1145.4 85.6 1141.7 82.7Q1137.9 79.7 1134.7 75.1Q1131.5 70.4 1131.0 66.2Q1130.6 62.0 1130.4 57.7Q1130.3 53.4 1130.9 49.2Q1131.5 45.0 1132.8 40.8Q1134.2 36.7 1136.8 32.9Q1139.3 29.1 1142.7 25.5Q1146.1 22.0 1151.1 20.1Q1156.2 18.3 1161.2 16.7Q1166.3 15.2 1171.7 16.0Q1177.1 16.7 1182.3 16.7Q1187.5 16.6 1193.4 16.4Q1199.2 16.2 1204.0 18.8Q1208.7 21.4 1212.8 24.5Q1216.9 27.7 1219.4 31.8Q1222.0 35.9 1223.5 40.3Q1225.1 44.6 1223.3 49.0Z" fill="#347e40"/>
<path d="M1223.0 39.9Q1223.9 43.1 1223.1 46.3Q1222.3 49.5 1222.5 52.7Q1222.6 55.8 1219.3 58.6Q1216.0 61.4 1212.4 66.0Q1208.9 70.7 1204.2 71.0Q1199.6 71.2 1193.2 69.8Q1186.7 68.3 1181.6 71.6Q1176.5 74.9 1171.0 73.4Q1165.5 72.0 1160.6 69.5Q1155.7 67.0 1150.6 68.2Q1145.4 69.4 1139.8 66.6Q1134.2 63.9 1131.4 59.9Q1128.5 55.9 1129.5 52.7Q1130.4 49.5 1130.6 46.3Q1130.9 43.1 1128.8 39.6Q1126.7 36.1 1129.4 33.0Q1132.1 29.9 1133.7 26.4Q1135.3 22.9 1139.5 20.3Q1143.6 17.8 1149.0 16.3Q1154.3 14.8 1159.8 13.8Q1165.2 12.7 1170.9 12.6Q1176.5 12.4 1182.0 12.9Q1187.5 13.5 1193.4 13.8Q1199.2 14.1 1204.7 15.7Q1210.1 17.2 1214.0 20.0Q1217.9 22.8 1219.7 26.3Q1221.5 29.8 1221.8 33.2Q1222.1 36.7 1223.0 39.9Z" fill="#3e8e45"/>
<path d="M1173.9 68.4 L1180.1 68.4 L1181.5 216.0 Q1182.4 251.0 1189.2 261.0 L1165.0 261.0 Q1171.6 251.0 1172.5 216.0Z" fill="#4f4521"/>
<path d="M1176.0 89.0 Q1148.6 87.0 1142.9 56.2M1178.0 83.0 Q1196.0 75.0 1208.3 65.6M1178.0 76.4 Q1188.4 64.4 1196.0 47.8M1177.0 70.4 L1183.6 45.0" stroke="#5a4020" stroke-width="2.3" fill="none" stroke-linecap="round"/>
<path d="M1306.9 63.9Q1307.1 69.4 1308.3 75.2Q1309.6 81.0 1308.4 86.9Q1307.3 92.7 1303.3 96.6Q1299.3 100.5 1297.1 106.2Q1294.9 111.8 1290.3 114.3Q1285.6 116.8 1280.8 118.0Q1276.0 119.3 1271.2 117.9Q1266.3 116.6 1261.5 118.3Q1256.6 120.0 1252.1 117.6Q1247.7 115.2 1242.8 113.4Q1237.9 111.6 1234.7 106.9Q1231.6 102.2 1228.9 97.3Q1226.1 92.3 1225.1 86.6Q1224.0 80.8 1224.6 75.1Q1225.1 69.4 1224.7 63.7Q1224.2 58.0 1224.8 52.0Q1225.3 46.0 1227.8 40.7Q1230.4 35.4 1234.0 31.0Q1237.6 26.7 1242.9 25.7Q1248.2 24.8 1252.5 22.2Q1256.8 19.6 1261.6 18.8Q1266.3 18.0 1271.0 19.6Q1275.6 21.3 1280.0 23.2Q1284.4 25.0 1289.5 26.2Q1294.6 27.3 1297.9 31.9Q1301.2 36.5 1304.3 41.2Q1307.4 46.0 1307.1 52.2Q1306.7 58.4 1306.9 63.9Z" fill="#4b7a3d"/>
<path d="M1310.5 54.3Q1310.1 59.0 1310.6 63.7Q1311.0 68.5 1309.3 73.4Q1307.7 78.3 1306.4 82.9Q1305.2 87.6 1300.7 90.0Q1296.3 92.5 1291.3 95.8Q1286.4 99.1 1281.6 100.5Q1276.9 101.9 1271.6 100.8Q1266.3 99.7 1261.1 101.3Q1255.9 102.9 1250.8 101.2Q1245.6 99.5 1241.4 95.4Q1237.3 91.3 1233.2 89.2Q1229.1 87.2 1227.1 82.5Q1225.1 77.9 1223.0 73.3Q1220.8 68.7 1222.3 63.8Q1223.9 59.0 1222.3 54.2Q1220.8 49.4 1223.1 45.1Q1225.5 40.8 1227.4 36.3Q1229.4 31.7 1232.7 27.7Q1235.9 23.7 1240.8 21.4Q1245.6 19.1 1250.9 18.5Q1256.2 18.0 1261.3 17.7Q1266.3 17.4 1271.4 17.5Q1276.5 17.6 1281.7 18.5Q1286.9 19.4 1291.1 22.5Q1295.2 25.5 1299.2 28.6Q1303.3 31.7 1304.9 36.4Q1306.6 41.1 1308.8 45.3Q1310.9 49.6 1310.5 54.3Z" fill="#347e40"/>
<path d="M1311.2 44.2Q1312.2 47.7 1312.2 51.3Q1312.3 55.0 1312.1 59.6Q1311.9 64.2 1308.4 65.7Q1305.0 67.2 1301.1 70.9Q1297.2 74.5 1292.7 78.2Q1288.2 81.9 1282.6 79.4Q1277.0 76.9 1271.8 77.6Q1266.7 78.3 1261.6 80.4Q1256.5 82.5 1251.3 79.2Q1246.1 75.8 1241.4 74.3Q1236.7 72.8 1231.8 72.5Q1226.9 72.1 1224.0 67.3Q1221.0 62.5 1220.7 58.8Q1220.4 55.1 1220.4 51.4Q1220.4 47.7 1221.3 44.1Q1222.3 40.5 1222.8 36.8Q1223.4 33.0 1226.3 29.8Q1229.2 26.6 1231.9 23.0Q1234.6 19.4 1240.4 18.5Q1246.2 17.7 1251.4 17.1Q1256.6 16.6 1261.6 15.2Q1266.7 13.8 1271.7 15.1Q1276.8 16.4 1282.8 15.8Q1288.9 15.2 1293.6 17.5Q1298.3 19.7 1302.7 22.4Q1307.0 25.0 1309.0 28.8Q1311.0 32.6 1310.6 36.7Q1310.2 40.7 1311.2 44.2Z" fill="#3e8e45"/>
<path d="M1266.9 75.6 L1273.1 75.6 L1274.5 216.0 Q1275.4 251.0 1282.0 261.0 L1258.0 261.0 Q1264.6 251.0 1265.5 216.0Z" fill="#4f4521"/>
<path d="M1269.0 98.3 Q1242.7 96.3 1237.2 62.1M1271.0 92.3 Q1288.2 84.3 1300.1 72.5M1271.0 83.6 Q1280.9 71.6 1288.2 52.8M1270.0 77.6 L1276.4 49.7" stroke="#5a4020" stroke-width="2.3" fill="none" stroke-linecap="round"/>
<path d="M1391.5 61.8Q1391.9 66.8 1390.4 71.6Q1389.0 76.3 1388.3 81.2Q1387.6 86.1 1384.9 90.1Q1382.2 94.1 1380.2 99.0Q1378.1 104.0 1373.1 104.8Q1368.0 105.6 1363.9 107.7Q1359.9 109.9 1355.4 110.0Q1350.8 110.1 1346.3 110.1Q1341.8 110.1 1337.5 108.3Q1333.2 106.6 1329.2 104.2Q1325.2 101.8 1321.9 98.3Q1318.6 94.8 1317.1 90.1Q1315.5 85.3 1314.1 80.8Q1312.6 76.3 1312.5 71.6Q1312.3 66.8 1311.6 61.9Q1310.8 56.9 1312.5 52.3Q1314.2 47.6 1316.9 43.7Q1319.6 39.7 1322.8 36.4Q1326.1 33.1 1329.7 30.2Q1333.4 27.3 1337.4 24.9Q1341.5 22.4 1346.2 24.2Q1350.8 26.0 1355.3 25.3Q1359.7 24.7 1364.4 25.2Q1369.1 25.7 1372.5 29.2Q1375.8 32.8 1380.1 35.2Q1384.4 37.7 1386.8 42.3Q1389.2 46.8 1390.1 51.8Q1391.1 56.9 1391.5 61.8Z" fill="#4b7a3d"/>
<path d="M1391.8 54.0Q1392.1 57.9 1392.6 62.0Q1393.0 66.1 1390.8 69.6Q1388.7 73.1 1388.3 78.7Q1388.0 84.3 1384.0 86.3Q1380.0 88.2 1375.5 90.3Q1371.0 92.5 1365.6 93.4Q1360.1 94.4 1355.5 93.2Q1350.8 91.9 1346.3 91.1Q1341.8 90.3 1337.0 91.4Q1332.3 92.4 1328.1 89.4Q1323.9 86.5 1319.3 83.9Q1314.7 81.3 1313.2 78.0Q1311.6 74.7 1309.7 70.5Q1307.9 66.2 1307.8 62.1Q1307.8 57.9 1308.8 53.9Q1309.8 49.9 1311.1 46.0Q1312.4 42.1 1314.2 38.2Q1316.0 34.2 1319.9 31.7Q1323.9 29.2 1327.7 26.4Q1331.4 23.5 1336.5 23.6Q1341.6 23.6 1346.2 23.5Q1350.8 23.4 1355.8 22.3Q1360.7 21.1 1365.3 22.7Q1369.9 24.3 1375.1 25.3Q1380.4 26.4 1384.2 29.6Q1388.0 32.7 1389.6 37.0Q1391.3 41.3 1391.4 45.7Q1391.5 50.0 1391.8 54.0Z" fill="#347e40"/>
<path d="M1393.6 44.9Q1392.2 48.1 1393.5 51.3Q1394.7 54.4 1394.9 58.5Q1395.0 62.5 1391.4 65.1Q1387.7 67.7 1384.4 68.5Q1381.1 69.3 1376.1 72.4Q1371.0 75.5 1366.3 77.0Q1361.6 78.6 1356.6 75.8Q1351.6 73.0 1346.7 74.8Q1341.7 76.6 1336.2 77.6Q1330.7 78.6 1326.1 74.3Q1321.5 70.0 1318.5 68.3Q1315.5 66.6 1313.3 64.3Q1311.1 62.1 1309.7 58.3Q1308.3 54.5 1308.0 51.3Q1307.7 48.1 1309.1 45.0Q1310.4 42.0 1309.7 38.4Q1309.0 34.8 1312.0 32.0Q1315.0 29.2 1318.1 26.4Q1321.3 23.5 1327.0 23.2Q1332.8 22.9 1337.4 22.0Q1342.1 21.2 1346.8 21.6Q1351.6 22.0 1356.4 21.4Q1361.2 20.8 1366.0 21.6Q1370.8 22.4 1375.6 23.5Q1380.4 24.7 1383.8 27.2Q1387.2 29.8 1390.8 32.3Q1394.3 34.8 1394.6 38.2Q1394.9 41.7 1393.6 44.9Z" fill="#3e8e45"/>
<path d="M1340.4 72.2 L1346.6 72.2 L1348.0 216.0 Q1348.9 251.0 1354.6 261.0 L1334.0 261.0 Q1338.1 251.0 1339.0 216.0Z" fill="#4f4521"/>
<path d="M1342.5 91.8 Q1317.8 89.8 1312.6 60.6M1344.5 85.8 Q1360.6 77.8 1371.8 69.5M1344.5 80.2 Q1353.8 68.2 1360.6 52.5M1343.5 74.2 L1349.5 49.9" stroke="#5a4020" stroke-width="2.3" fill="none" stroke-linecap="round"/>
<path d="M1509.3 64.1Q1509.7 70.0 1509.3 76.0Q1509.0 81.9 1508.1 87.9Q1507.2 93.9 1504.5 99.1Q1501.8 104.3 1498.9 109.7Q1496.0 115.0 1490.8 116.3Q1485.5 117.6 1481.0 119.7Q1476.5 121.8 1471.7 123.0Q1466.9 124.1 1462.0 123.4Q1457.1 122.6 1452.0 122.0Q1446.8 121.3 1443.1 117.0Q1439.3 112.6 1435.7 108.4Q1432.1 104.2 1429.9 98.8Q1427.7 93.3 1426.9 87.4Q1426.2 81.5 1426.1 75.8Q1425.9 70.0 1425.3 64.1Q1424.6 58.2 1426.1 52.5Q1427.7 46.8 1429.5 40.9Q1431.3 35.1 1434.3 29.8Q1437.4 24.5 1442.0 21.4Q1446.7 18.3 1451.8 17.4Q1457.0 16.6 1461.9 17.4Q1466.9 18.3 1471.7 18.4Q1476.4 18.6 1481.7 18.7Q1486.9 18.8 1490.6 23.3Q1494.3 27.7 1498.9 31.0Q1503.4 34.2 1504.6 40.6Q1505.9 46.9 1507.4 52.6Q1509.0 58.2 1509.3 64.1Z" fill="#4b7a3d"/>
<path d="M1511.3 54.1Q1510.9 59.1 1511.5 64.0Q1512.1 69.0 1511.1 73.6Q1510.1 78.3 1508.6 84.2Q1507.2 90.1 1502.8 94.3Q1498.5 98.6 1493.4 99.5Q1488.3 100.4 1482.9 101.7Q1477.4 103.1 1472.2 103.2Q1466.9 103.3 1461.5 103.2Q1456.2 103.0 1451.2 101.4Q1446.2 99.8 1441.1 98.9Q1436.0 98.0 1433.0 92.4Q1430.0 86.8 1427.3 82.5Q1424.5 78.2 1422.3 73.8Q1420.2 69.3 1421.6 64.2Q1423.0 59.1 1423.3 54.3Q1423.6 49.6 1424.0 44.5Q1424.5 39.4 1426.7 34.7Q1429.0 30.0 1432.6 26.0Q1436.3 22.1 1441.2 19.8Q1446.1 17.5 1451.5 17.2Q1456.9 16.9 1461.9 17.2Q1466.9 17.4 1472.0 16.8Q1477.1 16.2 1482.2 17.2Q1487.3 18.3 1492.5 20.1Q1497.7 21.9 1501.6 25.6Q1505.6 29.4 1508.3 34.0Q1511.0 38.6 1511.4 43.9Q1511.8 49.2 1511.3 54.1Z" fill="#347e40"/>
<path d="M1512.2 43.2Q1512.5 47.0 1513.3 51.0Q1514.2 55.1 1511.3 57.9Q1508.3 60.7 1506.8 66.3Q1505.3 71.9 1500.7 73.3Q1496.1 74.7 1492.0 76.0Q1487.8 77.3 1482.0 79.7Q1476.1 82.2 1471.1 81.6Q1466.0 81.1 1460.5 79.9Q1455.0 78.8 1450.4 79.2Q1445.7 79.7 1440.6 78.0Q1435.5 76.3 1431.2 71.9Q1427.0 67.6 1423.4 65.7Q1419.8 63.9 1419.8 59.3Q1419.9 54.7 1419.3 50.9Q1418.8 47.0 1418.2 43.0Q1417.5 38.9 1420.2 35.4Q1422.9 31.8 1424.6 27.8Q1426.3 23.9 1430.9 21.4Q1435.4 19.0 1439.6 16.2Q1443.8 13.3 1449.9 14.2Q1456.0 15.1 1461.0 13.5Q1466.0 12.0 1471.2 12.9Q1476.3 13.8 1482.0 14.0Q1487.6 14.2 1492.1 16.5Q1496.6 18.9 1502.3 20.7Q1508.0 22.5 1508.8 27.1Q1509.5 31.7 1510.8 35.5Q1512.0 39.3 1512.2 43.2Z" fill="#3e8e45"/>
<path d="M1457.5 76.6 L1463.7 76.6 L1465.1 217.0 Q1466.0 252.0 1476.2 262.0 L1447.6 262.0 Q1455.2 252.0 1456.1 217.0Z" fill="#4f4521"/>
<path d="M1459.6 100.8 Q1432.7 98.8 1427.1 62.4M1461.6 94.8 Q1479.2 86.8 1491.3 73.3M1461.6 84.6 Q1471.8 72.6 1479.2 52.5M1460.6 78.6 L1467.1 49.2" stroke="#5a4020" stroke-width="2.3" fill="none" stroke-linecap="round"/>
<path d="M1635.3 63.5Q1634.3 69.5 1634.4 75.4Q1634.5 81.2 1633.1 87.0Q1631.8 92.8 1629.2 98.2Q1626.5 103.6 1622.7 108.4Q1618.9 113.2 1613.8 116.5Q1608.7 119.7 1602.8 120.4Q1596.8 121.1 1591.1 121.7Q1585.5 122.4 1579.9 121.5Q1574.3 120.6 1568.9 119.0Q1563.4 117.4 1557.7 115.3Q1552.0 113.3 1547.4 109.2Q1542.8 105.0 1541.0 98.9Q1539.1 92.8 1537.7 87.0Q1536.2 81.3 1537.3 75.4Q1538.4 69.5 1536.8 63.5Q1535.1 57.6 1536.9 51.8Q1538.8 46.1 1541.5 40.7Q1544.3 35.3 1549.2 32.0Q1554.2 28.6 1558.6 24.9Q1563.1 21.2 1568.7 19.8Q1574.3 18.3 1579.9 19.2Q1585.5 20.0 1591.0 19.7Q1596.5 19.3 1602.4 19.9Q1608.2 20.4 1613.5 23.2Q1618.8 26.0 1622.9 30.5Q1627.0 35.0 1629.7 40.5Q1632.4 46.0 1634.3 51.7Q1636.3 57.5 1635.3 63.5Z" fill="#4b7a3d"/>
<path d="M1637.7 54.2Q1640.1 58.9 1638.8 63.7Q1637.5 68.5 1636.5 73.7Q1635.5 78.8 1632.3 82.4Q1629.1 85.9 1624.3 90.1Q1619.4 94.3 1614.3 97.0Q1609.1 99.7 1603.0 98.8Q1597.0 97.9 1591.2 99.3Q1585.5 100.6 1579.8 100.9Q1574.0 101.2 1568.4 98.5Q1562.7 95.8 1556.4 95.5Q1550.0 95.2 1546.5 91.4Q1542.9 87.6 1539.1 82.7Q1535.2 77.9 1534.7 73.1Q1534.2 68.4 1532.6 63.6Q1530.9 58.9 1531.8 53.9Q1532.7 49.0 1533.6 43.9Q1534.5 38.8 1537.5 34.3Q1540.6 29.7 1545.0 25.8Q1549.3 21.9 1554.9 19.2Q1560.5 16.6 1566.8 15.5Q1573.0 14.4 1579.3 16.0Q1585.5 17.6 1591.3 17.5Q1597.1 17.3 1603.0 18.3Q1608.9 19.2 1614.4 21.5Q1619.8 23.8 1625.3 26.6Q1630.9 29.3 1634.1 33.9Q1637.3 38.5 1636.3 44.1Q1635.2 49.6 1637.7 54.2Z" fill="#347e40"/>
<path d="M1636.9 43.4Q1637.6 47.1 1636.1 50.7Q1634.6 54.3 1634.2 57.7Q1633.7 61.1 1631.6 64.8Q1629.4 68.6 1623.9 72.6Q1618.4 76.6 1613.4 77.1Q1608.5 77.5 1602.6 78.6Q1596.6 79.6 1590.2 81.5Q1583.8 83.3 1577.5 82.0Q1571.2 80.7 1564.5 79.4Q1557.8 78.0 1553.5 77.2Q1549.3 76.3 1544.9 72.4Q1540.6 68.5 1536.8 64.7Q1533.0 60.9 1530.4 58.0Q1527.7 55.0 1529.2 51.1Q1530.6 47.1 1529.7 43.2Q1528.7 39.3 1530.1 35.4Q1531.6 31.5 1536.0 28.6Q1540.4 25.7 1543.9 22.2Q1547.3 18.8 1553.0 16.8Q1558.7 14.9 1565.5 15.2Q1572.2 15.5 1578.0 15.5Q1583.8 15.5 1590.0 14.5Q1596.2 13.5 1602.1 14.8Q1607.9 16.2 1614.6 17.1Q1621.3 18.0 1624.9 21.5Q1628.6 25.0 1630.5 28.8Q1632.5 32.6 1634.3 36.2Q1636.2 39.7 1636.9 43.4Z" fill="#3e8e45"/>
<path d="M1580.2 75.9 L1586.4 75.9 L1587.8 217.0 Q1588.7 252.0 1601.9 262.0 L1569.0 262.0 Q1577.9 252.0 1578.8 217.0Z" fill="#4f4521"/>
<path d="M1582.3 99.4 Q1551.2 97.4 1544.8 62.1M1584.3 93.4 Q1604.7 85.4 1618.6 72.7M1584.3 83.9 Q1596.1 71.9 1604.7 52.4M1583.3 77.9 L1590.8 49.2" stroke="#5a4020" stroke-width="2.3" fill="none" stroke-linecap="round"/>
<path d="M1740.7 58.2Q1741.3 63.7 1739.9 69.1Q1738.6 74.5 1738.0 80.1Q1737.4 85.7 1735.0 90.8Q1732.6 95.9 1728.2 99.0Q1723.8 102.1 1719.3 104.3Q1714.8 106.5 1710.4 109.0Q1706.0 111.4 1701.1 110.6Q1696.2 109.7 1691.4 110.0Q1686.6 110.4 1681.3 110.3Q1676.0 110.2 1671.4 107.4Q1666.8 104.7 1664.4 99.3Q1662.0 94.0 1659.8 89.2Q1657.6 84.4 1656.2 79.3Q1654.8 74.2 1653.3 69.0Q1651.7 63.7 1653.7 58.6Q1655.7 53.5 1656.3 48.1Q1657.0 42.8 1659.5 38.2Q1662.0 33.5 1665.5 29.6Q1668.9 25.7 1672.8 22.3Q1676.8 18.9 1681.8 18.5Q1686.8 18.0 1691.5 17.2Q1696.2 16.4 1701.2 15.9Q1706.1 15.4 1711.1 16.7Q1716.0 18.1 1720.2 21.3Q1724.3 24.6 1728.6 28.0Q1732.8 31.4 1734.8 36.7Q1736.8 42.1 1738.5 47.3Q1740.1 52.6 1740.7 58.2Z" fill="#4b7a3d"/>
<path d="M1743.2 49.2Q1744.2 53.8 1743.8 58.5Q1743.4 63.1 1742.0 68.2Q1740.7 73.2 1737.3 76.5Q1733.8 79.7 1730.2 82.6Q1726.5 85.5 1722.1 89.7Q1717.6 93.8 1712.2 94.3Q1706.9 94.7 1701.6 92.2Q1696.2 89.8 1691.2 91.5Q1686.2 93.3 1680.3 93.5Q1674.4 93.6 1670.5 89.1Q1666.5 84.5 1661.7 83.1Q1656.9 81.6 1655.2 76.9Q1653.5 72.1 1651.8 67.5Q1650.0 62.9 1649.4 58.4Q1648.7 53.8 1649.5 49.2Q1650.3 44.7 1651.8 40.3Q1653.2 35.8 1655.7 31.7Q1658.2 27.5 1661.6 23.6Q1665.0 19.8 1670.0 17.7Q1675.0 15.6 1680.5 15.1Q1685.9 14.7 1691.1 14.4Q1696.2 14.1 1701.4 14.1Q1706.6 14.2 1711.6 15.6Q1716.6 17.0 1721.4 19.1Q1726.1 21.3 1730.6 24.1Q1735.2 26.8 1736.5 31.6Q1737.9 36.4 1740.0 40.5Q1742.1 44.7 1743.2 49.2Z" fill="#347e40"/>
<path d="M1743.9 39.1Q1743.7 42.8 1742.1 46.3Q1740.5 49.7 1740.8 54.2Q1741.2 58.8 1739.2 61.0Q1737.2 63.2 1731.6 65.9Q1726.1 68.7 1721.6 72.4Q1717.1 76.2 1711.1 73.2Q1705.2 70.3 1700.0 70.9Q1694.8 71.6 1689.6 74.0Q1684.4 76.3 1678.5 73.8Q1672.6 71.4 1668.3 69.2Q1664.1 67.0 1659.0 66.8Q1653.8 66.6 1652.3 61.4Q1650.8 56.2 1650.4 52.9Q1650.1 49.6 1649.2 46.2Q1648.4 42.8 1648.6 39.4Q1648.9 35.9 1649.5 32.3Q1650.2 28.7 1651.5 24.7Q1652.8 20.7 1656.9 17.9Q1661.1 15.0 1667.5 14.6Q1673.9 14.3 1678.7 12.3Q1683.5 10.4 1689.2 11.0Q1694.8 11.6 1700.4 11.0Q1706.0 10.5 1711.6 11.3Q1717.2 12.2 1722.1 14.2Q1726.9 16.3 1730.4 19.3Q1733.8 22.3 1737.9 25.1Q1741.9 27.9 1743.0 31.7Q1744.1 35.4 1743.9 39.1Z" fill="#3e8e45"/>
<path d="M1687.9 69.7 L1694.1 69.7 L1695.5 217.0 Q1696.4 252.0 1707.8 262.0 L1675.5 262.0 Q1685.6 252.0 1686.5 217.0Z" fill="#4f4521"/>
<path d="M1690.0 91.6 Q1662.9 89.6 1657.3 56.8M1692.0 85.6 Q1709.7 77.6 1721.9 66.7M1692.0 77.7 Q1702.2 65.7 1709.7 47.8M1691.0 71.7 L1697.6 44.8" stroke="#5a4020" stroke-width="2.3" fill="none" stroke-linecap="round"/>
<path d="M1213.4 254.0 L1213.4 261.0 L1227.0 261.0 L1227.0 254.0Z" fill="#a4705a"/><ellipse cx="1220.2" cy="254.0" rx="6.8" ry="2" fill="#c9967a"/>
<path d="M1497.0 254.0 L1497.0 261.0 L1512.0 261.0 L1512.0 254.0Z" fill="#a4705a"/><ellipse cx="1504.5" cy="254.0" rx="7.5" ry="2" fill="#c9967a"/>
<path d="M1529.4 254.0 L1529.4 261.0 L1544.2 261.0 L1544.2 254.0Z" fill="#a4705a"/><ellipse cx="1536.8" cy="254.0" rx="7.4" ry="2" fill="#c9967a"/>
<path d="M1631.6 254.0 L1631.6 261.0 L1646.5 261.0 L1646.5 254.0Z" fill="#a4705a"/><ellipse cx="1639.0" cy="254.0" rx="7.5" ry="2" fill="#c9967a"/>
<path d="M848.0 257.0 l-3 -8 M848.0 257.0 l1 -9 M848.0 257.0 l4 -7" stroke="#a0a040" stroke-width="1.1" fill="none"/>
<path d="M992.0 257.0 l-3 -8 M992.0 257.0 l1 -9 M992.0 257.0 l4 -7" stroke="#a0a040" stroke-width="1.1" fill="none"/>
<path d="M1144.0 259.5 l-3 -8 M1144.0 259.5 l1 -9 M1144.0 259.5 l4 -7" stroke="#a0a040" stroke-width="1.1" fill="none"/>
<path d="M1233.0 259.5 l-3 -8 M1233.0 259.5 l1 -9 M1233.0 259.5 l4 -7" stroke="#a0a040" stroke-width="1.1" fill="none"/>
<path d="M1292.0 259.5 l-3 -8 M1292.0 259.5 l1 -9 M1292.0 259.5 l4 -7" stroke="#a0a040" stroke-width="1.1" fill="none"/>
<path d="M1458.0 260.0 l-3 -8 M1458.0 260.0 l1 -9 M1458.0 260.0 l4 -7" stroke="#a0a040" stroke-width="1.1" fill="none"/>
<path d="M1601.0 260.0 l-3 -8 M1601.0 260.0 l1 -9 M1601.0 260.0 l4 -7" stroke="#a0a040" stroke-width="1.1" fill="none"/>
<path d="M851.3 484.0 L873.0 472.0 L895.0 460.5 L917.0 449.0 L940.0 437.0 L962.0 426.5 L984.5 417.0 L994.0 430.0 L1021.7 421.6 L1058.8 413.5 L1058.8 516.7 L967.0 519.4 L967.0 526.6 L934.0 526.6 L934.0 536.4 L907.8 536.4 L907.8 540.8 L896.9 540.8 L896.9 548.5 L851.3 548.5Z" fill="#b6b7b9"/>
<path d="M980.0 418.0 L1009.0 406.0 L1058.8 392.7 L1058.8 402.3 L1021.7 418.6 L994.2 429.8Z" fill="#b6b7b9"/>
<path d="M984.5 416.4 L1006.8 404.5 L1021.7 393.4 L1058.8 378.9" fill="none" stroke="#b6b7b9" stroke-width="4.2" stroke-linejoin="round"/>
<path d="M851.3 478.4 L873.2 465.3 L895.1 451.0 L917.0 440.1 L940.0 426.8 L962.3 412.0 L981.6 401.6 L986.0 403.1 L1005.3 391.9" fill="none" stroke="#b6b7b9" stroke-width="4.2" stroke-linejoin="round"/>
<path d="M954.6 443.7 L969.7 439.5 L984.5 425.0 L995.7 423.4" fill="none" stroke="#fff" stroke-width="1.0" stroke-linejoin="round"/>
<path d="M1158.5 481.6 L1202.4 449.0 L1249.1 427.8 L1293.0 396.6 L1307.2 388.9 L1365.3 374.0 L1366.0 481.6 L1331.3 484.5 L1331.3 492.2 L1294.5 495.1 L1294.5 512.8 L1242.1 516.3 L1203.8 528.4 L1203.8 534.7 L1194.6 535.4 L1194.6 543.9 L1158.5 543.9Z" fill="#b6b7b9"/>
<path d="M1157.8 473.8 L1202.4 445.5 L1249.1 424.3 L1293.0 393.8 L1307.2 386.7 L1365.3 354.2" fill="none" stroke="#b6b7b9" stroke-width="5.0" stroke-linejoin="round"/>
<path d="M1307.2 391.0 L1327.0 379.7 L1365.3 366.9" fill="none" stroke="#b6b7b9" stroke-width="5.0" stroke-linejoin="round"/>
<path d="M1331.3 488.0 L1348.3 488.0" fill="none" stroke="#b6b7b9" stroke-width="4.8" stroke-linejoin="round"/>
<path d="M1294.5 497.2 L1348.3 497.2" fill="none" stroke="#b6b7b9" stroke-width="4.8" stroke-linejoin="round"/>
<path d="M1242.1 519.2 L1294.5 521.3" fill="none" stroke="#b6b7b9" stroke-width="4.8" stroke-linejoin="round"/>
<path d="M1218.0 520.6 L1242.1 519.9" fill="none" stroke="#b6b7b9" stroke-width="2.5" stroke-linejoin="round"/>
<path d="M1219.4 451.9 L1235.0 447.6 L1249.1 439.1 L1284.5 413.6" fill="none" stroke="#fff" stroke-width="2.2" stroke-linejoin="round"/>
<path d="M1260.5 438.4 L1270.4 433.5 L1288.8 419.3" fill="none" stroke="#fff" stroke-width="2.2" stroke-linejoin="round"/>
<path d="M1298.7 399.5 L1308.6 393.8 L1317.1 393.1 L1331.3 382.5" fill="none" stroke="#fff" stroke-width="3.0" stroke-linejoin="round"/>
<path d="M1315.7 409.4 L1329.9 399.5 L1346.9 394.5" fill="none" stroke="#fff" stroke-width="3.0" stroke-linejoin="round"/>
<path d="M1260.5 498.6 L1294.5 495.8" fill="none" stroke="#fff" stroke-width="1.2" stroke-linejoin="round"/>
<path d="M1331.3 485.2 L1348.3 484.5" fill="none" stroke="#fff" stroke-width="1.0" stroke-linejoin="round"/>
<path d="M1158.5 502.2 L1202.4 485.9 L1216.6 481.6 L1240.6 474.5 L1257.6 467.5 L1293.0 455.4 L1329.9 444.1 L1365.3 431.3" fill="none" stroke="#3b6895" stroke-width="4.3" stroke-linejoin="round"/>
<path d="M1475.3 474.6 L1526.3 448.3 L1551.0 442.1 L1586.6 423.6 L1611.3 406.6 L1629.8 392.6 L1648.4 384.9 L1665.4 377.2 L1683.2 366.4 L1683.2 443.6 L1665.4 448.3 L1665.4 475.3 L1647.6 476.1 L1647.6 482.3 L1611.3 481.5 L1574.2 489.2 L1520.1 505.5 L1520.1 510.1 L1512.4 514.7 L1512.4 531.7 L1475.3 537.9Z" fill="#b6b7b9"/>
<path d="M1475.3 435.1 L1518.6 418.9 L1558.7 412.7 L1571.1 413.5" fill="none" stroke="#b6b7b9" stroke-width="4.6" stroke-linejoin="round"/>
<path d="M1475.3 470.7 L1527.8 437.5 L1574.2 409.6 L1612.8 381.8 L1629.8 364.8 L1682.4 329.3" fill="none" stroke="#b6b7b9" stroke-width="5.0" stroke-linejoin="round"/>
<path d="M1526.3 446.7 L1549.5 439.8 L1574.2 426.6 L1592.7 409.6 L1611.3 386.5 L1632.9 377.2 L1648.4 371.0 L1663.8 359.4 L1682.4 354.8" fill="none" stroke="#b6b7b9" stroke-width="4.8" stroke-linejoin="round"/>
<path d="M1665.4 451.4 L1683.2 451.4" fill="none" stroke="#b6b7b9" stroke-width="4.6" stroke-linejoin="round"/>
<path d="M1572.6 490.0 L1611.3 482.3 L1647.6 480.7" fill="none" stroke="#b6b7b9" stroke-width="4.6" stroke-linejoin="round"/>
<path d="M1475.3 541.8 L1511.6 539.5" fill="none" stroke="#b6b7b9" stroke-width="5.0" stroke-linejoin="round"/>
<path d="M1520.1 513.2 L1530.9 513.2" fill="none" stroke="#b6b7b9" stroke-width="4.6" stroke-linejoin="round"/>
<path d="M1665.4 398.8 L1683.2 398.1" fill="none" stroke="#b6b7b9" stroke-width="4.6" stroke-linejoin="round"/>
<path d="M1530.9 445.2 L1549.5 439.0 L1572.6 426.6 L1589.6 414.3 L1605.1 400.4" fill="none" stroke="#fff" stroke-width="2.0" stroke-linejoin="round"/>
<path d="M1586.6 422.8 L1605.1 406.6" fill="none" stroke="#fff" stroke-width="2.0" stroke-linejoin="round"/>
<path d="M1665.4 401.1 L1683.2 393.4" fill="none" stroke="#fff" stroke-width="2.0" stroke-linejoin="round"/>
<path d="M1612.8 395.7 L1629.8 388.8 L1643.7 386.5" fill="none" stroke="#fff" stroke-width="1.5" stroke-linejoin="round"/>
<path d="M1475.3 539.5 L1511.6 535.6" fill="none" stroke="#fff" stroke-width="1.2" stroke-linejoin="round"/>
<path d="M1574.2 488.5 L1611.3 480.7" fill="none" stroke="#fff" stroke-width="1.2" stroke-linejoin="round"/>
<path d="M1476.0 499.3 L1518.6 468.4 L1530.9 463.7 L1558.7 450.6 L1589.6 435.9 L1629.8 407.3 L1648.4 398.8 L1682.4 386.5" fill="none" stroke="#91633a" stroke-width="4.6" stroke-linejoin="round"/>
<path d="M238.4 1050.7 L240.3 1045.9 L244.1 1045.0 L247.9 1036.4 L251.2 1024.1 L255.5 1033.6 L258.8 1026.0 L263.1 1029.8 L266.9 1032.6 L270.7 1023.1 L273.6 1005.1 L278.3 1004.1 L282.1 1023.1 L285.9 1019.3 L289.7 1001.3 L293.5 1001.3 L297.3 1010.8 L301.1 1007.9 L304.9 1006.0 L308.7 996.5 L314.4 975.6 L316.3 971.8 L320.1 969.9 L323.9 930.0 L327.7 975.6 L331.5 946.2 L335.3 977.5 L339.1 980.4 L342.9 973.7 L346.7 943.3 L350.5 990.8 L354.3 935.7 L358.1 934.8 L361.9 945.2 L365.7 930.0 L369.5 942.4 L373.3 927.2 L377.1 861.7 L380.9 904.4 L384.7 875.0 L388.5 888.3 L392.8 830.3 L396.1 886.4 L400.0 969.9 L406.4 903.7 L411.4 919.0 L415.3 851.6 L419.1 945.7 L424.2 934.3 L426.7 899.9 L430.5 949.5 L434.3 866.9 L438.1 930.4 L445.8 837.6 L452.1 927.9 L457.2 954.6 L461.0 892.3 L464.8 987.7 L468.6 906.3 L472.5 891.0 L476.3 917.7 L480.1 855.4 L487.7 949.5 L491.5 824.9 L497.9 854.2 L503.0 757.5 L508.1 769.0 L510.6 866.9 L514.4 835.1 L518.2 885.9 L524.6 818.6 L529.7 692.7 L532.7 832.6 L537.3 804.6 L541.1 906.3 L546.2 896.1 L548.7 804.6 L552.6 818.6 L556.4 863.1 L562.7 884.7 L575.4 988.9 L578.0 830.0 L583.1 827.5 L588.2 959.7 L591.2 865.6" fill="none" stroke="#91633a" stroke-width="4" stroke-linejoin="round"/>
<path d="M227.0 1047.8 L230.8 1036.4 L234.1 1018.4 L239.8 1032.6 L244.1 1007.9 L247.9 1015.5 L251.7 1007.9 L255.1 992.7 L258.8 1006.0 L263.1 1003.2 L266.9 997.5 L270.7 1005.1 L274.5 975.6 L277.9 956.6 L281.2 983.2 L285.9 998.4 L289.7 990.8 L293.1 968.0 L297.3 994.6 L301.1 1011.7 L304.9 1010.8 L308.7 1006.0 L316.3 988.9 L320.1 1011.7 L323.9 984.2 L326.8 1012.7 L331.5 1009.8 L335.3 1032.6 L339.1 1015.5 L342.9 1007.9 L346.1 983.2 L350.5 1009.8 L354.3 988.9 L358.1 980.4 L361.9 1002.2 L366.6 995.6 L369.5 975.6 L373.3 988.9 L377.1 971.8 L380.9 1005.1 L384.7 978.5 L388.5 1000.3 L392.3 984.2 L396.1 999.4 L400.0 995.3 L405.1 982.6 L411.4 978.8 L415.3 958.4 L419.1 967.3 L422.9 982.6 L426.7 981.3 L430.5 1001.6 L434.3 961.0 L438.1 1013.1 L442.0 1000.4 L445.8 978.8 L449.6 976.2 L453.4 987.7 L461.0 973.7 L464.8 1022.0 L468.6 987.7 L472.5 997.8 L480.1 961.0 L487.7 1010.5 L491.5 967.3 L495.3 974.9 L499.2 966.0 L503.0 974.9 L510.6 931.7 L518.2 1000.4 L522.0 974.9 L525.9 985.1 L529.7 941.9 L533.5 982.6 L537.3 948.2 L544.9 991.5 L548.7 926.6 L552.6 915.2 L556.4 883.4 L560.2 901.2 L564.0 936.8 L567.8 826.2 L571.6 948.2 L575.4 964.8 L579.3 892.3 L583.1 917.7 L586.9 995.3 L591.2 953.3" fill="none" stroke="#3b6895" stroke-width="4" stroke-linejoin="round"/>
<path d="M307.3 1491.0 L313.3 1483.5 L319.2 1474.6 L325.2 1461.1 L332.7 1444.7 L340.1 1435.8 L346.1 1428.4 L352.0 1417.9 L361.0 1401.5 L368.4 1385.1 L374.4 1379.2 L380.4 1359.8 L387.8 1340.4 L395.3 1316.6 L405.7 1304.6 L414.6 1289.7 L420.6 1277.8 L426.6 1273.3 L434.0 1259.9 L440.0 1249.5 L445.9 1237.6 L451.9 1224.1 L459.4 1221.2 L465.3 1213.7 L474.3 1204.8 L480.2 1198.8 L484.7 1191.4 L492.1 1183.9 L498.1 1179.4 L507.1 1170.5 L513.0 1167.5 L520.5 1158.6 L527.9 1151.1 L536.9 1137.7 L545.8 1131.7 L557.7 1127.3 L569.7 1121.3 L577.1 1118.3 L584.6 1110.9 L590.5 1104.9" fill="none" stroke="#91633a" stroke-width="4.2" stroke-linejoin="round" stroke-linecap="round"/>
<path d="M308.8 1493.9 L316.3 1485.0 L322.2 1474.6 L328.2 1464.1 L335.6 1455.2 L344.6 1450.7 L355.0 1441.8 L364.0 1434.3 L372.9 1425.4 L381.8 1414.9 L390.8 1404.5 L396.8 1395.6 L407.2 1386.6 L414.6 1376.2 L422.1 1367.2 L431.0 1358.3 L437.0 1349.4 L444.4 1343.4 L451.9 1330.0 L456.4 1325.5 L465.3 1319.5 L471.3 1312.1 L477.2 1303.1 L487.7 1292.7 L495.1 1282.3 L504.1 1271.8 L511.5 1268.9 L520.5 1259.9 L527.9 1254.0 L536.9 1249.5 L544.3 1242.0 L553.3 1236.1 L560.7 1228.6 L569.7 1219.7 L578.6 1215.2 L584.6 1209.2 L590.5 1204.8" fill="none" stroke="#3b6895" stroke-width="4.2" stroke-linejoin="round" stroke-linecap="round"/>
<text x="-1" y="50" font-size="48" text-anchor="start" fill="#231f20" >a</text>
<text x="732" y="49" font-size="48" text-anchor="start" fill="#231f20" >b</text>
<text x="732" y="309" font-size="48" text-anchor="start" fill="#231f20" >c</text>
<text x="0" y="706.5" font-size="48" text-anchor="start" fill="#231f20" >d</text>
<text x="736" y="707" font-size="48" text-anchor="start" fill="#231f20" >e</text>
<text x="-1.5" y="1119.8" font-size="48" text-anchor="start" fill="#231f20" >f</text>
<text x="736.5" y="1159" font-size="48" text-anchor="start" fill="#231f20" >g</text>
<rect x="153" y="45.5" width="497" height="555.5" fill="none" stroke="#231f20" stroke-width="2.6"/>
<line x1="143.7" y1="96.2" x2="152" y2="96.2" stroke="#231f20" stroke-width="3"/>
<text x="136" y="110" font-size="35" text-anchor="end" fill="#231f20" >54°N</text>
<line x1="143.7" y1="304.2" x2="152" y2="304.2" stroke="#231f20" stroke-width="3"/>
<text x="136" y="322.4" font-size="35" text-anchor="end" fill="#231f20" >50°N</text>
<line x1="143.7" y1="509.8" x2="152" y2="509.8" stroke="#231f20" stroke-width="3"/>
<text x="136" y="523.7" font-size="35" text-anchor="end" fill="#231f20" >46°N</text>
<line x1="203.5" y1="601" x2="203.5" y2="609.5" stroke="#231f20" stroke-width="3"/>
<text x="169.5" y="645" font-size="35" text-anchor="start" fill="#231f20" >5°E</text>
<line x1="388.8" y1="601" x2="388.8" y2="609.5" stroke="#231f20" stroke-width="3"/>
<text x="341.6" y="645" font-size="35" text-anchor="start" fill="#231f20" >10°E</text>
<line x1="573.1" y1="601" x2="573.1" y2="609.5" stroke="#231f20" stroke-width="3"/>
<text x="528.9" y="645" font-size="35" text-anchor="start" fill="#231f20" >15°E</text>
<rect x="841.5" y="318" width="228.8" height="238" fill="none" stroke="#231f20" stroke-width="2.6"/>
<line x1="837.5" y1="378.2" x2="841.5" y2="378.2" stroke="#231f20" stroke-width="1.3"/>
<text x="832.2" y="389.4" font-size="31" text-anchor="end" fill="#231f20" >75</text>
<line x1="837.5" y1="444.5" x2="841.5" y2="444.5" stroke="#231f20" stroke-width="1.3"/>
<text x="832.2" y="455.7" font-size="31" text-anchor="end" fill="#231f20" >50</text>
<line x1="837.5" y1="510" x2="841.5" y2="510" stroke="#231f20" stroke-width="1.3"/>
<text x="832.2" y="521.2" font-size="31" text-anchor="end" fill="#231f20" >25</text>
<line x1="845.9" y1="556" x2="845.9" y2="560" stroke="#231f20" stroke-width="1.3"/>
<text x="848.6" y="588.6" font-size="31" text-anchor="middle" fill="#231f20" >1900</text>
<line x1="931.3" y1="556" x2="931.3" y2="560" stroke="#231f20" stroke-width="1.3"/>
<text x="934" y="588.6" font-size="31" text-anchor="middle" fill="#231f20" >1950</text>
<line x1="1022.8" y1="556" x2="1022.8" y2="560" stroke="#231f20" stroke-width="1.3"/>
<text x="1024.9" y="588.6" font-size="31" text-anchor="middle" fill="#231f20" >2020</text>
<rect x="1148" y="318" width="228.8" height="238" fill="none" stroke="#231f20" stroke-width="2.6"/>
<line x1="1144" y1="378.2" x2="1148" y2="378.2" stroke="#231f20" stroke-width="1.3"/>
<text x="1138.7" y="389.4" font-size="31" text-anchor="end" fill="#231f20" >75</text>
<line x1="1144" y1="444.5" x2="1148" y2="444.5" stroke="#231f20" stroke-width="1.3"/>
<text x="1138.7" y="455.7" font-size="31" text-anchor="end" fill="#231f20" >50</text>
<line x1="1144" y1="510" x2="1148" y2="510" stroke="#231f20" stroke-width="1.3"/>
<text x="1138.7" y="521.2" font-size="31" text-anchor="end" fill="#231f20" >25</text>
<line x1="1151.3" y1="556" x2="1151.3" y2="560" stroke="#231f20" stroke-width="1.3"/>
<text x="1153" y="588.6" font-size="31" text-anchor="middle" fill="#231f20" >1900</text>
<line x1="1241" y1="556" x2="1241" y2="560" stroke="#231f20" stroke-width="1.3"/>
<text x="1239.4" y="588.6" font-size="31" text-anchor="middle" fill="#231f20" >1950</text>
<line x1="1330.9" y1="556" x2="1330.9" y2="560" stroke="#231f20" stroke-width="1.3"/>
<text x="1329.8" y="588.6" font-size="31" text-anchor="middle" fill="#231f20" >2020</text>
<rect x="1464.6" y="318" width="228.8" height="238" fill="none" stroke="#231f20" stroke-width="2.6"/>
<line x1="1460.6" y1="378.2" x2="1464.6" y2="378.2" stroke="#231f20" stroke-width="1.3"/>
<text x="1455.3" y="389.4" font-size="31" text-anchor="end" fill="#231f20" >75</text>
<line x1="1460.6" y1="444.5" x2="1464.6" y2="444.5" stroke="#231f20" stroke-width="1.3"/>
<text x="1455.3" y="455.7" font-size="31" text-anchor="end" fill="#231f20" >50</text>
<line x1="1460.6" y1="510" x2="1464.6" y2="510" stroke="#231f20" stroke-width="1.3"/>
<text x="1455.3" y="521.2" font-size="31" text-anchor="end" fill="#231f20" >25</text>
<line x1="1469" y1="556" x2="1469" y2="560" stroke="#231f20" stroke-width="1.3"/>
<text x="1470.1" y="588.6" font-size="31" text-anchor="middle" fill="#231f20" >1900</text>
<line x1="1557.6" y1="556" x2="1557.6" y2="560" stroke="#231f20" stroke-width="1.3"/>
<text x="1556" y="588.6" font-size="31" text-anchor="middle" fill="#231f20" >1950</text>
<line x1="1647.4" y1="556" x2="1647.4" y2="560" stroke="#231f20" stroke-width="1.3"/>
<text x="1646.4" y="588.6" font-size="31" text-anchor="middle" fill="#231f20" >2020</text>
<text x="1266.3" y="615.3" font-size="30.5" text-anchor="middle" fill="#231f20" >Year</text>
<text x="0" y="0" font-size="31" text-anchor="middle" fill="#231f20" transform="translate(784.7,446.6) rotate(-90)">DBH (cm)</text>
<text x="957.5" y="302.6" font-size="34.7" text-anchor="middle" fill="#231f20" >unthinned</text>
<text x="1255.5" y="302.6" font-size="34.7" text-anchor="middle" fill="#231f20" >moderately thinned</text>
<text x="1577" y="302.6" font-size="34.7" text-anchor="middle" fill="#231f20" >heavily thinned</text>
<rect x="196.2" y="675.8" width="434.5" height="392.5" fill="none" stroke="#231f20" stroke-width="3.4"/>
<line x1="192.5" y1="693.3" x2="196" y2="693.3" stroke="#231f20" stroke-width="1.5"/>
<text x="185.5" y="706.0" font-size="35" text-anchor="end" fill="#231f20" >60</text>
<line x1="192.5" y1="814.1" x2="196" y2="814.1" stroke="#231f20" stroke-width="1.5"/>
<text x="185.5" y="826.8000000000001" font-size="35" text-anchor="end" fill="#231f20" >40</text>
<line x1="192.5" y1="935.2" x2="196" y2="935.2" stroke="#231f20" stroke-width="1.5"/>
<text x="185.5" y="947.9000000000001" font-size="35" text-anchor="end" fill="#231f20" >20</text>
<line x1="192.5" y1="1056.4" x2="196" y2="1056.4" stroke="#231f20" stroke-width="1.5"/>
<text x="185.5" y="1069.1000000000001" font-size="35" text-anchor="end" fill="#231f20" >0</text>
<line x1="214.9" y1="677.6" x2="214.9" y2="1068" stroke="#000" stroke-width="3.5" stroke-dasharray="9.2 9.3"/>
<line x1="306.4" y1="677.6" x2="306.4" y2="1068" stroke="#000" stroke-width="3.5" stroke-dasharray="9.2 9.3"/>
<line x1="592.3" y1="677.6" x2="592.3" y2="1068" stroke="#000" stroke-width="3.5" stroke-dasharray="9.2 9.3"/>
<text x="0" y="0" font-size="35" text-anchor="middle" fill="#231f20" transform="translate(86.5,873) rotate(-90)">Basal area increment</text>
<text x="0" y="0" font-size="35" text-anchor="middle" fill="#231f20" transform="translate(120.5,869.7) rotate(-90)">(cm<tspan font-size="21" dy="-12">2</tspan><tspan dy="12"> year</tspan><tspan font-size="21" dy="-12">-1</tspan><tspan dy="12">)</tspan></text>
<rect x="194.5" y="1085" width="437.5" height="428" fill="none" stroke="#231f20" stroke-width="3.2"/>
<line x1="190" y1="1205.2" x2="194" y2="1205.2" stroke="#231f20" stroke-width="1.5"/>
<text x="185.2" y="1217.9" font-size="35" text-anchor="end" fill="#231f20" >100</text>
<line x1="190" y1="1350.6" x2="194" y2="1350.6" stroke="#231f20" stroke-width="1.5"/>
<text x="185.2" y="1363.3" font-size="35" text-anchor="end" fill="#231f20" >50</text>
<line x1="190" y1="1494.7" x2="194" y2="1494.7" stroke="#231f20" stroke-width="1.5"/>
<text x="185.2" y="1507.4" font-size="35" text-anchor="end" fill="#231f20" >0</text>
<line x1="214.9" y1="1087" x2="214.9" y2="1512" stroke="#000" stroke-width="2.2" stroke-dasharray="8.8 9.9"/>
<line x1="306.4" y1="1087" x2="306.4" y2="1512" stroke="#000" stroke-width="2.2" stroke-dasharray="8.8 9.9"/>
<line x1="592.2" y1="1087" x2="592.2" y2="1512" stroke="#000" stroke-width="2.2" stroke-dasharray="8.8 9.9"/>
<line x1="286.5" y1="1513" x2="286.5" y2="1518" stroke="#231f20" stroke-width="1.5"/>
<text x="285.0" y="1551.7" font-size="35" text-anchor="middle" fill="#231f20" >1860</text>
<line x1="438.5" y1="1513" x2="438.5" y2="1518" stroke="#231f20" stroke-width="1.5"/>
<text x="437.0" y="1551.7" font-size="35" text-anchor="middle" fill="#231f20" >1940</text>
<line x1="592.2" y1="1513" x2="592.2" y2="1518" stroke="#231f20" stroke-width="1.5"/>
<text x="590.7" y="1551.7" font-size="35" text-anchor="middle" fill="#231f20" >2020</text>
<text x="85" y="1551.7" font-size="35" text-anchor="start" fill="#231f20" >Year</text>
<text x="0" y="0" font-size="35" text-anchor="middle" fill="#231f20" transform="translate(86,1297) rotate(-90)">Cumulative cell number</text>
<text x="0" y="0" font-size="35" text-anchor="middle" fill="#231f20" transform="translate(121.4,1300.5) rotate(-90)">(n × 10<tspan font-size="21" dy="-12">4</tspan><tspan dy="12">)</tspan></text>
<text x="0" y="0" font-size="30.5" text-anchor="middle" fill="#231f20" transform="translate(242.6,1234.6) rotate(-90)">Start of growth</text>
<text x="0" y="0" font-size="30.5" text-anchor="middle" fill="#231f20" transform="translate(335,1255.6) rotate(-90)">Start of treatments</text>
<text x="0" y="0" font-size="30.5" text-anchor="middle" fill="#231f20" transform="translate(622.9,1200.2) rotate(-90)">Tree felling</text>
<rect x="1203" y="746.3" width="58" height="369" fill="#f3f3f3"/>
<line x1="848.6" y1="746.5" x2="1659.4" y2="746.5" stroke="#505050" stroke-width="1.1"/>
<line x1="848.6" y1="838.5" x2="1659.4" y2="838.5" stroke="#505050" stroke-width="1.1"/>
<line x1="848.6" y1="931.5" x2="1659.4" y2="931.5" stroke="#505050" stroke-width="1.1"/>
<line x1="848.6" y1="1023.5" x2="1659.4" y2="1023.5" stroke="#505050" stroke-width="1.1"/>
<line x1="848.6" y1="1115.5" x2="1659.4" y2="1115.5" stroke="#231f20" stroke-width="2"/>
<text x="890.5" y="734.3" font-size="35" text-anchor="end" fill="#231f20" >80</text>
<text x="890.5" y="830.5" font-size="35" text-anchor="end" fill="#231f20" >60</text>
<text x="890.5" y="920.3" font-size="35" text-anchor="end" fill="#231f20" >40</text>
<text x="890.5" y="1012.6" font-size="35" text-anchor="end" fill="#231f20" >20</text>
<text x="890.5" y="1103.6" font-size="35" text-anchor="end" fill="#231f20" >0</text>
<text x="1656.3" y="734.3" font-size="35" text-anchor="end" fill="#231f20" >80</text>
<text x="1656.3" y="830.5" font-size="35" text-anchor="end" fill="#231f20" >60</text>
<text x="1656.3" y="920.3" font-size="35" text-anchor="end" fill="#231f20" >40</text>
<text x="1656.3" y="1012.6" font-size="35" text-anchor="end" fill="#231f20" >20</text>
<text x="1656.3" y="1103.6" font-size="35" text-anchor="end" fill="#231f20" >0</text>
<text x="1666.5" y="734.3" font-size="35" text-anchor="start" fill="#231f20" >cm</text>
<text x="911.6999999999999" y="734.3" font-size="35" text-anchor="start" fill="#231f20" >0</text>
<text x="995.6999999999999" y="734.3" font-size="35" text-anchor="start" fill="#231f20" >20</text>
<text x="1085.8000000000002" y="734.3" font-size="35" text-anchor="start" fill="#231f20" >40</text>
<text x="1171.7" y="734.3" font-size="35" text-anchor="start" fill="#231f20" >60</text>
<text x="1247.4" y="734.3" font-size="35" text-anchor="start" fill="#231f20" >0</text>
<text x="1334.9" y="734.3" font-size="35" text-anchor="start" fill="#231f20" >20</text>
<text x="1423.4" y="734.3" font-size="35" text-anchor="start" fill="#231f20" >40</text>
<text x="1515.9" y="734.3" font-size="35" text-anchor="start" fill="#231f20" >60</text>
<pattern id="gp" patternUnits="userSpaceOnUse" width="4.9" height="4.9" x="0.3" y="0.6"><rect width="4.9" height="4.9" fill="#fbfbfb"/><path d="M0 0.5H4.9M0.5 0V4.9" stroke="#a8a8a8" stroke-width="0.85"/><path d="M0 2.95H4.9M2.95 0V4.9" stroke="#ebebeb" stroke-width="0.5"/></pattern>
<pattern id="gpr" patternUnits="userSpaceOnUse" width="46" height="46" x="10" y="16"><path d="M0 0.6H46M0.6 0V46" stroke="#e88a98" stroke-width="1" stroke-opacity="0.35"/></pattern>
<filter id="wood" x="0" y="0" width="1" height="1"><feTurbulence type="fractalNoise" baseFrequency="0.03 0.45" numOctaves="3" seed="4"/><feColorMatrix type="matrix" values="0 0 0 0 0.35  0 0 0 0 0.28  0 0 0 0 0.22  2.4 0 0 0 -1.0"/></filter>
<filter id="wood2" x="0" y="0" width="1" height="1"><feTurbulence type="fractalNoise" baseFrequency="0.4" numOctaves="2" seed="8"/><feColorMatrix type="matrix" values="0 0 0 0 0.95  0 0 0 0 0.92  0 0 0 0 0.88  2.2 0 0 0 -1.1"/></filter>
<filter id="blur2"><feGaussianBlur stdDeviation="2.2"/></filter>
<filter id="blur1"><feGaussianBlur stdDeviation="1"/></filter>
<rect x="919" y="748" width="279" height="368" fill="url(#gp)"/>
<rect x="919" y="748" width="279" height="368" fill="url(#gpr)"/>
<rect x="1266" y="748" width="317" height="367" fill="url(#gp)"/>
<rect x="1266" y="748" width="317" height="367" fill="url(#gpr)"/>
<clipPath id="dclip0"><path d="M973.0 875.0 L997.0 866.0 L1038.0 860.0 L1056.0 859.0 L1085.0 863.0 L1120.0 878.0 L1144.0 896.0 L1163.0 916.0 L1120.0 938.0 L1085.0 955.0 L1058.0 968.0 L1097.0 949.0 L1132.0 936.0 L1165.0 931.0 L1171.0 943.0 L1171.0 972.0 L1163.0 1013.0 L1145.0 1043.0 L1126.0 1066.0 L1097.0 1084.0 L1062.0 1102.0 L1032.0 1111.0 L1008.0 1111.0 L979.0 1103.0 L955.0 1085.0 L938.0 1060.0 L929.0 1025.0 L925.5 990.0 L925.5 949.0 L932.0 925.0 L950.0 896.0Z"/></clipPath>
<g clip-path="url(#dclip0)">
<rect x="924" y="857" width="250" height="256" fill="#a6977f"/>
<radialGradient id="rg0" cx="1053" cy="972" r="150" gradientUnits="userSpaceOnUse"><stop offset="0" stop-color="#c0b2aa" stop-opacity="0.5"/><stop offset="0.55" stop-color="#bcae9c" stop-opacity="0.25"/><stop offset="0.8" stop-color="#a09080" stop-opacity="0.15"/><stop offset="1" stop-color="#6a5a4c" stop-opacity="0.45"/></radialGradient>
<rect x="924" y="857" width="250" height="256" fill="url(#rg0)"/>
<rect x="864" y="797" width="370" height="376" filter="url(#wood)" opacity="0.5" transform="rotate(0 1048 985)"/>
<rect x="924" y="857" width="250" height="256" filter="url(#wood2)" opacity="0.35"/>
<line x1="1053" y1="972" x2="817.0" y2="928.3" stroke="#c8bcc0" stroke-width="24.0" stroke-opacity="0.45" filter="url(#blur2)"/><line x1="1053" y1="972" x2="817.0" y2="928.3" stroke="#7d5e6a" stroke-width="10" stroke-opacity="0.8" filter="url(#blur1)"/><line x1="1053" y1="972" x2="1061.4" y2="732.1" stroke="#c8bcc0" stroke-width="24.0" stroke-opacity="0.45" filter="url(#blur2)"/><line x1="1053" y1="972" x2="1061.4" y2="732.1" stroke="#7d5e6a" stroke-width="10" stroke-opacity="0.8" filter="url(#blur1)"/><line x1="1053" y1="972" x2="997.4" y2="1205.5" stroke="#c8bcc0" stroke-width="24.0" stroke-opacity="0.45" filter="url(#blur2)"/><line x1="1053" y1="972" x2="997.4" y2="1205.5" stroke="#7d5e6a" stroke-width="10" stroke-opacity="0.8" filter="url(#blur1)"/><line x1="1053" y1="972" x2="1255.0" y2="1101.7" stroke="#c8bcc0" stroke-width="24.0" stroke-opacity="0.45" filter="url(#blur2)"/><line x1="1053" y1="972" x2="1255.0" y2="1101.7" stroke="#7d5e6a" stroke-width="10" stroke-opacity="0.8" filter="url(#blur1)"/>
<circle cx="1053" cy="972" r="9" fill="#7d5e6a" fill-opacity="0.6" filter="url(#blur2)"/>
</g>
<path d="M973.0 875.0 L997.0 866.0 L1038.0 860.0 L1056.0 859.0 L1085.0 863.0 L1120.0 878.0 L1144.0 896.0 L1163.0 916.0 L1120.0 938.0 L1085.0 955.0 L1058.0 968.0 L1097.0 949.0 L1132.0 936.0 L1165.0 931.0 L1171.0 943.0 L1171.0 972.0 L1163.0 1013.0 L1145.0 1043.0 L1126.0 1066.0 L1097.0 1084.0 L1062.0 1102.0 L1032.0 1111.0 L1008.0 1111.0 L979.0 1103.0 L955.0 1085.0 L938.0 1060.0 L929.0 1025.0 L925.5 990.0 L925.5 949.0 L932.0 925.0 L950.0 896.0Z" fill="none" stroke="#4a3b30" stroke-width="1.4" stroke-linejoin="round"/>
<clipPath id="dclip1"><path d="M1355.9 788.4 L1308.8 819.0 L1285.2 854.3 L1273.5 895.5 L1270.5 942.6 L1273.5 989.7 L1285.2 1025.0 L1308.8 1060.4 L1338.2 1089.8 L1367.7 1104.5 L1397.1 1110.4 L1456.0 1107.5 L1497.2 1089.8 L1532.5 1066.3 L1556.1 1036.8 L1573.7 989.7 L1579.6 942.6 L1576.7 895.5 L1567.8 860.2 L1544.3 824.9 L1514.9 795.4 L1473.6 774.8 L1432.4 766.0 L1385.3 771.9 L1370.6 792.5 L1416.0 874.0 L1414.0 874.0Z"/></clipPath>
<g clip-path="url(#dclip1)">
<rect x="1268" y="764" width="313" height="348" fill="#a19e8e"/>
<radialGradient id="rg1" cx="1431" cy="893" r="188" gradientUnits="userSpaceOnUse"><stop offset="0" stop-color="#c0b2aa" stop-opacity="0.5"/><stop offset="0.55" stop-color="#bcae9c" stop-opacity="0.25"/><stop offset="0.8" stop-color="#a09080" stop-opacity="0.15"/><stop offset="1" stop-color="#6a5a4c" stop-opacity="0.45"/></radialGradient>
<rect x="1268" y="764" width="313" height="348" fill="url(#rg1)"/>
<rect x="1208" y="704" width="433" height="468" filter="url(#wood)" opacity="0.5" transform="rotate(40 1425 938)"/>
<rect x="1268" y="764" width="313" height="348" filter="url(#wood2)" opacity="0.35"/>
<line x1="1431" y1="893" x2="1426.8" y2="653.0" stroke="#c8bcc0" stroke-width="26.4" stroke-opacity="0.45" filter="url(#blur2)"/><line x1="1431" y1="893" x2="1426.8" y2="653.0" stroke="#7f606c" stroke-width="11" stroke-opacity="0.8" filter="url(#blur1)"/><line x1="1431" y1="893" x2="1191.4" y2="878.8" stroke="#c8bcc0" stroke-width="24.0" stroke-opacity="0.45" filter="url(#blur2)"/><line x1="1431" y1="893" x2="1191.4" y2="878.8" stroke="#7f606c" stroke-width="10" stroke-opacity="0.8" filter="url(#blur1)"/><line x1="1431" y1="893" x2="1666.3" y2="846.0" stroke="#c8bcc0" stroke-width="24.0" stroke-opacity="0.45" filter="url(#blur2)"/><line x1="1431" y1="893" x2="1666.3" y2="846.0" stroke="#7f606c" stroke-width="10" stroke-opacity="0.8" filter="url(#blur1)"/><line x1="1431" y1="893" x2="1391.0" y2="1129.6" stroke="#c8bcc0" stroke-width="26.4" stroke-opacity="0.45" filter="url(#blur2)"/><line x1="1431" y1="893" x2="1391.0" y2="1129.6" stroke="#7f606c" stroke-width="11" stroke-opacity="0.8" filter="url(#blur1)"/>
<circle cx="1431" cy="893" r="9" fill="#7f606c" fill-opacity="0.6" filter="url(#blur2)"/>
</g>
<path d="M1355.9 788.4 L1308.8 819.0 L1285.2 854.3 L1273.5 895.5 L1270.5 942.6 L1273.5 989.7 L1285.2 1025.0 L1308.8 1060.4 L1338.2 1089.8 L1367.7 1104.5 L1397.1 1110.4 L1456.0 1107.5 L1497.2 1089.8 L1532.5 1066.3 L1556.1 1036.8 L1573.7 989.7 L1579.6 942.6 L1576.7 895.5 L1567.8 860.2 L1544.3 824.9 L1514.9 795.4 L1473.6 774.8 L1432.4 766.0 L1385.3 771.9 L1370.6 792.5 L1416.0 874.0 L1414.0 874.0Z" fill="none" stroke="#4a3b30" stroke-width="1.4" stroke-linejoin="round"/>
<path d="M1053 972 L1020 910 L995 868 M1053 972 L990 985 L945 1000" stroke="#2a221e" stroke-width="0.9" fill="none"/>
<path d="M1431 893 L1400 960 L1370 1030 L1345 1085 M1431 893 L1500 878 L1535 870" stroke="#2a221e" stroke-width="0.9" fill="none"/>
<path d="M1165 931 Q1120 940 1062 966" stroke="#2a221e" stroke-width="2" fill="none"/>
<rect x="919.4" y="748.6" width="278.3" height="367.3" fill="none" stroke="#3d6893" stroke-width="11.2"/>
<rect x="1266.9" y="748.4" width="316.4" height="366.9" fill="none" stroke="#916339" stroke-width="10.4"/>
<path d="M1028.5 1048.5 L1037.5 1046.5 L1040.5 1059.5 L1031.5 1061.5Z" fill="none" stroke="#000" stroke-width="2.6"/>
<line x1="1029" y1="1050" x2="843" y2="1176" stroke="#000" stroke-width="2.4" stroke-dasharray="6 4"/>
<line x1="1040" y1="1048" x2="1672" y2="1174" stroke="#000" stroke-width="2.6" stroke-dasharray="6 3.5"/>
<line x1="322.8" y1="697.1" x2="353.3" y2="697.1" stroke="#3b6895" stroke-width="6.5"/>
<line x1="322.8" y1="737.7" x2="353.3" y2="737.7" stroke="#91633a" stroke-width="6.5"/>
<text x="364.2" y="706.1" font-size="31.5" text-anchor="start" fill="#231f20" >Tree 109, moderate</text>
<text x="364.2" y="744.7" font-size="31.5" text-anchor="start" fill="#231f20" >Tree 171, heavy</text>
<line x1="403" y1="307.3" x2="716.3" y2="3.8" stroke="#000" stroke-width="2.5" stroke-dasharray="7.5 4"/>
<line x1="415.7" y1="346.6" x2="715.6" y2="626.4" stroke="#000" stroke-width="2.5" stroke-dasharray="7.5 4"/>
</svg></body></html>
